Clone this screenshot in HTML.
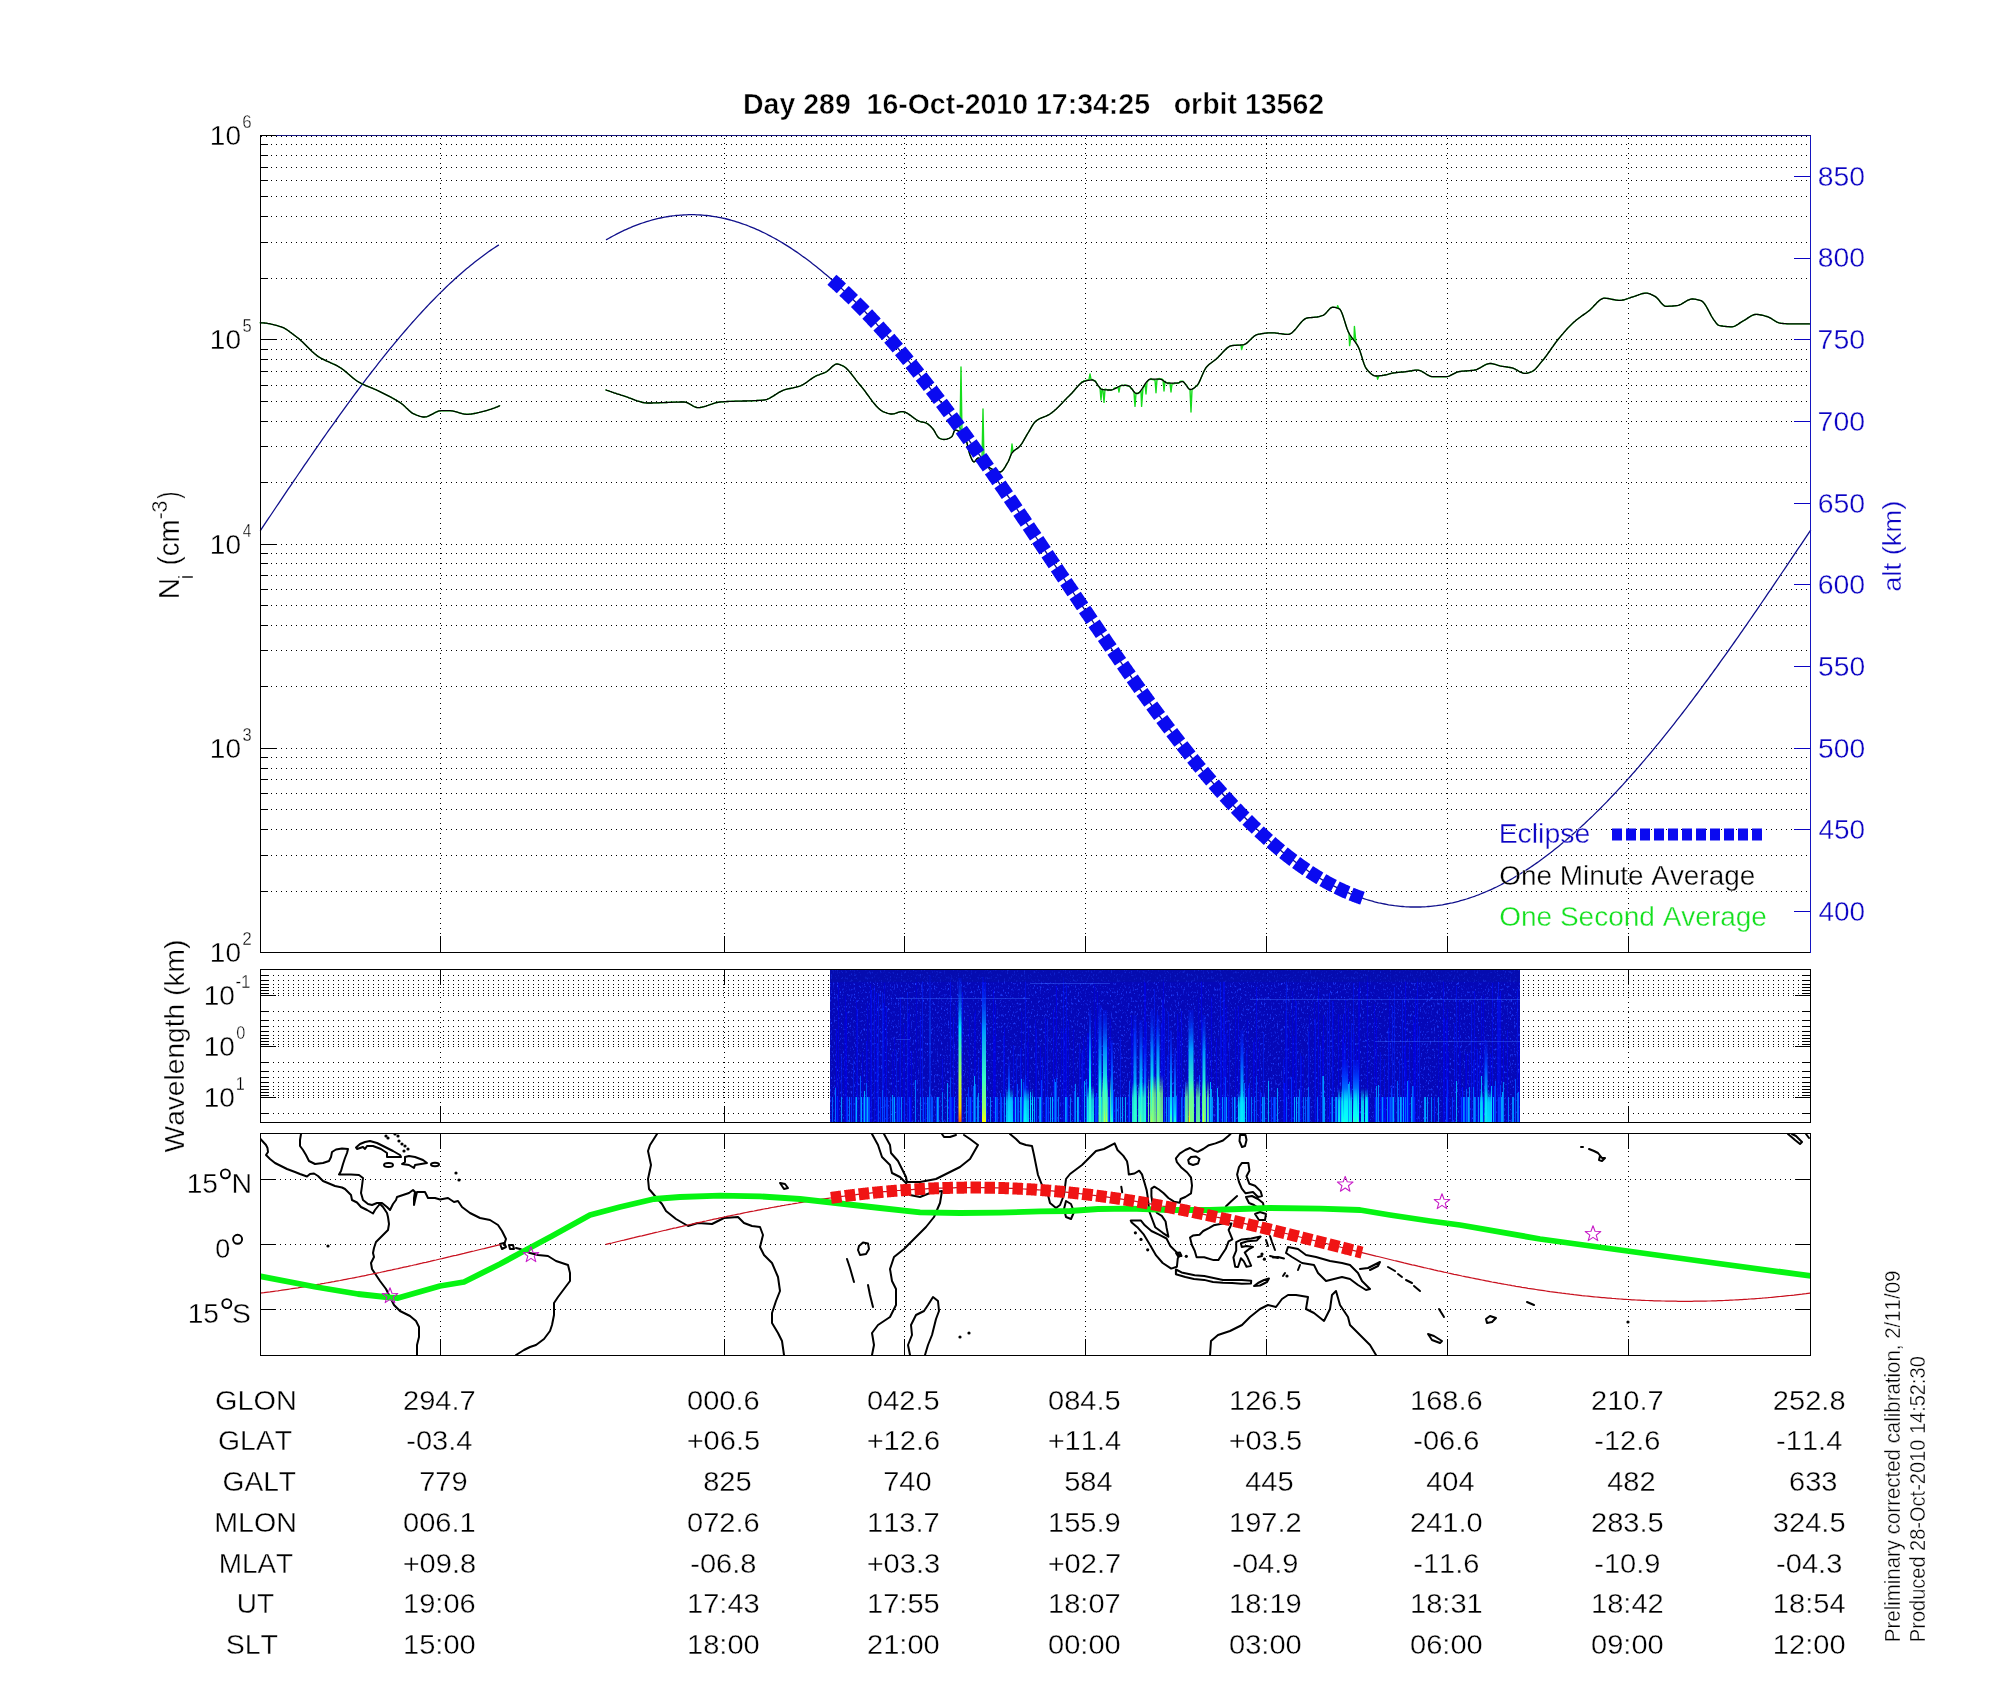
<!DOCTYPE html><html><head><meta charset="utf-8"><title>plot</title><style>html,body{margin:0;padding:0;background:#fff;overflow:hidden}svg{display:block;will-change:transform}text{font-family:"Liberation Sans",sans-serif;font-kerning:none;white-space:pre}</style></head><body>
<svg width="2000" height="1700" viewBox="0 0 2000 1700">
<rect x="0" y="0" width="2000" height="1700" fill="#fff"/>
<line x1="261" y1="891.5" x2="1810" y2="891.5" stroke="#000" stroke-width="1" stroke-dasharray="1 4" shape-rendering="crispEdges"/>
<line x1="260" y1="891.5" x2="268" y2="891.5" stroke="#000" stroke-width="1" shape-rendering="crispEdges"/>
<line x1="261" y1="855.5" x2="1810" y2="855.5" stroke="#000" stroke-width="1" stroke-dasharray="1 4" shape-rendering="crispEdges"/>
<line x1="260" y1="855.5" x2="268" y2="855.5" stroke="#000" stroke-width="1" shape-rendering="crispEdges"/>
<line x1="261" y1="829.5" x2="1810" y2="829.5" stroke="#000" stroke-width="1" stroke-dasharray="1 4" shape-rendering="crispEdges"/>
<line x1="260" y1="829.5" x2="268" y2="829.5" stroke="#000" stroke-width="1" shape-rendering="crispEdges"/>
<line x1="261" y1="809.5" x2="1810" y2="809.5" stroke="#000" stroke-width="1" stroke-dasharray="1 4" shape-rendering="crispEdges"/>
<line x1="260" y1="809.5" x2="268" y2="809.5" stroke="#000" stroke-width="1" shape-rendering="crispEdges"/>
<line x1="261" y1="793.5" x2="1810" y2="793.5" stroke="#000" stroke-width="1" stroke-dasharray="1 4" shape-rendering="crispEdges"/>
<line x1="260" y1="793.5" x2="268" y2="793.5" stroke="#000" stroke-width="1" shape-rendering="crispEdges"/>
<line x1="261" y1="779.5" x2="1810" y2="779.5" stroke="#000" stroke-width="1" stroke-dasharray="1 4" shape-rendering="crispEdges"/>
<line x1="260" y1="779.5" x2="268" y2="779.5" stroke="#000" stroke-width="1" shape-rendering="crispEdges"/>
<line x1="261" y1="768.5" x2="1810" y2="768.5" stroke="#000" stroke-width="1" stroke-dasharray="1 4" shape-rendering="crispEdges"/>
<line x1="260" y1="768.5" x2="268" y2="768.5" stroke="#000" stroke-width="1" shape-rendering="crispEdges"/>
<line x1="261" y1="757.5" x2="1810" y2="757.5" stroke="#000" stroke-width="1" stroke-dasharray="1 4" shape-rendering="crispEdges"/>
<line x1="260" y1="757.5" x2="268" y2="757.5" stroke="#000" stroke-width="1" shape-rendering="crispEdges"/>
<line x1="261" y1="748.5" x2="1810" y2="748.5" stroke="#000" stroke-width="1" stroke-dasharray="1 4" shape-rendering="crispEdges"/>
<line x1="260" y1="748.5" x2="277" y2="748.5" stroke="#000" stroke-width="1" shape-rendering="crispEdges"/>
<line x1="261" y1="686.5" x2="1810" y2="686.5" stroke="#000" stroke-width="1" stroke-dasharray="1 4" shape-rendering="crispEdges"/>
<line x1="260" y1="686.5" x2="268" y2="686.5" stroke="#000" stroke-width="1" shape-rendering="crispEdges"/>
<line x1="261" y1="650.5" x2="1810" y2="650.5" stroke="#000" stroke-width="1" stroke-dasharray="1 4" shape-rendering="crispEdges"/>
<line x1="260" y1="650.5" x2="268" y2="650.5" stroke="#000" stroke-width="1" shape-rendering="crispEdges"/>
<line x1="261" y1="625.5" x2="1810" y2="625.5" stroke="#000" stroke-width="1" stroke-dasharray="1 4" shape-rendering="crispEdges"/>
<line x1="260" y1="625.5" x2="268" y2="625.5" stroke="#000" stroke-width="1" shape-rendering="crispEdges"/>
<line x1="261" y1="605.5" x2="1810" y2="605.5" stroke="#000" stroke-width="1" stroke-dasharray="1 4" shape-rendering="crispEdges"/>
<line x1="260" y1="605.5" x2="268" y2="605.5" stroke="#000" stroke-width="1" shape-rendering="crispEdges"/>
<line x1="261" y1="589.5" x2="1810" y2="589.5" stroke="#000" stroke-width="1" stroke-dasharray="1 4" shape-rendering="crispEdges"/>
<line x1="260" y1="589.5" x2="268" y2="589.5" stroke="#000" stroke-width="1" shape-rendering="crispEdges"/>
<line x1="261" y1="575.5" x2="1810" y2="575.5" stroke="#000" stroke-width="1" stroke-dasharray="1 4" shape-rendering="crispEdges"/>
<line x1="260" y1="575.5" x2="268" y2="575.5" stroke="#000" stroke-width="1" shape-rendering="crispEdges"/>
<line x1="261" y1="563.5" x2="1810" y2="563.5" stroke="#000" stroke-width="1" stroke-dasharray="1 4" shape-rendering="crispEdges"/>
<line x1="260" y1="563.5" x2="268" y2="563.5" stroke="#000" stroke-width="1" shape-rendering="crispEdges"/>
<line x1="261" y1="553.5" x2="1810" y2="553.5" stroke="#000" stroke-width="1" stroke-dasharray="1 4" shape-rendering="crispEdges"/>
<line x1="260" y1="553.5" x2="268" y2="553.5" stroke="#000" stroke-width="1" shape-rendering="crispEdges"/>
<line x1="261" y1="544.5" x2="1810" y2="544.5" stroke="#000" stroke-width="1" stroke-dasharray="1 4" shape-rendering="crispEdges"/>
<line x1="260" y1="544.5" x2="277" y2="544.5" stroke="#000" stroke-width="1" shape-rendering="crispEdges"/>
<line x1="261" y1="482.5" x2="1810" y2="482.5" stroke="#000" stroke-width="1" stroke-dasharray="1 4" shape-rendering="crispEdges"/>
<line x1="260" y1="482.5" x2="268" y2="482.5" stroke="#000" stroke-width="1" shape-rendering="crispEdges"/>
<line x1="261" y1="446.5" x2="1810" y2="446.5" stroke="#000" stroke-width="1" stroke-dasharray="1 4" shape-rendering="crispEdges"/>
<line x1="260" y1="446.5" x2="268" y2="446.5" stroke="#000" stroke-width="1" shape-rendering="crispEdges"/>
<line x1="261" y1="421.5" x2="1810" y2="421.5" stroke="#000" stroke-width="1" stroke-dasharray="1 4" shape-rendering="crispEdges"/>
<line x1="260" y1="421.5" x2="268" y2="421.5" stroke="#000" stroke-width="1" shape-rendering="crispEdges"/>
<line x1="261" y1="401.5" x2="1810" y2="401.5" stroke="#000" stroke-width="1" stroke-dasharray="1 4" shape-rendering="crispEdges"/>
<line x1="260" y1="401.5" x2="268" y2="401.5" stroke="#000" stroke-width="1" shape-rendering="crispEdges"/>
<line x1="261" y1="385.5" x2="1810" y2="385.5" stroke="#000" stroke-width="1" stroke-dasharray="1 4" shape-rendering="crispEdges"/>
<line x1="260" y1="385.5" x2="268" y2="385.5" stroke="#000" stroke-width="1" shape-rendering="crispEdges"/>
<line x1="261" y1="371.5" x2="1810" y2="371.5" stroke="#000" stroke-width="1" stroke-dasharray="1 4" shape-rendering="crispEdges"/>
<line x1="260" y1="371.5" x2="268" y2="371.5" stroke="#000" stroke-width="1" shape-rendering="crispEdges"/>
<line x1="261" y1="359.5" x2="1810" y2="359.5" stroke="#000" stroke-width="1" stroke-dasharray="1 4" shape-rendering="crispEdges"/>
<line x1="260" y1="359.5" x2="268" y2="359.5" stroke="#000" stroke-width="1" shape-rendering="crispEdges"/>
<line x1="261" y1="349.5" x2="1810" y2="349.5" stroke="#000" stroke-width="1" stroke-dasharray="1 4" shape-rendering="crispEdges"/>
<line x1="260" y1="349.5" x2="268" y2="349.5" stroke="#000" stroke-width="1" shape-rendering="crispEdges"/>
<line x1="261" y1="339.5" x2="1810" y2="339.5" stroke="#000" stroke-width="1" stroke-dasharray="1 4" shape-rendering="crispEdges"/>
<line x1="260" y1="339.5" x2="277" y2="339.5" stroke="#000" stroke-width="1" shape-rendering="crispEdges"/>
<line x1="261" y1="278.5" x2="1810" y2="278.5" stroke="#000" stroke-width="1" stroke-dasharray="1 4" shape-rendering="crispEdges"/>
<line x1="260" y1="278.5" x2="268" y2="278.5" stroke="#000" stroke-width="1" shape-rendering="crispEdges"/>
<line x1="261" y1="242.5" x2="1810" y2="242.5" stroke="#000" stroke-width="1" stroke-dasharray="1 4" shape-rendering="crispEdges"/>
<line x1="260" y1="242.5" x2="268" y2="242.5" stroke="#000" stroke-width="1" shape-rendering="crispEdges"/>
<line x1="261" y1="216.5" x2="1810" y2="216.5" stroke="#000" stroke-width="1" stroke-dasharray="1 4" shape-rendering="crispEdges"/>
<line x1="260" y1="216.5" x2="268" y2="216.5" stroke="#000" stroke-width="1" shape-rendering="crispEdges"/>
<line x1="261" y1="196.5" x2="1810" y2="196.5" stroke="#000" stroke-width="1" stroke-dasharray="1 4" shape-rendering="crispEdges"/>
<line x1="260" y1="196.5" x2="268" y2="196.5" stroke="#000" stroke-width="1" shape-rendering="crispEdges"/>
<line x1="261" y1="180.5" x2="1810" y2="180.5" stroke="#000" stroke-width="1" stroke-dasharray="1 4" shape-rendering="crispEdges"/>
<line x1="260" y1="180.5" x2="268" y2="180.5" stroke="#000" stroke-width="1" shape-rendering="crispEdges"/>
<line x1="261" y1="167.5" x2="1810" y2="167.5" stroke="#000" stroke-width="1" stroke-dasharray="1 4" shape-rendering="crispEdges"/>
<line x1="260" y1="167.5" x2="268" y2="167.5" stroke="#000" stroke-width="1" shape-rendering="crispEdges"/>
<line x1="261" y1="155.5" x2="1810" y2="155.5" stroke="#000" stroke-width="1" stroke-dasharray="1 4" shape-rendering="crispEdges"/>
<line x1="260" y1="155.5" x2="268" y2="155.5" stroke="#000" stroke-width="1" shape-rendering="crispEdges"/>
<line x1="261" y1="144.5" x2="1810" y2="144.5" stroke="#000" stroke-width="1" stroke-dasharray="1 4" shape-rendering="crispEdges"/>
<line x1="260" y1="144.5" x2="268" y2="144.5" stroke="#000" stroke-width="1" shape-rendering="crispEdges"/>
<line x1="440.5" y1="138" x2="440.5" y2="952" stroke="#000" stroke-width="1" stroke-dasharray="1 4" shape-rendering="crispEdges"/>
<line x1="440.5" y1="936" x2="440.5" y2="952" stroke="#000" stroke-width="1" shape-rendering="crispEdges"/>
<line x1="724.5" y1="138" x2="724.5" y2="952" stroke="#000" stroke-width="1" stroke-dasharray="1 4" shape-rendering="crispEdges"/>
<line x1="724.5" y1="936" x2="724.5" y2="952" stroke="#000" stroke-width="1" shape-rendering="crispEdges"/>
<line x1="904.5" y1="138" x2="904.5" y2="952" stroke="#000" stroke-width="1" stroke-dasharray="1 4" shape-rendering="crispEdges"/>
<line x1="904.5" y1="936" x2="904.5" y2="952" stroke="#000" stroke-width="1" shape-rendering="crispEdges"/>
<line x1="1085.5" y1="138" x2="1085.5" y2="952" stroke="#000" stroke-width="1" stroke-dasharray="1 4" shape-rendering="crispEdges"/>
<line x1="1085.5" y1="936" x2="1085.5" y2="952" stroke="#000" stroke-width="1" shape-rendering="crispEdges"/>
<line x1="1266.5" y1="138" x2="1266.5" y2="952" stroke="#000" stroke-width="1" stroke-dasharray="1 4" shape-rendering="crispEdges"/>
<line x1="1266.5" y1="936" x2="1266.5" y2="952" stroke="#000" stroke-width="1" shape-rendering="crispEdges"/>
<line x1="1447.5" y1="138" x2="1447.5" y2="952" stroke="#000" stroke-width="1" stroke-dasharray="1 4" shape-rendering="crispEdges"/>
<line x1="1447.5" y1="936" x2="1447.5" y2="952" stroke="#000" stroke-width="1" shape-rendering="crispEdges"/>
<line x1="1628.5" y1="138" x2="1628.5" y2="952" stroke="#000" stroke-width="1" stroke-dasharray="1 4" shape-rendering="crispEdges"/>
<line x1="1628.5" y1="936" x2="1628.5" y2="952" stroke="#000" stroke-width="1" shape-rendering="crispEdges"/>
<line x1="261" y1="136.5" x2="1810" y2="136.5" stroke="#000" stroke-width="1" stroke-dasharray="1 4" shape-rendering="crispEdges"/>
<line x1="260" y1="135.5" x2="277" y2="135.5" stroke="#000" stroke-width="1" shape-rendering="crispEdges"/>
<line x1="1794" y1="911.5" x2="1810" y2="911.5" stroke="#0c04c4" stroke-width="1" shape-rendering="crispEdges"/>
<line x1="1794" y1="829.5" x2="1810" y2="829.5" stroke="#0c04c4" stroke-width="1" shape-rendering="crispEdges"/>
<line x1="1794" y1="748.5" x2="1810" y2="748.5" stroke="#0c04c4" stroke-width="1" shape-rendering="crispEdges"/>
<line x1="1794" y1="666.5" x2="1810" y2="666.5" stroke="#0c04c4" stroke-width="1" shape-rendering="crispEdges"/>
<line x1="1794" y1="584.5" x2="1810" y2="584.5" stroke="#0c04c4" stroke-width="1" shape-rendering="crispEdges"/>
<line x1="1794" y1="503.5" x2="1810" y2="503.5" stroke="#0c04c4" stroke-width="1" shape-rendering="crispEdges"/>
<line x1="1794" y1="421.5" x2="1810" y2="421.5" stroke="#0c04c4" stroke-width="1" shape-rendering="crispEdges"/>
<line x1="1794" y1="339.5" x2="1810" y2="339.5" stroke="#0c04c4" stroke-width="1" shape-rendering="crispEdges"/>
<line x1="1794" y1="258.5" x2="1810" y2="258.5" stroke="#0c04c4" stroke-width="1" shape-rendering="crispEdges"/>
<line x1="1794" y1="176.5" x2="1810" y2="176.5" stroke="#0c04c4" stroke-width="1" shape-rendering="crispEdges"/>
<path d="M606.5,239.6 L608.5,238.5 L610.5,237.4 L612.5,236.3 L614.5,235.2 L616.5,234.1 L618.5,233.1 L620.5,232.1 L622.5,231.2 L624.5,230.2 L626.5,229.3 L628.5,228.4 L630.5,227.6 L632.5,226.7 L634.5,225.9 L636.5,225.1 L638.5,224.4 L640.5,223.7 L642.5,223.0 L644.5,222.3 L646.5,221.7 L648.5,221.1 L650.5,220.5 L652.5,219.9 L654.5,219.4 L656.5,218.9 L658.5,218.4 L660.5,218.0 L662.5,217.6 L664.5,217.2 L666.5,216.8 L668.5,216.5 L670.5,216.2 L672.5,215.9 L674.5,215.7 L676.5,215.4 L678.5,215.3 L680.5,215.1 L682.5,215.0 L684.5,214.8 L686.5,214.8 L688.5,214.7 L690.5,214.7 L692.5,214.7 L694.5,214.7 L696.5,214.8 L698.5,214.9 L700.5,215.0 L702.5,215.1 L704.5,215.3 L706.5,215.5 L708.5,215.7 L710.5,216.0 L712.5,216.3 L714.5,216.6 L716.5,216.9 L718.5,217.3 L720.5,217.7 L722.5,218.1 L724.5,218.5 L726.5,219.0 L728.5,219.5 L730.5,220.0 L732.5,220.6 L734.5,221.2 L736.5,221.8 L738.5,222.4 L740.5,223.1 L742.5,223.8 L744.5,224.5 L746.5,225.2 L748.5,226.0 L750.5,226.8 L752.5,227.6 L754.5,228.4 L756.5,229.3 L758.5,230.2 L760.5,231.1 L762.5,232.1 L764.5,233.0 L766.5,234.0 L768.5,235.1 L770.5,236.1 L772.5,237.2 L774.5,238.3 L776.5,239.4 L778.5,240.5 L780.5,241.7 L782.5,242.9 L784.5,244.1 L786.5,245.4 L788.5,246.6 L790.5,247.9 L792.5,249.2 L794.5,250.6 L796.5,251.9 L798.5,253.3 L800.5,254.7 L802.5,256.2 L804.5,257.6 L806.5,259.1 L808.5,260.6 L810.5,262.1 L812.5,263.7 L814.5,265.2 L816.5,266.8 L818.5,268.4 L820.5,270.0 L822.5,271.7 L824.5,273.4 L826.5,275.1 L828.5,276.8 L830.5,278.5 L832.5,280.3 L834.5,282.1 L836.5,283.9 L838.5,285.7 L840.5,287.5 L842.5,289.4 L844.5,291.3 L846.5,293.2 L848.5,295.1 L850.5,297.0 L852.5,299.0 L854.5,301.0 L856.5,303.0 L858.5,305.0 L860.5,307.0 L862.5,309.1 L864.5,311.1 L866.5,313.2 L868.5,315.3 L870.5,317.4 L872.5,319.6 L874.5,321.7 L876.5,323.9 L878.5,326.1 L880.5,328.3 L882.5,330.5 L884.5,332.8 L886.5,335.1 L888.5,337.3 L890.5,339.6 L892.5,341.9 L894.5,344.2 L896.5,346.6 L898.5,348.9 L900.5,351.3 L902.5,353.7 L904.5,356.1 L906.5,358.5 L908.5,360.9 L910.5,363.4 L912.5,365.8 L914.5,368.3 L916.5,370.8 L918.5,373.3 L920.5,375.8 L922.5,378.3 L924.5,380.9 L926.5,383.4 L928.5,386.0 L930.5,388.6 L932.5,391.1 L934.5,393.7 L936.5,396.4 L938.5,399.0 L940.5,401.6 L942.5,404.3 L944.5,406.9 L946.5,409.6 L948.5,412.3 L950.5,415.0 L952.5,417.7 L954.5,420.4 L956.5,423.1 L958.5,425.8 L960.5,428.6 L962.5,431.3 L964.5,434.1 L966.5,436.8 L968.5,439.6 L970.5,442.4 L972.5,445.2 L974.5,448.0 L976.5,450.8 L978.5,453.6 L980.5,456.5 L982.5,459.3 L984.5,462.1 L986.5,465.0 L988.5,467.8 L990.5,470.7 L992.5,473.6 L994.5,476.5 L996.5,479.3 L998.5,482.2 L1000.5,485.1 L1002.5,488.0 L1004.5,490.9 L1006.5,493.8 L1008.5,496.8 L1010.5,499.7 L1012.5,502.6 L1014.5,505.5 L1016.5,508.5 L1018.5,511.4 L1020.5,514.3 L1022.5,517.3 L1024.5,520.2 L1026.5,523.2 L1028.5,526.1 L1030.5,529.1 L1032.5,532.1 L1034.5,535.0 L1036.5,538.0 L1038.5,541.0 L1040.5,543.9 L1042.5,546.9 L1044.5,549.9 L1046.5,552.8 L1048.5,555.8 L1050.5,558.8 L1052.5,561.8 L1054.5,564.7 L1056.5,567.7 L1058.5,570.7 L1060.5,573.7 L1062.5,576.7 L1064.5,579.6 L1066.5,582.6 L1068.5,585.6 L1070.5,588.5 L1072.5,591.5 L1074.5,594.5 L1076.5,597.4 L1078.5,600.4 L1080.5,603.4 L1082.5,606.3 L1084.5,609.3 L1086.5,612.2 L1088.5,615.2 L1090.5,618.1 L1092.5,621.1 L1094.5,624.0 L1096.5,626.9 L1098.5,629.9 L1100.5,632.8 L1102.5,635.7 L1104.5,638.6 L1106.5,641.5 L1108.5,644.4 L1110.5,647.3 L1112.5,650.2 L1114.5,653.1 L1116.5,656.0 L1118.5,658.9 L1120.5,661.7 L1122.5,664.6 L1124.5,667.4 L1126.5,670.3 L1128.5,673.1 L1130.5,675.9 L1132.5,678.8 L1134.5,681.6 L1136.5,684.4 L1138.5,687.2 L1140.5,690.0 L1142.5,692.7 L1144.5,695.5 L1146.5,698.3 L1148.5,701.0 L1150.5,703.7 L1152.5,706.5 L1154.5,709.2 L1156.5,711.9 L1158.5,714.6 L1160.5,717.3 L1162.5,719.9 L1164.5,722.6 L1166.5,725.3 L1168.5,727.9 L1170.5,730.5 L1172.5,733.1 L1174.5,735.7 L1176.5,738.3 L1178.5,740.9 L1180.5,743.4 L1182.5,746.0 L1184.5,748.5 L1186.5,751.0 L1188.5,753.5 L1190.5,756.0 L1192.5,758.5 L1194.5,761.0 L1196.5,763.4 L1198.5,765.8 L1200.5,768.3 L1202.5,770.7 L1204.5,773.1 L1206.5,775.4 L1208.5,777.8 L1210.5,780.1 L1212.5,782.4 L1214.5,784.7 L1216.5,787.0 L1218.5,789.3 L1220.5,791.5 L1222.5,793.8 L1224.5,796.0 L1226.5,798.2 L1228.5,800.4 L1230.5,802.5 L1232.5,804.7 L1234.5,806.8 L1236.5,808.9 L1238.5,811.0 L1240.5,813.1 L1242.5,815.1 L1244.5,817.2 L1246.5,819.2 L1248.5,821.2 L1250.5,823.1 L1252.5,825.1 L1254.5,827.0 L1256.5,828.9 L1258.5,830.8 L1260.5,832.7 L1262.5,834.6 L1264.5,836.4 L1266.5,838.2 L1268.5,840.0 L1270.5,841.8 L1272.5,843.5 L1274.5,845.2 L1276.5,846.9 L1278.5,848.6 L1280.5,850.3 L1282.5,851.9 L1284.5,853.5 L1286.5,855.1 L1288.5,856.7 L1290.5,858.2 L1292.5,859.8 L1294.5,861.3 L1296.5,862.8 L1298.5,864.2 L1300.5,865.7 L1302.5,867.1 L1304.5,868.4 L1306.5,869.8 L1308.5,871.2 L1310.5,872.5 L1312.5,873.8 L1314.5,875.0 L1316.5,876.3 L1318.5,877.5 L1320.5,878.7 L1322.5,879.9 L1324.5,881.0 L1326.5,882.2 L1328.5,883.3 L1330.5,884.3 L1332.5,885.4 L1334.5,886.4 L1336.5,887.4 L1338.5,888.4 L1340.5,889.4 L1342.5,890.3 L1344.5,891.2 L1346.5,892.1 L1348.5,892.9 L1350.5,893.8 L1352.5,894.6 L1354.5,895.3 L1356.5,896.1 L1358.5,896.8 L1360.5,897.5 L1362.5,898.2 L1364.5,898.9 L1366.5,899.5 L1368.5,900.1 L1370.5,900.7 L1372.5,901.2 L1374.5,901.8 L1376.5,902.3 L1378.5,902.8 L1380.5,903.2 L1382.5,903.6 L1384.5,904.0 L1386.5,904.4 L1388.5,904.8 L1390.5,905.1 L1392.5,905.4 L1394.5,905.7 L1396.5,905.9 L1398.5,906.1 L1400.5,906.3 L1402.5,906.5 L1404.5,906.7 L1406.5,906.8 L1408.5,906.9 L1410.5,907.0 L1412.5,907.0 L1414.5,907.0 L1416.5,907.0 L1418.5,907.0 L1420.5,907.0 L1422.5,906.9 L1424.5,906.8 L1426.5,906.7 L1428.5,906.5 L1430.5,906.3 L1432.5,906.1 L1434.5,905.9 L1436.5,905.7 L1438.5,905.4 L1440.5,905.1 L1442.5,904.8 L1444.5,904.4 L1446.5,904.0 L1448.5,903.6 L1450.5,903.2 L1452.5,902.8 L1454.5,902.3 L1456.5,901.8 L1458.5,901.3 L1460.5,900.7 L1462.5,900.2 L1464.5,899.6 L1466.5,899.0 L1468.5,898.3 L1470.5,897.7 L1472.5,897.0 L1474.5,896.3 L1476.5,895.5 L1478.5,894.8 L1480.5,894.0 L1482.5,893.2 L1484.5,892.4 L1486.5,891.5 L1488.5,890.7 L1490.5,889.8 L1492.5,888.9 L1494.5,887.9 L1496.5,887.0 L1498.5,886.0 L1500.5,885.0 L1502.5,883.9 L1504.5,882.9 L1506.5,881.8 L1508.5,880.7 L1510.5,879.6 L1512.5,878.5 L1514.5,877.3 L1516.5,876.1 L1518.5,874.9 L1520.5,873.7 L1522.5,872.4 L1524.5,871.2 L1526.5,869.9 L1528.5,868.6 L1530.5,867.2 L1532.5,865.9 L1534.5,864.5 L1536.5,863.1 L1538.5,861.7 L1540.5,860.2 L1542.5,858.8 L1544.5,857.3 L1546.5,855.8 L1548.5,854.3 L1550.5,852.8 L1552.5,851.2 L1554.5,849.6 L1556.5,848.0 L1558.5,846.4 L1560.5,844.8 L1562.5,843.1 L1564.5,841.4 L1566.5,839.8 L1568.5,838.0 L1570.5,836.3 L1572.5,834.6 L1574.5,832.8 L1576.5,831.0 L1578.5,829.2 L1580.5,827.4 L1582.5,825.5 L1584.5,823.7 L1586.5,821.8 L1588.5,819.9 L1590.5,818.0 L1592.5,816.1 L1594.5,814.1 L1596.5,812.1 L1598.5,810.2 L1600.5,808.2 L1602.5,806.1 L1604.5,804.1 L1606.5,802.1 L1608.5,800.0 L1610.5,797.9 L1612.5,795.8 L1614.5,793.7 L1616.5,791.6 L1618.5,789.4 L1620.5,787.2 L1622.5,785.1 L1624.5,782.9 L1626.5,780.7 L1628.5,778.4 L1630.5,776.2 L1632.5,773.9 L1634.5,771.7 L1636.5,769.4 L1638.5,767.1 L1640.5,764.8 L1642.5,762.4 L1644.5,760.1 L1646.5,757.7 L1648.5,755.3 L1650.5,753.0 L1652.5,750.6 L1654.5,748.1 L1656.5,745.7 L1658.5,743.3 L1660.5,740.8 L1662.5,738.3 L1664.5,735.9 L1666.5,733.4 L1668.5,730.9 L1670.5,728.3 L1672.5,725.8 L1674.5,723.3 L1676.5,720.7 L1678.5,718.1 L1680.5,715.6 L1682.5,713.0 L1684.5,710.4 L1686.5,707.8 L1688.5,705.1 L1690.5,702.5 L1692.5,699.8 L1694.5,697.2 L1696.5,694.5 L1698.5,691.8 L1700.5,689.1 L1702.5,686.4 L1704.5,683.7 L1706.5,681.0 L1708.5,678.3 L1710.5,675.5 L1712.5,672.8 L1714.5,670.0 L1716.5,667.3 L1718.5,664.5 L1720.5,661.7 L1722.5,658.9 L1724.5,656.1 L1726.5,653.3 L1728.5,650.5 L1730.5,647.7 L1732.5,644.8 L1734.5,642.0 L1736.5,639.1 L1738.5,636.3 L1740.5,633.4 L1742.5,630.6 L1744.5,627.7 L1746.5,624.8 L1748.5,621.9 L1750.5,619.0 L1752.5,616.1 L1754.5,613.2 L1756.5,610.3 L1758.5,607.4 L1760.5,604.5 L1762.5,601.5 L1764.5,598.6 L1766.5,595.7 L1768.5,592.7 L1770.5,589.8 L1772.5,586.8 L1774.5,583.9 L1776.5,580.9 L1778.5,578.0 L1780.5,575.0 L1782.5,572.0 L1784.5,569.1 L1786.5,566.1 L1788.5,563.1 L1790.5,560.2 L1792.5,557.2 L1794.5,554.2 L1796.5,551.2 L1798.5,548.2 L1800.5,545.3 L1802.5,542.3 L1804.5,539.3 L1806.5,536.3 L1808.5,533.3 L1810.5,530.4" stroke="#10108c" stroke-width="1.3" fill="none" stroke-linejoin="round" stroke-linecap="round" />
<path d="M260.5,530.4 L262.5,527.4 L264.5,524.4 L266.5,521.4 L268.5,518.4 L270.5,515.5 L272.5,512.5 L274.5,509.5 L276.5,506.5 L278.5,503.6 L280.5,500.6 L282.5,497.6 L284.5,494.7 L286.5,491.7 L288.5,488.7 L290.5,485.8 L292.5,482.8 L294.5,479.9 L296.5,477.0 L298.5,474.0 L300.5,471.1 L302.5,468.2 L304.5,465.2 L306.5,462.3 L308.5,459.4 L310.5,456.5 L312.5,453.6 L314.5,450.7 L316.5,447.9 L318.5,445.0 L320.5,442.1 L322.5,439.2 L324.5,436.4 L326.5,433.5 L328.5,430.7 L330.5,427.9 L332.5,425.1 L334.5,422.3 L336.5,419.5 L338.5,416.7 L340.5,413.9 L342.5,411.1 L344.5,408.3 L346.5,405.6 L348.5,402.9 L350.5,400.1 L352.5,397.4 L354.5,394.7 L356.5,392.0 L358.5,389.3 L360.5,386.7 L362.5,384.0 L364.5,381.4 L366.5,378.7 L368.5,376.1 L370.5,373.5 L372.5,370.9 L374.5,368.3 L376.5,365.8 L378.5,363.2 L380.5,360.7 L382.5,358.2 L384.5,355.7 L386.5,353.2 L388.5,350.7 L390.5,348.2 L392.5,345.8 L394.5,343.4 L396.5,341.0 L398.5,338.6 L400.5,336.2 L402.5,333.8 L404.5,331.5 L406.5,329.2 L408.5,326.9 L410.5,324.6 L412.5,322.3 L414.5,320.1 L416.5,317.9 L418.5,315.6 L420.5,313.5 L422.5,311.3 L424.5,309.1 L426.5,307.0 L428.5,304.9 L430.5,302.8 L432.5,300.7 L434.5,298.7 L436.5,296.6 L438.5,294.6 L440.5,292.6 L442.5,290.7 L444.5,288.7 L446.5,286.8 L448.5,284.9 L450.5,283.0 L452.5,281.2 L454.5,279.3 L456.5,277.5 L458.5,275.8 L460.5,274.0 L462.5,272.2 L464.5,270.5 L466.5,268.8 L468.5,267.2 L470.5,265.5 L472.5,263.9 L474.5,262.3 L476.5,260.7 L478.5,259.2 L480.5,257.7 L482.5,256.2 L484.5,254.7 L486.5,253.2 L488.5,251.8 L490.5,250.4 L492.5,249.0 L494.5,247.7 L496.5,246.4 L498.5,245.1" stroke="#10108c" stroke-width="1.3" fill="none" stroke-linejoin="round" stroke-linecap="round" />
<path d="M260.3,322.8 L261.3,322.8 L262.3,322.9 L263.3,322.9 L264.3,323.0 L265.3,323.1 L266.3,323.2 L267.3,323.4 L268.3,323.6 L269.3,323.7 L270.3,323.9 L271.3,324.2 L272.3,324.4 L273.3,324.6 L274.3,324.9 L275.3,325.1 L276.3,325.4 L277.3,325.7 L278.3,326.0 L279.3,326.3 L280.3,326.6 L281.3,326.9 L282.3,327.3 L283.3,327.7 L284.3,328.2 L285.3,328.8 L286.3,329.4 L287.3,330.0 L288.3,330.7 L289.3,331.4 L290.3,332.2 L291.3,332.9 L292.3,333.7 L293.3,334.4 L294.3,335.2 L295.3,336.0 L296.3,336.8 L297.3,337.5 L298.3,338.3 L299.3,339.1 L300.3,340.0 L301.3,340.9 L302.3,341.8 L303.3,342.8 L304.3,343.8 L305.3,344.8 L306.3,345.8 L307.3,346.8 L308.3,347.8 L309.3,348.8 L310.3,349.8 L311.3,350.7 L312.3,351.7 L313.3,352.6 L314.3,353.5 L315.3,354.3 L316.3,355.1 L317.3,355.9 L318.3,356.6 L319.3,357.2 L320.3,357.8 L321.3,358.4 L322.3,358.9 L323.3,359.4 L324.3,359.9 L325.3,360.4 L326.3,360.9 L327.3,361.3 L328.3,361.7 L329.3,362.2 L330.3,362.6 L331.3,363.1 L332.3,363.5 L333.3,364.0 L334.3,364.4 L335.3,364.9 L336.3,365.4 L337.3,365.9 L338.3,366.5 L339.3,367.1 L340.3,367.7 L341.3,368.3 L342.3,369.1 L343.3,369.8 L344.3,370.6 L345.3,371.4 L346.3,372.3 L347.3,373.1 L348.3,374.0 L349.3,374.8 L350.3,375.7 L351.3,376.6 L352.3,377.4 L353.3,378.2 L354.3,379.0 L355.3,379.8 L356.3,380.5 L357.3,381.2 L358.3,381.8 L359.3,382.4 L360.3,382.9 L361.3,383.5 L362.3,384.0 L363.3,384.4 L364.3,384.9 L365.3,385.3 L366.3,385.8 L367.3,386.2 L368.3,386.6 L369.3,387.0 L370.3,387.4 L371.3,387.8 L372.3,388.2 L373.3,388.7 L374.3,389.1 L375.3,389.5 L376.3,389.9 L377.3,390.4 L378.3,390.8 L379.3,391.3 L380.3,391.8 L381.3,392.3 L382.3,392.8 L383.3,393.3 L384.3,393.8 L385.3,394.3 L386.3,394.8 L387.3,395.3 L388.3,395.8 L389.3,396.3 L390.3,396.9 L391.3,397.4 L392.3,398.0 L393.3,398.5 L394.3,399.1 L395.3,399.7 L396.3,400.2 L397.3,400.9 L398.3,401.5 L399.3,402.1 L400.3,402.8 L401.3,403.4 L402.3,404.2 L403.3,405.0 L404.3,405.9 L405.3,406.9 L406.3,407.9 L407.3,408.8 L408.3,409.8 L409.3,410.7 L410.3,411.6 L411.3,412.4 L412.3,413.1 L413.3,413.7 L414.3,414.1 L415.3,414.5 L416.3,415.0 L417.3,415.4 L418.3,415.7 L419.3,416.1 L420.3,416.4 L421.3,416.6 L422.3,416.8 L423.3,417.0 L424.3,417.0 L425.3,416.9 L426.3,416.8 L427.3,416.5 L428.3,416.1 L429.3,415.7 L430.3,415.2 L431.3,414.7 L432.3,414.2 L433.3,413.6 L434.3,413.0 L435.3,412.5 L436.3,412.0 L437.3,411.6 L438.3,411.2 L439.3,410.9 L440.3,410.8 L441.3,410.7 L442.3,410.7 L443.3,410.7 L444.3,410.7 L445.3,410.7 L446.3,410.7 L447.3,410.7 L448.3,410.7 L449.3,410.7 L450.3,410.7 L451.3,410.8 L452.3,410.9 L453.3,411.1 L454.3,411.3 L455.3,411.6 L456.3,411.9 L457.3,412.2 L458.3,412.5 L459.3,412.8 L460.3,413.1 L461.3,413.4 L462.3,413.7 L463.3,413.9 L464.3,414.1 L465.3,414.2 L466.3,414.3 L467.3,414.3 L468.3,414.3 L469.3,414.2 L470.3,414.1 L471.3,414.0 L472.3,413.8 L473.3,413.7 L474.3,413.5 L475.3,413.3 L476.3,413.1 L477.3,412.8 L478.3,412.6 L479.3,412.4 L480.3,412.1 L481.3,411.9 L482.3,411.6 L483.3,411.4 L484.3,411.2 L485.3,410.9 L486.3,410.6 L487.3,410.3 L488.3,410.0 L489.3,409.7 L490.3,409.4 L491.3,409.1 L492.3,408.7 L493.3,408.3 L494.3,408.0 L495.3,407.6 L496.3,407.2 L497.3,406.8 L498.3,406.3 L499.3,405.9 L499.6,405.8" stroke="#16dc1c" stroke-width="1.4" fill="none" stroke-linejoin="round" stroke-linecap="round" />
<path d="M606.0,390.0 L607.0,390.4 L608.0,390.7 L609.0,391.0 L610.0,391.4 L611.0,391.7 L612.0,392.1 L613.0,392.4 L614.0,392.8 L615.0,393.1 L616.0,393.4 L617.0,393.8 L618.0,394.1 L619.0,394.4 L620.0,394.7 L621.0,395.1 L622.0,395.4 L623.0,395.7 L624.0,396.0 L625.0,396.3 L626.0,396.7 L627.0,397.0 L628.0,397.4 L629.0,397.8 L630.0,398.1 L631.0,398.5 L632.0,398.9 L633.0,399.3 L634.0,399.7 L635.0,400.1 L636.0,400.4 L637.0,400.8 L638.0,401.1 L639.0,401.4 L640.0,401.7 L641.0,402.0 L642.0,402.3 L643.0,402.5 L644.0,402.7 L645.0,402.8 L646.0,402.9 L647.0,403.0 L648.0,403.0 L649.0,403.0 L650.0,403.0 L651.0,403.0 L652.0,403.0 L653.0,402.9 L654.0,402.9 L655.0,402.9 L656.0,402.9 L657.0,402.8 L658.0,402.8 L659.0,402.8 L660.0,402.7 L661.0,402.7 L662.0,402.7 L663.0,402.6 L664.0,402.6 L665.0,402.5 L666.0,402.5 L667.0,402.5 L668.0,402.4 L669.0,402.4 L670.0,402.3 L671.0,402.3 L672.0,402.3 L673.0,402.2 L674.0,402.2 L675.0,402.2 L676.0,402.1 L677.0,402.1 L678.0,402.1 L679.0,402.1 L680.0,402.0 L681.0,402.0 L682.0,402.0 L683.0,402.0 L684.0,402.0 L685.0,402.1 L686.0,402.3 L687.0,402.7 L688.0,403.1 L689.0,403.6 L690.0,404.2 L691.0,404.8 L692.0,405.4 L693.0,406.0 L694.0,406.5 L695.0,406.9 L696.0,407.3 L697.0,407.5 L698.0,407.6 L699.0,407.6 L700.0,407.5 L701.0,407.3 L702.0,407.2 L703.0,406.9 L704.0,406.7 L705.0,406.4 L706.0,406.1 L707.0,405.7 L708.0,405.4 L709.0,405.0 L710.0,404.7 L711.0,404.3 L712.0,404.0 L713.0,403.6 L714.0,403.3 L715.0,403.0 L716.0,402.7 L717.0,402.5 L718.0,402.3 L719.0,402.1 L720.0,402.0 L721.0,401.9 L722.0,401.8 L723.0,401.8 L724.0,401.7 L725.0,401.6 L726.0,401.6 L727.0,401.5 L728.0,401.5 L729.0,401.4 L730.0,401.4 L731.0,401.4 L732.0,401.3 L733.0,401.3 L734.0,401.3 L735.0,401.2 L736.0,401.2 L737.0,401.2 L738.0,401.1 L739.0,401.1 L740.0,401.1 L741.0,401.1 L742.0,401.1 L743.0,401.0 L744.0,401.0 L745.0,401.0 L746.0,401.0 L747.0,400.9 L748.0,400.9 L749.0,400.9 L750.0,400.8 L751.0,400.8 L752.0,400.8 L753.0,400.7 L754.0,400.7 L755.0,400.6 L756.0,400.6 L757.0,400.5 L758.0,400.5 L759.0,400.4 L760.0,400.3 L761.0,400.3 L762.0,400.2 L763.0,400.1 L764.0,400.0 L765.0,399.9 L766.0,399.6 L767.0,399.3 L768.0,398.9 L769.0,398.5 L770.0,398.0 L771.0,397.4 L772.0,396.8 L773.0,396.2 L774.0,395.6 L775.0,394.9 L776.0,394.3 L777.0,393.6 L778.0,393.0 L779.0,392.4 L780.0,391.8 L781.0,391.3 L782.0,390.8 L783.0,390.4 L784.0,390.0 L785.0,389.7 L786.0,389.4 L787.0,389.1 L788.0,388.9 L789.0,388.7 L790.0,388.5 L791.0,388.3 L792.0,388.1 L793.0,387.9 L794.0,387.6 L795.0,387.4 L796.0,387.2 L797.0,386.9 L798.0,386.6 L799.0,386.3 L800.0,386.0 L801.0,385.6 L802.0,385.1 L803.0,384.6 L804.0,384.0 L805.0,383.4 L806.0,382.7 L807.0,382.0 L808.0,381.2 L809.0,380.5 L810.0,379.8 L811.0,379.1 L812.0,378.4 L813.0,377.7 L814.0,377.1 L815.0,376.5 L816.0,376.0 L817.0,375.5 L818.0,375.1 L819.0,374.8 L820.0,374.4 L821.0,374.0 L822.0,373.7 L823.0,373.3 L824.0,372.9 L825.0,372.5 L826.0,372.0 L827.0,371.4 L828.0,370.6 L829.0,369.7 L830.0,368.8 L831.0,367.8 L832.0,366.8 L833.0,365.9 L834.0,365.2 L835.0,364.5 L836.0,364.1 L837.0,364.0 L838.0,364.1 L839.0,364.3 L840.0,364.6 L841.0,365.1 L842.0,365.5 L843.0,366.0 L844.0,366.5 L845.0,367.2 L846.0,368.0 L847.0,369.0 L848.0,370.0 L849.0,371.1 L850.0,372.3 L851.0,373.5 L852.0,374.8 L853.0,376.1 L854.0,377.4 L855.0,378.7 L856.0,380.1 L857.0,381.4 L858.0,382.6 L859.0,383.8 L860.0,385.0 L861.0,386.2 L862.0,387.4 L863.0,388.6 L864.0,389.9 L865.0,391.2 L866.0,392.6 L867.0,394.0 L868.0,395.3 L869.0,396.7 L870.0,398.1 L871.0,399.4 L872.0,400.8 L873.0,402.1 L874.0,403.3 L875.0,404.5 L876.0,405.7 L877.0,406.8 L878.0,407.8 L879.0,408.7 L880.0,409.6 L881.0,410.4 L882.0,411.0 L883.0,411.6 L884.0,412.0 L885.0,412.4 L886.0,412.7 L887.0,413.1 L888.0,413.4 L889.0,413.6 L890.0,413.8 L891.0,414.0 L892.0,414.0 L893.0,413.9 L894.0,413.8 L895.0,413.5 L896.0,413.2 L897.0,412.8 L898.0,412.4 L899.0,412.1 L900.0,411.8 L901.0,411.7 L902.0,411.6 L903.0,411.7 L904.0,411.9 L905.0,412.2 L906.0,412.6 L907.0,413.1 L908.0,413.7 L909.0,414.4 L910.0,415.1 L911.0,415.8 L912.0,416.6 L913.0,417.3 L914.0,418.1 L915.0,418.8 L916.0,419.5 L917.0,420.1 L918.0,420.6 L919.0,421.1 L920.0,421.5 L921.0,421.8 L922.0,422.0 L923.0,422.2 L924.0,422.4 L925.0,422.7 L926.0,423.0 L927.0,423.5 L928.0,424.1 L929.0,424.9 L930.0,425.8 L931.0,426.8 L932.0,427.9 L933.0,429.0 L934.0,430.4 L935.0,432.1 L936.0,434.0 L937.0,435.7 L938.0,437.1 L939.0,438.0 L940.0,438.5 L941.0,438.9 L942.0,439.2 L943.0,439.4 L944.0,439.5 L945.0,439.4 L946.0,439.3 L947.0,439.1 L948.0,438.7 L949.0,438.3 L950.0,437.8 L951.0,437.2 L952.0,436.5 L953.0,434.5 L954.0,431.5 L955.0,430.0 L956.0,430.1 L957.0,430.4 L958.0,430.9 L959.0,431.4 L960.0,432.0 L961.0,367.0 L962.0,433.7 L963.0,434.9 L964.0,436.4 L965.0,438.1 L966.0,440.0 L967.0,443.0 L968.0,447.3 L969.0,451.7 L970.0,455.0 L971.0,457.4 L972.0,459.7 L973.0,461.4 L974.0,462.0 L975.0,461.4 L976.0,460.0 L977.0,458.6 L978.0,458.0 L979.0,458.2 L980.0,458.6 L981.0,459.3 L982.0,460.1 L983.0,409.0 L984.0,462.2 L985.0,463.3 L986.0,464.5 L987.0,465.5 L988.0,466.5 L989.0,467.4 L990.0,468.0 L991.0,468.5 L992.0,469.1 L993.0,469.7 L994.0,470.2 L995.0,470.7 L996.0,471.1 L997.0,471.5 L998.0,471.8 L999.0,471.9 L1000.0,472.0 L1001.0,471.8 L1002.0,471.1 L1003.0,470.0 L1004.0,468.7 L1005.0,467.1 L1006.0,465.4 L1007.0,463.7 L1008.0,462.0 L1009.0,459.9 L1010.0,457.3 L1011.0,454.8 L1012.0,444.0 L1013.0,451.8 L1014.0,450.8 L1015.0,450.0 L1016.0,449.3 L1017.0,448.6 L1018.0,447.9 L1019.0,447.0 L1020.0,446.0 L1021.0,444.7 L1022.0,443.3 L1023.0,441.7 L1024.0,439.9 L1025.0,438.1 L1026.0,436.4 L1027.0,434.6 L1028.0,433.0 L1029.0,431.4 L1030.0,429.7 L1031.0,427.9 L1032.0,426.2 L1033.0,424.6 L1034.0,423.2 L1035.0,421.9 L1036.0,421.0 L1037.0,420.3 L1038.0,419.6 L1039.0,419.0 L1040.0,418.5 L1041.0,418.1 L1042.0,417.7 L1043.0,417.3 L1044.0,416.9 L1045.0,416.5 L1046.0,416.1 L1047.0,415.6 L1048.0,415.1 L1049.0,414.6 L1050.0,414.0 L1051.0,413.3 L1052.0,412.6 L1053.0,411.8 L1054.0,411.0 L1055.0,410.1 L1056.0,409.2 L1057.0,408.2 L1058.0,407.3 L1059.0,406.3 L1060.0,405.2 L1061.0,404.2 L1062.0,403.2 L1063.0,402.1 L1064.0,401.1 L1065.0,400.0 L1066.0,399.0 L1067.0,397.9 L1068.0,396.9 L1069.0,396.0 L1070.0,395.0 L1071.0,394.0 L1072.0,393.0 L1073.0,391.8 L1074.0,390.7 L1075.0,389.5 L1076.0,388.3 L1077.0,387.2 L1078.0,386.1 L1079.0,385.0 L1080.0,384.0 L1081.0,382.9 L1082.0,381.8 L1083.0,382.0 L1084.0,380.6 L1085.0,381.1 L1086.0,380.6 L1087.0,379.9 L1088.0,380.4 L1089.0,379.5 L1090.0,374.0 L1091.0,379.4 L1092.0,379.4 L1093.0,379.9 L1094.0,380.9 L1095.0,380.6 L1096.0,382.0 L1097.0,384.0 L1098.0,386.0 L1099.0,386.8 L1100.0,387.8 L1101.0,400.0 L1102.0,388.8 L1103.0,390.2 L1104.0,402.4 L1105.0,389.2 L1106.0,389.3 L1107.0,389.6 L1108.0,390.5 L1109.0,389.5 L1110.0,390.1 L1111.0,390.2 L1112.0,389.6 L1113.0,389.6 L1114.0,388.4 L1115.0,387.9 L1116.0,387.6 L1117.0,387.8 L1118.0,386.9 L1119.0,392.0 L1120.0,386.2 L1121.0,385.6 L1122.0,385.1 L1123.0,385.8 L1124.0,385.6 L1125.0,384.9 L1126.0,385.5 L1127.0,385.5 L1128.0,386.2 L1129.0,386.3 L1130.0,386.4 L1131.0,388.7 L1132.0,388.6 L1133.0,390.4 L1134.0,392.2 L1135.0,406.4 L1136.0,393.4 L1137.0,392.9 L1138.0,393.6 L1139.0,393.0 L1140.0,391.7 L1141.0,390.9 L1141.6,406.4 L1143.0,387.7 L1144.0,385.9 L1145.0,384.3 L1146.0,394.0 L1147.0,382.0 L1148.0,381.1 L1149.0,379.6 L1150.0,379.5 L1151.0,378.5 L1152.0,379.5 L1153.0,379.4 L1154.0,380.0 L1155.0,379.7 L1156.0,392.8 L1157.0,379.0 L1158.0,379.5 L1159.0,378.4 L1160.0,379.1 L1161.0,378.8 L1162.0,379.2 L1163.0,379.8 L1164.0,391.0 L1165.0,381.3 L1166.0,382.2 L1167.0,382.9 L1168.0,383.8 L1169.0,382.5 L1170.0,383.1 L1171.0,392.0 L1172.0,383.8 L1173.0,383.7 L1174.0,383.8 L1175.0,382.8 L1176.0,383.1 L1177.0,382.9 L1178.0,383.4 L1179.0,383.2 L1180.0,381.5 L1181.0,381.3 L1182.0,381.2 L1183.0,381.3 L1184.0,382.4 L1185.0,383.7 L1186.0,384.6 L1187.0,385.7 L1188.0,387.7 L1189.0,388.7 L1190.0,389.6 L1191.0,412.0 L1192.0,389.6 L1193.0,388.8 L1194.0,388.2 L1195.0,387.5 L1196.0,385.6 L1197.0,386.0 L1198.0,384.6 L1199.0,383.0 L1200.0,380.4 L1201.0,378.1 L1202.0,375.8 L1203.0,373.4 L1204.0,371.2 L1205.0,369.3 L1206.0,367.7 L1207.0,366.5 L1208.0,365.5 L1209.0,364.6 L1210.0,363.7 L1211.0,363.0 L1212.0,362.2 L1213.0,361.5 L1214.0,360.8 L1215.0,360.0 L1216.0,359.2 L1217.0,358.3 L1218.0,357.4 L1219.0,356.3 L1220.0,355.3 L1221.0,354.2 L1222.0,353.1 L1223.0,352.0 L1224.0,351.0 L1225.0,350.0 L1226.0,349.0 L1227.0,348.1 L1228.0,347.4 L1229.0,346.7 L1230.0,346.2 L1231.0,345.8 L1232.0,345.6 L1233.0,345.5 L1234.0,345.4 L1235.0,345.3 L1236.0,345.3 L1237.0,345.2 L1238.0,345.2 L1239.0,345.1 L1240.0,345.1 L1241.0,345.0 L1241.6,349.6 L1243.0,344.8 L1244.0,344.6 L1245.0,344.2 L1246.0,343.6 L1247.0,342.9 L1248.0,342.0 L1249.0,341.1 L1250.0,340.1 L1251.0,339.1 L1252.0,338.1 L1253.0,337.2 L1254.0,336.3 L1255.0,335.6 L1256.0,335.0 L1257.0,334.6 L1258.0,334.3 L1259.0,334.1 L1260.0,334.0 L1261.0,333.8 L1262.0,333.6 L1263.0,333.5 L1264.0,333.4 L1265.0,333.2 L1266.0,333.1 L1267.0,333.0 L1268.0,332.9 L1269.0,332.9 L1270.0,332.8 L1271.0,332.8 L1272.0,332.8 L1273.0,332.8 L1274.0,332.9 L1275.0,332.9 L1276.0,333.1 L1277.0,333.2 L1278.0,333.3 L1279.0,333.5 L1280.0,333.6 L1281.0,333.7 L1282.0,333.9 L1283.0,334.0 L1284.0,334.1 L1285.0,334.3 L1286.0,334.3 L1287.0,334.4 L1288.0,334.4 L1289.0,334.3 L1290.0,333.9 L1291.0,333.4 L1292.0,332.7 L1293.0,331.8 L1294.0,330.8 L1295.0,329.7 L1296.0,328.6 L1297.0,327.4 L1298.0,326.1 L1299.0,324.9 L1300.0,323.7 L1301.0,322.5 L1302.0,321.4 L1303.0,320.4 L1304.0,319.6 L1305.0,318.9 L1306.0,318.4 L1307.0,318.0 L1308.0,317.9 L1309.0,317.7 L1310.0,317.6 L1311.0,317.6 L1312.0,317.5 L1313.0,317.4 L1314.0,317.3 L1315.0,317.2 L1316.0,317.1 L1317.0,317.0 L1318.0,316.8 L1319.0,316.6 L1320.0,316.3 L1321.0,316.0 L1322.0,315.7 L1323.0,315.3 L1324.0,314.8 L1325.0,314.0 L1326.0,313.0 L1327.0,311.9 L1328.0,310.7 L1329.0,309.6 L1330.0,308.6 L1331.0,307.8 L1332.0,307.3 L1333.0,307.2 L1334.0,307.3 L1335.0,307.4 L1336.0,307.7 L1337.0,308.0 L1337.6,305.6 L1339.0,308.7 L1340.0,309.4 L1341.0,311.0 L1342.0,313.3 L1343.0,316.0 L1344.0,319.1 L1345.0,322.3 L1346.0,325.5 L1347.0,328.5 L1348.0,331.1 L1349.0,333.2 L1349.6,345.6 L1351.0,336.4 L1352.0,337.8 L1353.0,339.1 L1354.0,340.4 L1354.4,326.4 L1356.0,343.2 L1357.0,344.7 L1358.0,346.4 L1359.0,348.5 L1360.0,351.1 L1361.0,354.2 L1362.0,357.4 L1363.0,360.7 L1364.0,363.7 L1365.0,366.3 L1366.0,368.2 L1367.0,369.5 L1368.0,370.7 L1369.0,371.7 L1370.0,372.8 L1371.0,373.7 L1372.0,374.5 L1373.0,375.1 L1374.0,375.6 L1375.0,375.9 L1376.0,376.0 L1377.0,376.0 L1377.6,379.2 L1379.0,375.8 L1380.0,375.7 L1381.0,375.6 L1382.0,375.5 L1383.0,375.3 L1384.0,375.2 L1385.0,375.0 L1386.0,374.8 L1387.0,374.6 L1388.0,374.3 L1389.0,374.0 L1390.0,373.7 L1391.0,373.5 L1392.0,373.2 L1393.0,373.0 L1394.0,372.9 L1395.0,372.8 L1396.0,372.6 L1397.0,372.5 L1398.0,372.4 L1399.0,372.3 L1400.0,372.2 L1401.0,372.1 L1402.0,372.1 L1403.0,372.0 L1404.0,371.9 L1405.0,371.8 L1406.0,371.6 L1407.0,371.5 L1408.0,371.4 L1409.0,371.2 L1410.0,371.0 L1411.0,370.8 L1412.0,370.7 L1413.0,370.5 L1414.0,370.4 L1415.0,370.2 L1416.0,370.1 L1417.0,370.1 L1418.0,370.1 L1419.0,370.3 L1420.0,370.6 L1421.0,371.0 L1422.0,371.5 L1423.0,372.1 L1424.0,372.7 L1425.0,373.3 L1426.0,374.0 L1427.0,374.6 L1428.0,375.2 L1429.0,375.7 L1430.0,376.1 L1431.0,376.5 L1432.0,376.6 L1433.0,376.7 L1434.0,376.7 L1435.0,376.7 L1436.0,376.7 L1437.0,376.7 L1438.0,376.7 L1439.0,376.7 L1440.0,376.7 L1441.0,376.7 L1442.0,376.7 L1443.0,376.7 L1444.0,376.7 L1445.0,376.7 L1446.0,376.7 L1447.0,376.6 L1448.0,376.4 L1449.0,376.1 L1450.0,375.7 L1451.0,375.2 L1452.0,374.7 L1453.0,374.2 L1454.0,373.7 L1455.0,373.1 L1456.0,372.6 L1457.0,372.2 L1458.0,371.9 L1459.0,371.6 L1460.0,371.5 L1461.0,371.4 L1462.0,371.2 L1463.0,371.1 L1464.0,371.1 L1465.0,371.0 L1466.0,370.9 L1467.0,370.8 L1468.0,370.8 L1469.0,370.7 L1470.0,370.6 L1471.0,370.5 L1472.0,370.4 L1473.0,370.3 L1474.0,370.2 L1475.0,370.0 L1476.0,369.8 L1477.0,369.4 L1478.0,368.9 L1479.0,368.4 L1480.0,367.9 L1481.0,367.3 L1482.0,366.7 L1483.0,366.1 L1484.0,365.5 L1485.0,365.0 L1486.0,364.5 L1487.0,364.1 L1488.0,363.8 L1489.0,363.6 L1490.0,363.5 L1491.0,363.5 L1492.0,363.7 L1493.0,363.9 L1494.0,364.1 L1495.0,364.4 L1496.0,364.7 L1497.0,365.0 L1498.0,365.3 L1499.0,365.6 L1500.0,365.9 L1501.0,366.1 L1502.0,366.3 L1503.0,366.4 L1504.0,366.6 L1505.0,366.7 L1506.0,366.9 L1507.0,367.0 L1508.0,367.2 L1509.0,367.3 L1510.0,367.5 L1511.0,367.7 L1512.0,367.9 L1513.0,368.2 L1514.0,368.6 L1515.0,369.0 L1516.0,369.6 L1517.0,370.1 L1518.0,370.7 L1519.0,371.3 L1520.0,371.8 L1521.0,372.3 L1522.0,372.7 L1523.0,373.1 L1524.0,373.3 L1525.0,373.4 L1526.0,373.4 L1527.0,373.2 L1528.0,373.0 L1529.0,372.7 L1530.0,372.3 L1531.0,371.9 L1532.0,371.5 L1533.0,371.0 L1534.0,370.2 L1535.0,369.4 L1536.0,368.4 L1537.0,367.3 L1538.0,366.1 L1539.0,364.9 L1540.0,363.6 L1541.0,362.4 L1542.0,361.2 L1543.0,360.0 L1544.0,358.8 L1545.0,357.5 L1546.0,356.2 L1547.0,354.8 L1548.0,353.4 L1549.0,352.0 L1550.0,350.6 L1551.0,349.1 L1552.0,347.7 L1553.0,346.3 L1554.0,344.8 L1555.0,343.5 L1556.0,342.1 L1557.0,340.8 L1558.0,339.5 L1559.0,338.3 L1560.0,337.1 L1561.0,335.9 L1562.0,334.7 L1563.0,333.6 L1564.0,332.4 L1565.0,331.3 L1566.0,330.1 L1567.0,329.0 L1568.0,327.9 L1569.0,326.9 L1570.0,325.9 L1571.0,324.9 L1572.0,323.9 L1573.0,322.9 L1574.0,322.0 L1575.0,321.2 L1576.0,320.3 L1577.0,319.5 L1578.0,318.8 L1579.0,318.0 L1580.0,317.3 L1581.0,316.5 L1582.0,315.8 L1583.0,315.1 L1584.0,314.4 L1585.0,313.7 L1586.0,313.0 L1587.0,312.2 L1588.0,311.5 L1589.0,310.7 L1590.0,309.9 L1591.0,308.9 L1592.0,307.9 L1593.0,306.9 L1594.0,305.8 L1595.0,304.7 L1596.0,303.7 L1597.0,302.6 L1598.0,301.7 L1599.0,300.8 L1600.0,300.0 L1601.0,299.3 L1602.0,298.8 L1603.0,298.4 L1604.0,298.2 L1605.0,298.2 L1606.0,298.3 L1607.0,298.4 L1608.0,298.5 L1609.0,298.7 L1610.0,298.9 L1611.0,299.1 L1612.0,299.3 L1613.0,299.5 L1614.0,299.7 L1615.0,299.9 L1616.0,300.1 L1617.0,300.2 L1618.0,300.3 L1619.0,300.4 L1620.0,300.4 L1621.0,300.3 L1622.0,300.2 L1623.0,300.0 L1624.0,299.8 L1625.0,299.5 L1626.0,299.2 L1627.0,298.8 L1628.0,298.5 L1629.0,298.1 L1630.0,297.8 L1631.0,297.4 L1632.0,297.1 L1633.0,296.8 L1634.0,296.5 L1635.0,296.2 L1636.0,295.8 L1637.0,295.4 L1638.0,295.1 L1639.0,294.7 L1640.0,294.4 L1641.0,294.0 L1642.0,293.7 L1643.0,293.5 L1644.0,293.3 L1645.0,293.2 L1646.0,293.1 L1647.0,293.1 L1648.0,293.3 L1649.0,293.6 L1650.0,293.9 L1651.0,294.4 L1652.0,294.8 L1653.0,295.3 L1654.0,295.9 L1655.0,296.4 L1656.0,297.1 L1657.0,298.0 L1658.0,299.0 L1659.0,300.2 L1660.0,301.5 L1661.0,302.7 L1662.0,303.8 L1663.0,304.8 L1664.0,305.6 L1665.0,306.1 L1666.0,306.3 L1667.0,306.3 L1668.0,306.3 L1669.0,306.2 L1670.0,306.2 L1671.0,306.1 L1672.0,306.1 L1673.0,306.0 L1674.0,305.9 L1675.0,305.8 L1676.0,305.7 L1677.0,305.6 L1678.0,305.4 L1679.0,305.1 L1680.0,304.7 L1681.0,304.3 L1682.0,303.7 L1683.0,303.1 L1684.0,302.5 L1685.0,301.9 L1686.0,301.3 L1687.0,300.7 L1688.0,300.2 L1689.0,299.8 L1690.0,299.4 L1691.0,299.1 L1692.0,299.0 L1693.0,299.0 L1694.0,299.1 L1695.0,299.2 L1696.0,299.4 L1697.0,299.6 L1698.0,299.8 L1699.0,300.1 L1700.0,300.4 L1701.0,300.7 L1702.0,301.2 L1703.0,302.0 L1704.0,303.1 L1705.0,304.5 L1706.0,306.0 L1707.0,307.8 L1708.0,309.6 L1709.0,311.5 L1710.0,313.4 L1711.0,315.3 L1712.0,317.0 L1713.0,318.6 L1714.0,320.1 L1715.0,321.4 L1716.0,322.8 L1717.0,324.0 L1718.0,325.0 L1719.0,325.4 L1720.0,325.7 L1721.0,325.8 L1722.0,326.0 L1723.0,326.2 L1724.0,326.3 L1725.0,326.4 L1726.0,326.5 L1727.0,326.6 L1728.0,326.7 L1729.0,326.7 L1730.0,326.8 L1731.0,326.8 L1732.0,326.8 L1733.0,326.7 L1734.0,326.4 L1735.0,326.0 L1736.0,325.5 L1737.0,324.9 L1738.0,324.3 L1739.0,323.6 L1740.0,322.9 L1741.0,322.2 L1742.0,321.6 L1743.0,321.0 L1744.0,320.5 L1745.0,319.9 L1746.0,319.2 L1747.0,318.6 L1748.0,317.9 L1749.0,317.2 L1750.0,316.6 L1751.0,316.0 L1752.0,315.5 L1753.0,315.1 L1754.0,314.7 L1755.0,314.5 L1756.0,314.4 L1757.0,314.4 L1758.0,314.5 L1759.0,314.6 L1760.0,314.8 L1761.0,315.0 L1762.0,315.2 L1763.0,315.4 L1764.0,315.7 L1765.0,316.0 L1766.0,316.3 L1767.0,316.5 L1768.0,316.9 L1769.0,317.3 L1770.0,317.8 L1771.0,318.4 L1772.0,319.0 L1773.0,319.7 L1774.0,320.3 L1775.0,321.0 L1776.0,321.5 L1777.0,322.1 L1778.0,322.5 L1779.0,322.9 L1780.0,323.1 L1781.0,323.3 L1782.0,323.4 L1783.0,323.5 L1784.0,323.6 L1785.0,323.6 L1786.0,323.7 L1787.0,323.8 L1788.0,323.8 L1789.0,323.9 L1790.0,323.9 L1791.0,323.9 L1792.0,323.9 L1793.0,323.9 L1794.0,323.9 L1795.0,323.9 L1796.0,323.9 L1797.0,323.9 L1798.0,323.9 L1799.0,323.9 L1800.0,323.9 L1801.0,323.9 L1802.0,323.9 L1803.0,323.9 L1804.0,323.9 L1805.0,323.9 L1806.0,323.9 L1807.0,323.9 L1808.0,323.9 L1809.0,323.9 L1809.5,323.9" stroke="#16dc1c" stroke-width="1.4" fill="none" stroke-linejoin="round" stroke-linecap="round" />
<path d="M260.3,322.8 L261.3,322.8 L262.3,322.9 L263.3,322.9 L264.3,323.0 L265.3,323.1 L266.3,323.2 L267.3,323.4 L268.3,323.6 L269.3,323.7 L270.3,323.9 L271.3,324.2 L272.3,324.4 L273.3,324.6 L274.3,324.9 L275.3,325.1 L276.3,325.4 L277.3,325.7 L278.3,326.0 L279.3,326.3 L280.3,326.6 L281.3,326.9 L282.3,327.3 L283.3,327.7 L284.3,328.2 L285.3,328.8 L286.3,329.4 L287.3,330.0 L288.3,330.7 L289.3,331.4 L290.3,332.2 L291.3,332.9 L292.3,333.7 L293.3,334.4 L294.3,335.2 L295.3,336.0 L296.3,336.8 L297.3,337.5 L298.3,338.3 L299.3,339.1 L300.3,340.0 L301.3,340.9 L302.3,341.8 L303.3,342.8 L304.3,343.8 L305.3,344.8 L306.3,345.8 L307.3,346.8 L308.3,347.8 L309.3,348.8 L310.3,349.8 L311.3,350.7 L312.3,351.7 L313.3,352.6 L314.3,353.5 L315.3,354.3 L316.3,355.1 L317.3,355.9 L318.3,356.6 L319.3,357.2 L320.3,357.8 L321.3,358.4 L322.3,358.9 L323.3,359.4 L324.3,359.9 L325.3,360.4 L326.3,360.9 L327.3,361.3 L328.3,361.7 L329.3,362.2 L330.3,362.6 L331.3,363.1 L332.3,363.5 L333.3,364.0 L334.3,364.4 L335.3,364.9 L336.3,365.4 L337.3,365.9 L338.3,366.5 L339.3,367.1 L340.3,367.7 L341.3,368.3 L342.3,369.1 L343.3,369.8 L344.3,370.6 L345.3,371.4 L346.3,372.3 L347.3,373.1 L348.3,374.0 L349.3,374.8 L350.3,375.7 L351.3,376.6 L352.3,377.4 L353.3,378.2 L354.3,379.0 L355.3,379.8 L356.3,380.5 L357.3,381.2 L358.3,381.8 L359.3,382.4 L360.3,382.9 L361.3,383.5 L362.3,384.0 L363.3,384.4 L364.3,384.9 L365.3,385.3 L366.3,385.8 L367.3,386.2 L368.3,386.6 L369.3,387.0 L370.3,387.4 L371.3,387.8 L372.3,388.2 L373.3,388.7 L374.3,389.1 L375.3,389.5 L376.3,389.9 L377.3,390.4 L378.3,390.8 L379.3,391.3 L380.3,391.8 L381.3,392.3 L382.3,392.8 L383.3,393.3 L384.3,393.8 L385.3,394.3 L386.3,394.8 L387.3,395.3 L388.3,395.8 L389.3,396.3 L390.3,396.9 L391.3,397.4 L392.3,398.0 L393.3,398.5 L394.3,399.1 L395.3,399.7 L396.3,400.2 L397.3,400.9 L398.3,401.5 L399.3,402.1 L400.3,402.8 L401.3,403.4 L402.3,404.2 L403.3,405.0 L404.3,405.9 L405.3,406.9 L406.3,407.9 L407.3,408.8 L408.3,409.8 L409.3,410.7 L410.3,411.6 L411.3,412.4 L412.3,413.1 L413.3,413.7 L414.3,414.1 L415.3,414.5 L416.3,415.0 L417.3,415.4 L418.3,415.7 L419.3,416.1 L420.3,416.4 L421.3,416.6 L422.3,416.8 L423.3,417.0 L424.3,417.0 L425.3,416.9 L426.3,416.8 L427.3,416.5 L428.3,416.1 L429.3,415.7 L430.3,415.2 L431.3,414.7 L432.3,414.2 L433.3,413.6 L434.3,413.0 L435.3,412.5 L436.3,412.0 L437.3,411.6 L438.3,411.2 L439.3,410.9 L440.3,410.8 L441.3,410.7 L442.3,410.7 L443.3,410.7 L444.3,410.7 L445.3,410.7 L446.3,410.7 L447.3,410.7 L448.3,410.7 L449.3,410.7 L450.3,410.7 L451.3,410.8 L452.3,410.9 L453.3,411.1 L454.3,411.3 L455.3,411.6 L456.3,411.9 L457.3,412.2 L458.3,412.5 L459.3,412.8 L460.3,413.1 L461.3,413.4 L462.3,413.7 L463.3,413.9 L464.3,414.1 L465.3,414.2 L466.3,414.3 L467.3,414.3 L468.3,414.3 L469.3,414.2 L470.3,414.1 L471.3,414.0 L472.3,413.8 L473.3,413.7 L474.3,413.5 L475.3,413.3 L476.3,413.1 L477.3,412.8 L478.3,412.6 L479.3,412.4 L480.3,412.1 L481.3,411.9 L482.3,411.6 L483.3,411.4 L484.3,411.2 L485.3,410.9 L486.3,410.6 L487.3,410.3 L488.3,410.0 L489.3,409.7 L490.3,409.4 L491.3,409.1 L492.3,408.7 L493.3,408.3 L494.3,408.0 L495.3,407.6 L496.3,407.2 L497.3,406.8 L498.3,406.3 L499.3,405.9 L499.6,405.8" stroke="#000" stroke-width="1.3" fill="none" stroke-linejoin="round" stroke-linecap="round" />
<path d="M606.0,390.0 L607.0,390.4 L608.0,390.7 L609.0,391.0 L610.0,391.4 L611.0,391.7 L612.0,392.1 L613.0,392.4 L614.0,392.8 L615.0,393.1 L616.0,393.4 L617.0,393.8 L618.0,394.1 L619.0,394.4 L620.0,394.7 L621.0,395.1 L622.0,395.4 L623.0,395.7 L624.0,396.0 L625.0,396.3 L626.0,396.7 L627.0,397.0 L628.0,397.4 L629.0,397.8 L630.0,398.1 L631.0,398.5 L632.0,398.9 L633.0,399.3 L634.0,399.7 L635.0,400.1 L636.0,400.4 L637.0,400.8 L638.0,401.1 L639.0,401.4 L640.0,401.7 L641.0,402.0 L642.0,402.3 L643.0,402.5 L644.0,402.7 L645.0,402.8 L646.0,402.9 L647.0,403.0 L648.0,403.0 L649.0,403.0 L650.0,403.0 L651.0,403.0 L652.0,403.0 L653.0,402.9 L654.0,402.9 L655.0,402.9 L656.0,402.9 L657.0,402.8 L658.0,402.8 L659.0,402.8 L660.0,402.7 L661.0,402.7 L662.0,402.7 L663.0,402.6 L664.0,402.6 L665.0,402.5 L666.0,402.5 L667.0,402.5 L668.0,402.4 L669.0,402.4 L670.0,402.3 L671.0,402.3 L672.0,402.3 L673.0,402.2 L674.0,402.2 L675.0,402.2 L676.0,402.1 L677.0,402.1 L678.0,402.1 L679.0,402.1 L680.0,402.0 L681.0,402.0 L682.0,402.0 L683.0,402.0 L684.0,402.0 L685.0,402.1 L686.0,402.3 L687.0,402.7 L688.0,403.1 L689.0,403.6 L690.0,404.2 L691.0,404.8 L692.0,405.4 L693.0,406.0 L694.0,406.5 L695.0,406.9 L696.0,407.3 L697.0,407.5 L698.0,407.6 L699.0,407.6 L700.0,407.5 L701.0,407.3 L702.0,407.2 L703.0,406.9 L704.0,406.7 L705.0,406.4 L706.0,406.1 L707.0,405.7 L708.0,405.4 L709.0,405.0 L710.0,404.7 L711.0,404.3 L712.0,404.0 L713.0,403.6 L714.0,403.3 L715.0,403.0 L716.0,402.7 L717.0,402.5 L718.0,402.3 L719.0,402.1 L720.0,402.0 L721.0,401.9 L722.0,401.8 L723.0,401.8 L724.0,401.7 L725.0,401.6 L726.0,401.6 L727.0,401.5 L728.0,401.5 L729.0,401.4 L730.0,401.4 L731.0,401.4 L732.0,401.3 L733.0,401.3 L734.0,401.3 L735.0,401.2 L736.0,401.2 L737.0,401.2 L738.0,401.1 L739.0,401.1 L740.0,401.1 L741.0,401.1 L742.0,401.1 L743.0,401.0 L744.0,401.0 L745.0,401.0 L746.0,401.0 L747.0,400.9 L748.0,400.9 L749.0,400.9 L750.0,400.8 L751.0,400.8 L752.0,400.8 L753.0,400.7 L754.0,400.7 L755.0,400.6 L756.0,400.6 L757.0,400.5 L758.0,400.5 L759.0,400.4 L760.0,400.3 L761.0,400.3 L762.0,400.2 L763.0,400.1 L764.0,400.0 L765.0,399.9 L766.0,399.6 L767.0,399.3 L768.0,398.9 L769.0,398.5 L770.0,398.0 L771.0,397.4 L772.0,396.8 L773.0,396.2 L774.0,395.6 L775.0,394.9 L776.0,394.3 L777.0,393.6 L778.0,393.0 L779.0,392.4 L780.0,391.8 L781.0,391.3 L782.0,390.8 L783.0,390.4 L784.0,390.0 L785.0,389.7 L786.0,389.4 L787.0,389.1 L788.0,388.9 L789.0,388.7 L790.0,388.5 L791.0,388.3 L792.0,388.1 L793.0,387.9 L794.0,387.6 L795.0,387.4 L796.0,387.2 L797.0,386.9 L798.0,386.6 L799.0,386.3 L800.0,386.0 L801.0,385.6 L802.0,385.1 L803.0,384.6 L804.0,384.0 L805.0,383.4 L806.0,382.7 L807.0,382.0 L808.0,381.2 L809.0,380.5 L810.0,379.8 L811.0,379.1 L812.0,378.4 L813.0,377.7 L814.0,377.1 L815.0,376.5 L816.0,376.0 L817.0,375.5 L818.0,375.1 L819.0,374.8 L820.0,374.4 L821.0,374.0 L822.0,373.7 L823.0,373.3 L824.0,372.9 L825.0,372.5 L826.0,372.0 L827.0,371.4 L828.0,370.6 L829.0,369.7 L830.0,368.8 L831.0,367.8 L832.0,366.8 L833.0,365.9 L834.0,365.2 L835.0,364.5 L836.0,364.1 L837.0,364.0 L838.0,364.1 L839.0,364.3 L840.0,364.6 L841.0,365.1 L842.0,365.5 L843.0,366.0 L844.0,366.5 L845.0,367.2 L846.0,368.0 L847.0,369.0 L848.0,370.0 L849.0,371.1 L850.0,372.3 L851.0,373.5 L852.0,374.8 L853.0,376.1 L854.0,377.4 L855.0,378.7 L856.0,380.1 L857.0,381.4 L858.0,382.6 L859.0,383.8 L860.0,385.0 L861.0,386.2 L862.0,387.4 L863.0,388.6 L864.0,389.9 L865.0,391.2 L866.0,392.6 L867.0,394.0 L868.0,395.3 L869.0,396.7 L870.0,398.1 L871.0,399.4 L872.0,400.8 L873.0,402.1 L874.0,403.3 L875.0,404.5 L876.0,405.7 L877.0,406.8 L878.0,407.8 L879.0,408.7 L880.0,409.6 L881.0,410.4 L882.0,411.0 L883.0,411.6 L884.0,412.0 L885.0,412.4 L886.0,412.7 L887.0,413.1 L888.0,413.4 L889.0,413.6 L890.0,413.8 L891.0,414.0 L892.0,414.0 L893.0,413.9 L894.0,413.8 L895.0,413.5 L896.0,413.2 L897.0,412.8 L898.0,412.4 L899.0,412.1 L900.0,411.8 L901.0,411.7 L902.0,411.6 L903.0,411.7 L904.0,411.9 L905.0,412.2 L906.0,412.6 L907.0,413.1 L908.0,413.7 L909.0,414.4 L910.0,415.1 L911.0,415.8 L912.0,416.6 L913.0,417.3 L914.0,418.1 L915.0,418.8 L916.0,419.5 L917.0,420.1 L918.0,420.6 L919.0,421.1 L920.0,421.5 L921.0,421.8 L922.0,422.0 L923.0,422.2 L924.0,422.4 L925.0,422.7 L926.0,423.0 L927.0,423.5 L928.0,424.1 L929.0,424.9 L930.0,425.8 L931.0,426.8 L932.0,427.9 L933.0,429.0 L934.0,430.4 L935.0,432.1 L936.0,434.0 L937.0,435.7 L938.0,437.1 L939.0,438.0 L940.0,438.5 L941.0,438.9 L942.0,439.2 L943.0,439.4 L944.0,439.5 L945.0,439.4 L946.0,439.3 L947.0,439.1 L948.0,438.7 L949.0,438.3 L950.0,437.8 L951.0,437.2 L952.0,436.5 L953.0,434.5 L954.0,431.5 L955.0,430.0 L956.0,430.1 L957.0,430.4 L958.0,430.9 L959.0,431.4 L960.0,432.0 L961.0,432.7 L962.0,433.7 L963.0,434.9 L964.0,436.4 L965.0,438.1 L966.0,440.0 L967.0,443.0 L968.0,447.3 L969.0,451.7 L970.0,455.0 L971.0,457.4 L972.0,459.7 L973.0,461.4 L974.0,462.0 L975.0,461.4 L976.0,460.0 L977.0,458.6 L978.0,458.0 L979.0,458.2 L980.0,458.6 L981.0,459.3 L982.0,460.1 L983.0,461.1 L984.0,462.2 L985.0,463.3 L986.0,464.5 L987.0,465.5 L988.0,466.5 L989.0,467.4 L990.0,468.0 L991.0,468.5 L992.0,469.1 L993.0,469.7 L994.0,470.2 L995.0,470.7 L996.0,471.1 L997.0,471.5 L998.0,471.8 L999.0,471.9 L1000.0,472.0 L1001.0,471.8 L1002.0,471.1 L1003.0,470.0 L1004.0,468.7 L1005.0,467.1 L1006.0,465.4 L1007.0,463.7 L1008.0,462.0 L1009.0,459.9 L1010.0,457.3 L1011.0,454.8 L1012.0,453.0 L1013.0,451.8 L1014.0,450.8 L1015.0,450.0 L1016.0,449.3 L1017.0,448.6 L1018.0,447.9 L1019.0,447.0 L1020.0,446.0 L1021.0,444.7 L1022.0,443.3 L1023.0,441.7 L1024.0,439.9 L1025.0,438.1 L1026.0,436.4 L1027.0,434.6 L1028.0,433.0 L1029.0,431.4 L1030.0,429.7 L1031.0,427.9 L1032.0,426.2 L1033.0,424.6 L1034.0,423.2 L1035.0,421.9 L1036.0,421.0 L1037.0,420.3 L1038.0,419.6 L1039.0,419.0 L1040.0,418.5 L1041.0,418.1 L1042.0,417.7 L1043.0,417.3 L1044.0,416.9 L1045.0,416.5 L1046.0,416.1 L1047.0,415.6 L1048.0,415.1 L1049.0,414.6 L1050.0,414.0 L1051.0,413.3 L1052.0,412.6 L1053.0,411.8 L1054.0,411.0 L1055.0,410.1 L1056.0,409.2 L1057.0,408.2 L1058.0,407.3 L1059.0,406.3 L1060.0,405.2 L1061.0,404.2 L1062.0,403.2 L1063.0,402.1 L1064.0,401.1 L1065.0,400.0 L1066.0,399.0 L1067.0,397.9 L1068.0,396.9 L1069.0,396.0 L1070.0,395.0 L1071.0,394.0 L1072.0,393.0 L1073.0,391.8 L1074.0,390.7 L1075.0,389.5 L1076.0,388.3 L1077.0,387.2 L1078.0,386.1 L1079.0,385.0 L1080.0,384.0 L1081.0,383.2 L1082.0,382.4 L1083.0,381.8 L1084.0,381.3 L1085.0,381.0 L1086.0,380.8 L1087.0,380.6 L1088.0,380.4 L1089.0,380.3 L1090.0,380.2 L1091.0,380.1 L1092.0,380.0 L1093.0,380.0 L1094.0,380.4 L1095.0,381.2 L1096.0,382.4 L1097.0,383.8 L1098.0,385.3 L1099.0,386.7 L1100.0,388.0 L1101.0,389.0 L1102.0,389.5 L1103.0,389.7 L1104.0,389.7 L1105.0,389.8 L1106.0,389.9 L1107.0,389.9 L1108.0,390.0 L1109.0,390.0 L1110.0,390.0 L1111.0,390.0 L1112.0,389.8 L1113.0,389.5 L1114.0,389.1 L1115.0,388.6 L1116.0,388.1 L1117.0,387.5 L1118.0,387.0 L1119.0,386.5 L1120.0,386.0 L1121.0,385.7 L1122.0,385.4 L1123.0,385.3 L1124.0,385.3 L1125.0,385.3 L1126.0,385.4 L1127.0,385.5 L1128.0,385.6 L1129.0,386.0 L1130.0,386.8 L1131.0,387.9 L1132.0,389.2 L1133.0,390.5 L1134.0,391.8 L1135.0,392.8 L1136.0,393.4 L1137.0,393.6 L1138.0,393.3 L1139.0,392.6 L1140.0,391.6 L1141.0,390.3 L1142.0,388.9 L1143.0,387.4 L1144.0,385.8 L1145.0,384.2 L1146.0,382.7 L1147.0,381.5 L1148.0,380.4 L1149.0,379.6 L1150.0,379.2 L1151.0,379.2 L1152.0,379.2 L1153.0,379.2 L1154.0,379.2 L1155.0,379.2 L1156.0,379.2 L1157.0,379.2 L1158.0,379.2 L1159.0,379.2 L1160.0,379.2 L1161.0,379.4 L1162.0,379.8 L1163.0,380.5 L1164.0,381.2 L1165.0,381.9 L1166.0,382.6 L1167.0,383.0 L1168.0,383.2 L1169.0,383.2 L1170.0,383.2 L1171.0,383.2 L1172.0,383.2 L1173.0,383.2 L1174.0,383.2 L1175.0,383.2 L1176.0,383.2 L1177.0,383.1 L1178.0,382.8 L1179.0,382.5 L1180.0,382.1 L1181.0,381.8 L1182.0,381.6 L1183.0,381.7 L1184.0,382.4 L1185.0,383.6 L1186.0,385.0 L1187.0,386.5 L1188.0,387.9 L1189.0,389.0 L1190.0,389.5 L1191.0,389.5 L1192.0,389.2 L1193.0,388.7 L1194.0,388.0 L1195.0,387.2 L1196.0,386.3 L1197.0,385.4 L1198.0,384.1 L1199.0,382.4 L1200.0,380.4 L1201.0,378.1 L1202.0,375.8 L1203.0,373.4 L1204.0,371.2 L1205.0,369.3 L1206.0,367.7 L1207.0,366.5 L1208.0,365.5 L1209.0,364.6 L1210.0,363.7 L1211.0,363.0 L1212.0,362.2 L1213.0,361.5 L1214.0,360.8 L1215.0,360.0 L1216.0,359.2 L1217.0,358.3 L1218.0,357.4 L1219.0,356.3 L1220.0,355.3 L1221.0,354.2 L1222.0,353.1 L1223.0,352.0 L1224.0,351.0 L1225.0,350.0 L1226.0,349.0 L1227.0,348.1 L1228.0,347.4 L1229.0,346.7 L1230.0,346.2 L1231.0,345.8 L1232.0,345.6 L1233.0,345.5 L1234.0,345.4 L1235.0,345.3 L1236.0,345.3 L1237.0,345.2 L1238.0,345.2 L1239.0,345.1 L1240.0,345.1 L1241.0,345.0 L1242.0,344.9 L1243.0,344.8 L1244.0,344.6 L1245.0,344.2 L1246.0,343.6 L1247.0,342.9 L1248.0,342.0 L1249.0,341.1 L1250.0,340.1 L1251.0,339.1 L1252.0,338.1 L1253.0,337.2 L1254.0,336.3 L1255.0,335.6 L1256.0,335.0 L1257.0,334.6 L1258.0,334.3 L1259.0,334.1 L1260.0,334.0 L1261.0,333.8 L1262.0,333.6 L1263.0,333.5 L1264.0,333.4 L1265.0,333.2 L1266.0,333.1 L1267.0,333.0 L1268.0,332.9 L1269.0,332.9 L1270.0,332.8 L1271.0,332.8 L1272.0,332.8 L1273.0,332.8 L1274.0,332.9 L1275.0,332.9 L1276.0,333.1 L1277.0,333.2 L1278.0,333.3 L1279.0,333.5 L1280.0,333.6 L1281.0,333.7 L1282.0,333.9 L1283.0,334.0 L1284.0,334.1 L1285.0,334.3 L1286.0,334.3 L1287.0,334.4 L1288.0,334.4 L1289.0,334.3 L1290.0,333.9 L1291.0,333.4 L1292.0,332.7 L1293.0,331.8 L1294.0,330.8 L1295.0,329.7 L1296.0,328.6 L1297.0,327.4 L1298.0,326.1 L1299.0,324.9 L1300.0,323.7 L1301.0,322.5 L1302.0,321.4 L1303.0,320.4 L1304.0,319.6 L1305.0,318.9 L1306.0,318.4 L1307.0,318.0 L1308.0,317.9 L1309.0,317.7 L1310.0,317.6 L1311.0,317.6 L1312.0,317.5 L1313.0,317.4 L1314.0,317.3 L1315.0,317.2 L1316.0,317.1 L1317.0,317.0 L1318.0,316.8 L1319.0,316.6 L1320.0,316.3 L1321.0,316.0 L1322.0,315.7 L1323.0,315.3 L1324.0,314.8 L1325.0,314.0 L1326.0,313.0 L1327.0,311.9 L1328.0,310.7 L1329.0,309.6 L1330.0,308.6 L1331.0,307.8 L1332.0,307.3 L1333.0,307.2 L1334.0,307.3 L1335.0,307.4 L1336.0,307.7 L1337.0,308.0 L1338.0,308.3 L1339.0,308.7 L1340.0,309.4 L1341.0,311.0 L1342.0,313.3 L1343.0,316.0 L1344.0,319.1 L1345.0,322.3 L1346.0,325.5 L1347.0,328.5 L1348.0,331.1 L1349.0,333.2 L1350.0,334.9 L1351.0,336.4 L1352.0,337.8 L1353.0,339.1 L1354.0,340.4 L1355.0,341.8 L1356.0,343.2 L1357.0,344.7 L1358.0,346.4 L1359.0,348.5 L1360.0,351.1 L1361.0,354.2 L1362.0,357.4 L1363.0,360.7 L1364.0,363.7 L1365.0,366.3 L1366.0,368.2 L1367.0,369.5 L1368.0,370.7 L1369.0,371.7 L1370.0,372.8 L1371.0,373.7 L1372.0,374.5 L1373.0,375.1 L1374.0,375.6 L1375.0,375.9 L1376.0,376.0 L1377.0,376.0 L1378.0,375.9 L1379.0,375.8 L1380.0,375.7 L1381.0,375.6 L1382.0,375.5 L1383.0,375.3 L1384.0,375.2 L1385.0,375.0 L1386.0,374.8 L1387.0,374.6 L1388.0,374.3 L1389.0,374.0 L1390.0,373.7 L1391.0,373.5 L1392.0,373.2 L1393.0,373.0 L1394.0,372.9 L1395.0,372.8 L1396.0,372.6 L1397.0,372.5 L1398.0,372.4 L1399.0,372.3 L1400.0,372.2 L1401.0,372.1 L1402.0,372.1 L1403.0,372.0 L1404.0,371.9 L1405.0,371.8 L1406.0,371.6 L1407.0,371.5 L1408.0,371.4 L1409.0,371.2 L1410.0,371.0 L1411.0,370.8 L1412.0,370.7 L1413.0,370.5 L1414.0,370.4 L1415.0,370.2 L1416.0,370.1 L1417.0,370.1 L1418.0,370.1 L1419.0,370.3 L1420.0,370.6 L1421.0,371.0 L1422.0,371.5 L1423.0,372.1 L1424.0,372.7 L1425.0,373.3 L1426.0,374.0 L1427.0,374.6 L1428.0,375.2 L1429.0,375.7 L1430.0,376.1 L1431.0,376.5 L1432.0,376.6 L1433.0,376.7 L1434.0,376.7 L1435.0,376.7 L1436.0,376.7 L1437.0,376.7 L1438.0,376.7 L1439.0,376.7 L1440.0,376.7 L1441.0,376.7 L1442.0,376.7 L1443.0,376.7 L1444.0,376.7 L1445.0,376.7 L1446.0,376.7 L1447.0,376.6 L1448.0,376.4 L1449.0,376.1 L1450.0,375.7 L1451.0,375.2 L1452.0,374.7 L1453.0,374.2 L1454.0,373.7 L1455.0,373.1 L1456.0,372.6 L1457.0,372.2 L1458.0,371.9 L1459.0,371.6 L1460.0,371.5 L1461.0,371.4 L1462.0,371.2 L1463.0,371.1 L1464.0,371.1 L1465.0,371.0 L1466.0,370.9 L1467.0,370.8 L1468.0,370.8 L1469.0,370.7 L1470.0,370.6 L1471.0,370.5 L1472.0,370.4 L1473.0,370.3 L1474.0,370.2 L1475.0,370.0 L1476.0,369.8 L1477.0,369.4 L1478.0,368.9 L1479.0,368.4 L1480.0,367.9 L1481.0,367.3 L1482.0,366.7 L1483.0,366.1 L1484.0,365.5 L1485.0,365.0 L1486.0,364.5 L1487.0,364.1 L1488.0,363.8 L1489.0,363.6 L1490.0,363.5 L1491.0,363.5 L1492.0,363.7 L1493.0,363.9 L1494.0,364.1 L1495.0,364.4 L1496.0,364.7 L1497.0,365.0 L1498.0,365.3 L1499.0,365.6 L1500.0,365.9 L1501.0,366.1 L1502.0,366.3 L1503.0,366.4 L1504.0,366.6 L1505.0,366.7 L1506.0,366.9 L1507.0,367.0 L1508.0,367.2 L1509.0,367.3 L1510.0,367.5 L1511.0,367.7 L1512.0,367.9 L1513.0,368.2 L1514.0,368.6 L1515.0,369.0 L1516.0,369.6 L1517.0,370.1 L1518.0,370.7 L1519.0,371.3 L1520.0,371.8 L1521.0,372.3 L1522.0,372.7 L1523.0,373.1 L1524.0,373.3 L1525.0,373.4 L1526.0,373.4 L1527.0,373.2 L1528.0,373.0 L1529.0,372.7 L1530.0,372.3 L1531.0,371.9 L1532.0,371.5 L1533.0,371.0 L1534.0,370.2 L1535.0,369.4 L1536.0,368.4 L1537.0,367.3 L1538.0,366.1 L1539.0,364.9 L1540.0,363.6 L1541.0,362.4 L1542.0,361.2 L1543.0,360.0 L1544.0,358.8 L1545.0,357.5 L1546.0,356.2 L1547.0,354.8 L1548.0,353.4 L1549.0,352.0 L1550.0,350.6 L1551.0,349.1 L1552.0,347.7 L1553.0,346.3 L1554.0,344.8 L1555.0,343.5 L1556.0,342.1 L1557.0,340.8 L1558.0,339.5 L1559.0,338.3 L1560.0,337.1 L1561.0,335.9 L1562.0,334.7 L1563.0,333.6 L1564.0,332.4 L1565.0,331.3 L1566.0,330.1 L1567.0,329.0 L1568.0,327.9 L1569.0,326.9 L1570.0,325.9 L1571.0,324.9 L1572.0,323.9 L1573.0,322.9 L1574.0,322.0 L1575.0,321.2 L1576.0,320.3 L1577.0,319.5 L1578.0,318.8 L1579.0,318.0 L1580.0,317.3 L1581.0,316.5 L1582.0,315.8 L1583.0,315.1 L1584.0,314.4 L1585.0,313.7 L1586.0,313.0 L1587.0,312.2 L1588.0,311.5 L1589.0,310.7 L1590.0,309.9 L1591.0,308.9 L1592.0,307.9 L1593.0,306.9 L1594.0,305.8 L1595.0,304.7 L1596.0,303.7 L1597.0,302.6 L1598.0,301.7 L1599.0,300.8 L1600.0,300.0 L1601.0,299.3 L1602.0,298.8 L1603.0,298.4 L1604.0,298.2 L1605.0,298.2 L1606.0,298.3 L1607.0,298.4 L1608.0,298.5 L1609.0,298.7 L1610.0,298.9 L1611.0,299.1 L1612.0,299.3 L1613.0,299.5 L1614.0,299.7 L1615.0,299.9 L1616.0,300.1 L1617.0,300.2 L1618.0,300.3 L1619.0,300.4 L1620.0,300.4 L1621.0,300.3 L1622.0,300.2 L1623.0,300.0 L1624.0,299.8 L1625.0,299.5 L1626.0,299.2 L1627.0,298.8 L1628.0,298.5 L1629.0,298.1 L1630.0,297.8 L1631.0,297.4 L1632.0,297.1 L1633.0,296.8 L1634.0,296.5 L1635.0,296.2 L1636.0,295.8 L1637.0,295.4 L1638.0,295.1 L1639.0,294.7 L1640.0,294.4 L1641.0,294.0 L1642.0,293.7 L1643.0,293.5 L1644.0,293.3 L1645.0,293.2 L1646.0,293.1 L1647.0,293.1 L1648.0,293.3 L1649.0,293.6 L1650.0,293.9 L1651.0,294.4 L1652.0,294.8 L1653.0,295.3 L1654.0,295.9 L1655.0,296.4 L1656.0,297.1 L1657.0,298.0 L1658.0,299.0 L1659.0,300.2 L1660.0,301.5 L1661.0,302.7 L1662.0,303.8 L1663.0,304.8 L1664.0,305.6 L1665.0,306.1 L1666.0,306.3 L1667.0,306.3 L1668.0,306.3 L1669.0,306.2 L1670.0,306.2 L1671.0,306.1 L1672.0,306.1 L1673.0,306.0 L1674.0,305.9 L1675.0,305.8 L1676.0,305.7 L1677.0,305.6 L1678.0,305.4 L1679.0,305.1 L1680.0,304.7 L1681.0,304.3 L1682.0,303.7 L1683.0,303.1 L1684.0,302.5 L1685.0,301.9 L1686.0,301.3 L1687.0,300.7 L1688.0,300.2 L1689.0,299.8 L1690.0,299.4 L1691.0,299.1 L1692.0,299.0 L1693.0,299.0 L1694.0,299.1 L1695.0,299.2 L1696.0,299.4 L1697.0,299.6 L1698.0,299.8 L1699.0,300.1 L1700.0,300.4 L1701.0,300.7 L1702.0,301.2 L1703.0,302.0 L1704.0,303.1 L1705.0,304.5 L1706.0,306.0 L1707.0,307.8 L1708.0,309.6 L1709.0,311.5 L1710.0,313.4 L1711.0,315.3 L1712.0,317.0 L1713.0,318.6 L1714.0,320.1 L1715.0,321.4 L1716.0,322.8 L1717.0,324.0 L1718.0,325.0 L1719.0,325.4 L1720.0,325.7 L1721.0,325.8 L1722.0,326.0 L1723.0,326.2 L1724.0,326.3 L1725.0,326.4 L1726.0,326.5 L1727.0,326.6 L1728.0,326.7 L1729.0,326.7 L1730.0,326.8 L1731.0,326.8 L1732.0,326.8 L1733.0,326.7 L1734.0,326.4 L1735.0,326.0 L1736.0,325.5 L1737.0,324.9 L1738.0,324.3 L1739.0,323.6 L1740.0,322.9 L1741.0,322.2 L1742.0,321.6 L1743.0,321.0 L1744.0,320.5 L1745.0,319.9 L1746.0,319.2 L1747.0,318.6 L1748.0,317.9 L1749.0,317.2 L1750.0,316.6 L1751.0,316.0 L1752.0,315.5 L1753.0,315.1 L1754.0,314.7 L1755.0,314.5 L1756.0,314.4 L1757.0,314.4 L1758.0,314.5 L1759.0,314.6 L1760.0,314.8 L1761.0,315.0 L1762.0,315.2 L1763.0,315.4 L1764.0,315.7 L1765.0,316.0 L1766.0,316.3 L1767.0,316.5 L1768.0,316.9 L1769.0,317.3 L1770.0,317.8 L1771.0,318.4 L1772.0,319.0 L1773.0,319.7 L1774.0,320.3 L1775.0,321.0 L1776.0,321.5 L1777.0,322.1 L1778.0,322.5 L1779.0,322.9 L1780.0,323.1 L1781.0,323.3 L1782.0,323.4 L1783.0,323.5 L1784.0,323.6 L1785.0,323.6 L1786.0,323.7 L1787.0,323.8 L1788.0,323.8 L1789.0,323.9 L1790.0,323.9 L1791.0,323.9 L1792.0,323.9 L1793.0,323.9 L1794.0,323.9 L1795.0,323.9 L1796.0,323.9 L1797.0,323.9 L1798.0,323.9 L1799.0,323.9 L1800.0,323.9 L1801.0,323.9 L1802.0,323.9 L1803.0,323.9 L1804.0,323.9 L1805.0,323.9 L1806.0,323.9 L1807.0,323.9 L1808.0,323.9 L1809.0,323.9 L1809.5,323.9" stroke="#000" stroke-width="1.3" fill="none" stroke-linejoin="round" stroke-linecap="round" />
<path d="M831.90,279.76 L832.40,280.20 L832.90,280.64 L833.40,281.08 L833.90,281.53 L834.40,281.98 L834.90,282.42 L835.40,282.87 L835.90,283.32 L836.40,283.77 L836.90,284.23 L837.40,284.68 L837.90,285.14 L838.40,285.59 L838.90,286.05 L839.40,286.51 L839.90,286.97 L840.40,287.43 L840.90,287.90 L841.40,288.36 L841.40,288.36 M844.00,290.79 L844.50,291.27 L845.00,291.74 L845.50,292.21 L846.00,292.69 L846.50,293.17 L847.00,293.64 L847.50,294.12 L848.00,294.60 L848.50,295.09 L849.00,295.57 L849.50,296.05 L850.00,296.54 L850.50,297.02 L851.00,297.51 L851.50,298.00 L852.00,298.49 L852.50,298.98 L853.00,299.47 L853.20,299.67 M855.70,302.15 L856.20,302.65 L856.70,303.16 L857.20,303.66 L857.70,304.16 L858.20,304.67 L858.70,305.17 L859.20,305.68 L859.70,306.19 L860.20,306.70 L860.70,307.21 L861.20,307.72 L861.70,308.23 L862.20,308.75 L862.70,309.26 L863.20,309.78 L863.70,310.29 L864.20,310.81 L864.70,311.33 L864.70,311.33 M867.20,313.95 L867.70,314.47 L868.20,315.00 L868.70,315.53 L869.20,316.06 L869.70,316.59 L870.20,317.12 L870.70,317.66 L871.20,318.19 L871.70,318.73 L872.20,319.26 L872.70,319.80 L873.20,320.34 L873.70,320.88 L874.20,321.42 L874.70,321.96 L875.20,322.50 L875.70,323.05 L875.90,323.26 M878.40,326.00 L878.90,326.55 L879.40,327.10 L879.90,327.66 L880.40,328.21 L880.90,328.77 L881.40,329.32 L881.90,329.88 L882.40,330.44 L882.90,331.00 L883.40,331.56 L883.90,332.12 L884.40,332.68 L884.90,333.24 L885.40,333.81 L885.90,334.37 L886.40,334.94 L886.90,335.51 L887.00,335.62 M889.30,338.24 L889.80,338.81 L890.30,339.39 L890.80,339.96 L891.30,340.54 L891.80,341.12 L892.30,341.69 L892.80,342.27 L893.30,342.85 L893.80,343.43 L894.30,344.02 L894.80,344.60 L895.30,345.18 L895.80,345.77 L896.30,346.35 L896.80,346.94 L897.30,347.53 L897.80,348.12 L897.80,348.12 M900.10,350.84 L900.60,351.43 L901.10,352.03 L901.60,352.62 L902.10,353.22 L902.60,353.82 L903.10,354.42 L903.60,355.01 L904.10,355.61 L904.60,356.22 L905.10,356.82 L905.60,357.42 L906.10,358.03 L906.60,358.63 L907.10,359.24 L907.60,359.84 L908.10,360.45 L908.40,360.82 M910.70,363.63 L911.20,364.24 L911.70,364.85 L912.20,365.47 L912.70,366.08 L913.20,366.70 L913.70,367.32 L914.20,367.94 L914.70,368.56 L915.20,369.18 L915.70,369.80 L916.20,370.42 L916.70,371.04 L917.20,371.67 L917.70,372.29 L918.20,372.91 L918.70,373.54 L918.80,373.67 M921.10,376.56 L921.60,377.19 L922.10,377.82 L922.60,378.45 L923.10,379.09 L923.60,379.72 L924.10,380.36 L924.60,380.99 L925.10,381.63 L925.60,382.27 L926.10,382.90 L926.60,383.54 L927.10,384.18 L927.60,384.82 L928.10,385.46 L928.60,386.11 L929.10,386.75 L929.10,386.75 M931.30,389.59 L931.80,390.23 L932.30,390.88 L932.80,391.53 L933.30,392.18 L933.80,392.83 L934.30,393.48 L934.80,394.13 L935.30,394.78 L935.80,395.44 L936.30,396.09 L936.80,396.75 L937.30,397.40 L937.80,398.06 L938.30,398.71 L938.80,399.37 L939.30,400.03 L939.30,400.03 M941.40,402.80 L941.90,403.46 L942.40,404.13 L942.90,404.79 L943.40,405.45 L943.90,406.12 L944.40,406.78 L944.90,407.45 L945.40,408.12 L945.90,408.78 L946.40,409.45 L946.90,410.12 L947.40,410.79 L947.90,411.46 L948.40,412.13 L948.90,412.80 L949.30,413.34 M951.40,416.17 L951.90,416.84 L952.40,417.52 L952.90,418.20 L953.40,418.87 L953.90,419.55 L954.40,420.23 L954.90,420.91 L955.40,421.59 L955.90,422.27 L956.40,422.95 L956.90,423.63 L957.40,424.32 L957.90,425.00 L958.40,425.68 L958.90,426.37 L959.20,426.78 M961.30,429.66 L961.80,430.35 L962.30,431.03 L962.80,431.72 L963.30,432.41 L963.80,433.10 L964.30,433.79 L964.80,434.48 L965.30,435.18 L965.80,435.87 L966.30,436.56 L966.80,437.25 L967.30,437.95 L967.80,438.64 L968.30,439.34 L968.80,440.03 L969.00,440.31 M971.10,443.24 L971.60,443.94 L972.10,444.64 L972.60,445.34 L973.10,446.04 L973.60,446.74 L974.10,447.44 L974.60,448.14 L975.10,448.84 L975.60,449.55 L976.10,450.25 L976.60,450.95 L977.10,451.66 L977.60,452.36 L978.10,453.07 L978.60,453.77 L978.70,453.91 M980.80,456.88 L981.30,457.59 L981.80,458.30 L982.30,459.01 L982.80,459.72 L983.30,460.43 L983.80,461.14 L984.30,461.85 L984.80,462.56 L985.30,463.28 L985.80,463.99 L986.30,464.70 L986.80,465.41 L987.30,466.13 L987.80,466.84 L988.30,467.56 L988.30,467.56 M990.40,470.56 L990.90,471.28 L991.40,472.00 L991.90,472.71 L992.40,473.43 L992.90,474.15 L993.40,474.87 L993.90,475.59 L994.40,476.31 L994.90,477.03 L995.40,477.75 L995.90,478.47 L996.40,479.19 L996.90,479.91 L997.40,480.64 L997.90,481.36 L997.90,481.36 M1000.00,484.40 L1000.50,485.12 L1001.00,485.84 L1001.50,486.57 L1002.00,487.29 L1002.50,488.02 L1003.00,488.75 L1003.50,489.47 L1004.00,490.20 L1004.50,490.93 L1005.00,491.65 L1005.50,492.38 L1006.00,493.11 L1006.50,493.84 L1007.00,494.56 L1007.40,495.15 M1009.50,498.21 L1010.00,498.94 L1010.50,499.67 L1011.00,500.40 L1011.50,501.14 L1012.00,501.87 L1012.50,502.60 L1013.00,503.33 L1013.50,504.06 L1014.00,504.80 L1014.50,505.53 L1015.00,506.26 L1015.50,507.00 L1016.00,507.73 L1016.50,508.46 L1016.90,509.05 M1018.90,511.99 L1019.40,512.72 L1019.90,513.46 L1020.40,514.20 L1020.90,514.93 L1021.40,515.67 L1021.90,516.41 L1022.40,517.14 L1022.90,517.88 L1023.40,518.62 L1023.90,519.35 L1024.40,520.09 L1024.90,520.83 L1025.40,521.57 L1025.90,522.30 L1026.30,522.90 M1028.40,526.00 L1028.90,526.74 L1029.40,527.48 L1029.90,528.22 L1030.40,528.96 L1030.90,529.70 L1031.40,530.44 L1031.90,531.18 L1032.40,531.92 L1032.90,532.66 L1033.40,533.40 L1033.90,534.14 L1034.40,534.88 L1034.90,535.62 L1035.40,536.36 L1035.70,536.81 M1037.70,539.77 L1038.20,540.52 L1038.70,541.26 L1039.20,542.00 L1039.70,542.74 L1040.20,543.49 L1040.70,544.23 L1041.20,544.97 L1041.70,545.71 L1042.20,546.46 L1042.70,547.20 L1043.20,547.94 L1043.70,548.68 L1044.20,549.43 L1044.70,550.17 L1045.10,550.77 M1047.10,553.74 L1047.60,554.48 L1048.10,555.23 L1048.60,555.97 L1049.10,556.71 L1049.60,557.46 L1050.10,558.20 L1050.60,558.95 L1051.10,559.69 L1051.60,560.43 L1052.10,561.18 L1052.60,561.92 L1053.10,562.66 L1053.60,563.41 L1054.10,564.15 L1054.40,564.60 M1056.50,567.72 L1057.00,568.47 L1057.50,569.21 L1058.00,569.96 L1058.50,570.70 L1059.00,571.44 L1059.50,572.19 L1060.00,572.93 L1060.50,573.68 L1061.00,574.42 L1061.50,575.16 L1062.00,575.91 L1062.50,576.65 L1063.00,577.39 L1063.50,578.14 L1063.80,578.58 M1065.90,581.71 L1066.40,582.45 L1066.90,583.19 L1067.40,583.94 L1067.90,584.68 L1068.40,585.42 L1068.90,586.16 L1069.40,586.91 L1069.90,587.65 L1070.40,588.39 L1070.90,589.14 L1071.40,589.88 L1071.90,590.62 L1072.40,591.36 L1072.90,592.10 L1073.20,592.55 M1075.20,595.52 L1075.70,596.26 L1076.20,597.00 L1076.70,597.74 L1077.20,598.48 L1077.70,599.22 L1078.20,599.96 L1078.70,600.70 L1079.20,601.44 L1079.70,602.18 L1080.20,602.92 L1080.70,603.66 L1081.20,604.40 L1081.70,605.14 L1082.20,605.88 L1082.60,606.47 M1084.60,609.43 L1085.10,610.17 L1085.60,610.90 L1086.10,611.64 L1086.60,612.38 L1087.10,613.12 L1087.60,613.85 L1088.10,614.59 L1088.60,615.33 L1089.10,616.06 L1089.60,616.80 L1090.10,617.54 L1090.60,618.27 L1091.10,619.01 L1091.60,619.74 L1092.00,620.33 M1094.10,623.42 L1094.60,624.15 L1095.10,624.88 L1095.60,625.62 L1096.10,626.35 L1096.60,627.08 L1097.10,627.82 L1097.60,628.55 L1098.10,629.28 L1098.60,630.01 L1099.10,630.74 L1099.60,631.47 L1100.10,632.21 L1100.60,632.94 L1101.10,633.67 L1101.50,634.25 M1103.50,637.17 L1104.00,637.90 L1104.50,638.62 L1105.00,639.35 L1105.50,640.08 L1106.00,640.81 L1106.50,641.53 L1107.00,642.26 L1107.50,642.98 L1108.00,643.71 L1108.50,644.44 L1109.00,645.16 L1109.50,645.88 L1110.00,646.61 L1110.50,647.33 L1111.00,648.06 L1111.00,648.06 M1113.00,650.95 L1113.50,651.67 L1114.00,652.39 L1114.50,653.11 L1115.00,653.83 L1115.50,654.55 L1116.00,655.27 L1116.50,655.99 L1117.00,656.71 L1117.50,657.43 L1118.00,658.14 L1118.50,658.86 L1119.00,659.58 L1119.50,660.30 L1120.00,661.01 L1120.50,661.73 L1120.50,661.73 M1122.60,664.73 L1123.10,665.44 L1123.60,666.16 L1124.10,666.87 L1124.60,667.58 L1125.10,668.29 L1125.60,669.00 L1126.10,669.71 L1126.60,670.42 L1127.10,671.13 L1127.60,671.84 L1128.10,672.55 L1128.60,673.26 L1129.10,673.97 L1129.60,674.67 L1130.10,675.38 L1130.20,675.52 M1132.30,678.48 L1132.80,679.19 L1133.30,679.89 L1133.80,680.59 L1134.30,681.30 L1134.80,682.00 L1135.30,682.70 L1135.80,683.40 L1136.30,684.10 L1136.80,684.80 L1137.30,685.50 L1137.80,686.20 L1138.30,686.90 L1138.80,687.59 L1139.30,688.29 L1139.80,688.99 L1139.90,689.13 M1142.00,692.04 L1142.50,692.74 L1143.00,693.43 L1143.50,694.12 L1144.00,694.81 L1144.50,695.50 L1145.00,696.19 L1145.50,696.88 L1146.00,697.57 L1146.50,698.26 L1147.00,698.95 L1147.50,699.63 L1148.00,700.32 L1148.50,701.01 L1149.00,701.69 L1149.50,702.38 L1149.70,702.65 M1151.80,705.52 L1152.30,706.20 L1152.80,706.88 L1153.30,707.56 L1153.80,708.24 L1154.30,708.92 L1154.80,709.59 L1155.30,710.27 L1155.80,710.95 L1156.30,711.62 L1156.80,712.30 L1157.30,712.97 L1157.80,713.64 L1158.30,714.32 L1158.80,714.99 L1159.30,715.66 L1159.60,716.06 M1161.80,719.01 L1162.30,719.67 L1162.80,720.34 L1163.30,721.01 L1163.80,721.67 L1164.30,722.34 L1164.80,723.00 L1165.30,723.66 L1165.80,724.32 L1166.30,724.99 L1166.80,725.65 L1167.30,726.31 L1167.80,726.97 L1168.30,727.62 L1168.80,728.28 L1169.30,728.94 L1169.60,729.33 M1171.80,732.21 L1172.30,732.86 L1172.80,733.51 L1173.30,734.16 L1173.80,734.81 L1174.30,735.46 L1174.80,736.11 L1175.30,736.76 L1175.80,737.40 L1176.30,738.05 L1176.80,738.70 L1177.30,739.34 L1177.80,739.98 L1178.30,740.62 L1178.80,741.27 L1179.30,741.91 L1179.80,742.55 L1179.80,742.55 M1182.00,745.35 L1182.50,745.99 L1183.00,746.62 L1183.50,747.26 L1184.00,747.89 L1184.50,748.52 L1185.00,749.15 L1185.50,749.78 L1186.00,750.41 L1186.50,751.04 L1187.00,751.67 L1187.50,752.29 L1188.00,752.92 L1188.50,753.54 L1189.00,754.17 L1189.50,754.79 L1190.00,755.41 L1190.10,755.54 M1192.40,758.39 L1192.90,759.00 L1193.40,759.62 L1193.90,760.24 L1194.40,760.85 L1194.90,761.46 L1195.40,762.07 L1195.90,762.69 L1196.40,763.30 L1196.90,763.91 L1197.40,764.51 L1197.90,765.12 L1198.40,765.73 L1198.90,766.33 L1199.40,766.94 L1199.90,767.54 L1200.40,768.15 L1200.60,768.39 M1202.90,771.14 L1203.40,771.74 L1203.90,772.34 L1204.40,772.93 L1204.90,773.53 L1205.40,774.12 L1205.90,774.71 L1206.40,775.30 L1206.90,775.89 L1207.40,776.48 L1207.90,777.07 L1208.40,777.66 L1208.90,778.24 L1209.40,778.83 L1209.90,779.41 L1210.40,779.99 L1210.90,780.58 L1211.30,781.04 M1213.70,783.81 L1214.20,784.39 L1214.70,784.96 L1215.20,785.54 L1215.70,786.11 L1216.20,786.68 L1216.70,787.25 L1217.20,787.82 L1217.70,788.38 L1218.20,788.95 L1218.70,789.52 L1219.20,790.08 L1219.70,790.64 L1220.20,791.21 L1220.70,791.77 L1221.20,792.33 L1221.70,792.89 L1222.20,793.44 L1222.20,793.44 M1224.60,796.11 L1225.10,796.66 L1225.60,797.21 L1226.10,797.76 L1226.60,798.31 L1227.10,798.85 L1227.60,799.40 L1228.10,799.94 L1228.60,800.49 L1229.10,801.03 L1229.60,801.57 L1230.10,802.11 L1230.60,802.65 L1231.10,803.19 L1231.60,803.72 L1232.10,804.26 L1232.60,804.79 L1233.10,805.33 L1233.30,805.54 M1235.80,808.19 L1236.30,808.71 L1236.80,809.24 L1237.30,809.76 L1237.80,810.28 L1238.30,810.80 L1238.80,811.32 L1239.30,811.84 L1239.80,812.36 L1240.30,812.88 L1240.80,813.39 L1241.30,813.91 L1241.80,814.42 L1242.30,814.93 L1242.80,815.44 L1243.30,815.95 L1243.80,816.46 L1244.30,816.97 L1244.70,817.37 M1247.20,819.88 L1247.70,820.38 L1248.20,820.88 L1248.70,821.37 L1249.20,821.87 L1249.70,822.36 L1250.20,822.85 L1250.70,823.34 L1251.20,823.83 L1251.70,824.32 L1252.20,824.81 L1252.70,825.30 L1253.20,825.78 L1253.70,826.27 L1254.20,826.75 L1254.70,827.23 L1255.20,827.71 L1255.70,828.19 L1256.20,828.66 L1256.40,828.85 M1259.00,831.31 L1259.50,831.78 L1260.00,832.25 L1260.50,832.72 L1261.00,833.18 L1261.50,833.64 L1262.00,834.11 L1262.50,834.57 L1263.00,835.03 L1263.50,835.49 L1264.00,835.94 L1264.50,836.40 L1265.00,836.85 L1265.50,837.31 L1266.00,837.76 L1266.50,838.21 L1267.00,838.66 L1267.50,839.11 L1268.00,839.55 L1268.40,839.91 M1271.00,842.21 L1271.50,842.64 L1272.00,843.08 L1272.50,843.51 L1273.00,843.95 L1273.50,844.38 L1274.00,844.81 L1274.50,845.24 L1275.00,845.67 L1275.50,846.09 L1276.00,846.52 L1276.50,846.94 L1277.00,847.36 L1277.50,847.79 L1278.00,848.20 L1278.50,848.62 L1279.00,849.04 L1279.50,849.46 L1280.00,849.87 L1280.50,850.28 L1280.70,850.45 M1283.40,852.65 L1283.90,853.05 L1284.40,853.46 L1284.90,853.86 L1285.40,854.26 L1285.90,854.65 L1286.40,855.05 L1286.90,855.45 L1287.40,855.84 L1287.90,856.23 L1288.40,856.62 L1288.90,857.01 L1289.40,857.40 L1289.90,857.79 L1290.40,858.17 L1290.90,858.56 L1291.40,858.94 L1291.90,859.32 L1292.40,859.70 L1292.90,860.08 L1293.40,860.45 L1293.40,860.45 M1296.10,862.46 L1296.60,862.83 L1297.10,863.20 L1297.60,863.56 L1298.10,863.93 L1298.60,864.29 L1299.10,864.65 L1299.60,865.01 L1300.10,865.37 L1300.60,865.72 L1301.10,866.08 L1301.60,866.43 L1302.10,866.78 L1302.60,867.13 L1303.10,867.48 L1303.60,867.83 L1304.10,868.17 L1304.60,868.52 L1305.10,868.86 L1305.60,869.20 L1306.10,869.54 L1306.40,869.75 M1309.30,871.68 L1309.80,872.01 L1310.30,872.34 L1310.80,872.67 L1311.30,872.99 L1311.80,873.32 L1312.30,873.64 L1312.80,873.96 L1313.30,874.28 L1313.80,874.59 L1314.30,874.91 L1314.80,875.22 L1315.30,875.54 L1315.80,875.85 L1316.30,876.16 L1316.80,876.47 L1317.30,876.77 L1317.80,877.08 L1318.30,877.38 L1318.80,877.69 L1319.30,877.99 L1319.80,878.29 L1319.90,878.35 M1322.80,880.05 L1323.30,880.34 L1323.80,880.63 L1324.30,880.91 L1324.80,881.20 L1325.30,881.48 L1325.80,881.76 L1326.30,882.04 L1326.80,882.32 L1327.30,882.60 L1327.80,882.87 L1328.30,883.15 L1328.80,883.42 L1329.30,883.69 L1329.80,883.96 L1330.30,884.23 L1330.80,884.49 L1331.30,884.76 L1331.80,885.02 L1332.30,885.28 L1332.80,885.54 L1333.30,885.80 L1333.70,886.01 M1336.70,887.52 L1337.20,887.77 L1337.70,888.01 L1338.20,888.25 L1338.70,888.50 L1339.20,888.74 L1339.70,888.97 L1340.20,889.21 L1340.70,889.45 L1341.20,889.68 L1341.70,889.91 L1342.20,890.15 L1342.70,890.38 L1343.20,890.60 L1343.70,890.83 L1344.20,891.06 L1344.70,891.28 L1345.20,891.50 L1345.70,891.72 L1346.20,891.94 L1346.70,892.16 L1347.20,892.37 L1347.70,892.59 L1347.90,892.67 M1351.10,894.00 L1351.60,894.20 L1352.10,894.40 L1352.60,894.60 L1353.10,894.80 L1353.60,894.99 L1354.10,895.19 L1354.60,895.38 L1355.10,895.57 L1355.60,895.76 L1356.10,895.95 L1356.60,896.14 L1357.10,896.32 L1357.60,896.50 L1358.10,896.69 L1358.60,896.87 L1359.10,897.04 L1359.60,897.22 L1360.10,897.40 L1360.60,897.57 L1361.10,897.74 L1361.60,897.91 L1362.10,898.08 L1362.50,898.22" stroke="#0a0af0" stroke-width="13.5" fill="none" stroke-linecap="butt"/>
<line x1="260.5" y1="135" x2="260.5" y2="953" stroke="#000" stroke-width="1" shape-rendering="crispEdges"/>
<line x1="260" y1="952.5" x2="1811" y2="952.5" stroke="#000" stroke-width="1" shape-rendering="crispEdges"/>
<line x1="1810.5" y1="135" x2="1810.5" y2="953" stroke="#1414c0" stroke-width="1" shape-rendering="crispEdges"/>
<line x1="276" y1="135.5" x2="1811" y2="135.5" stroke="#14147a" stroke-width="1" shape-rendering="crispEdges"/>
<text x="1498.67" y="843.40" font-size="28.20" fill="#0c04c4" stroke="#fff" stroke-width="0.35" textLength="91.59" lengthAdjust="spacingAndGlyphs" >Eclipse</text>
<rect x="1612" y="828.5" width="10" height="12" fill="#0a0af0"/>
<rect x="1626" y="828.5" width="10" height="12" fill="#0a0af0"/>
<rect x="1640" y="828.5" width="10" height="12" fill="#0a0af0"/>
<rect x="1654" y="828.5" width="10" height="12" fill="#0a0af0"/>
<rect x="1668" y="828.5" width="10" height="12" fill="#0a0af0"/>
<rect x="1682" y="828.5" width="10" height="12" fill="#0a0af0"/>
<rect x="1696" y="828.5" width="10" height="12" fill="#0a0af0"/>
<rect x="1710" y="828.5" width="10" height="12" fill="#0a0af0"/>
<rect x="1724" y="828.5" width="10" height="12" fill="#0a0af0"/>
<rect x="1738" y="828.5" width="10" height="12" fill="#0a0af0"/>
<rect x="1752" y="828.5" width="10" height="12" fill="#0a0af0"/>
<text x="1499.28" y="884.60" font-size="28.20" fill="#000" stroke="#fff" stroke-width="0.35" textLength="255.96" lengthAdjust="spacingAndGlyphs" >One Minute Average</text>
<text x="1499.27" y="926.20" font-size="28.20" fill="#14e01e" stroke="#fff" stroke-width="0.35" textLength="267.67" lengthAdjust="spacingAndGlyphs" >One Second Average</text>
<text x="743.04" y="113.90" font-size="29.10" font-weight="bold" fill="#000" stroke="#fff" stroke-width="0.5" textLength="581.10" lengthAdjust="spacingAndGlyphs" >Day 289  16-Oct-2010 17:34:25   orbit 13562</text>
<text x="209.87" y="962.15" font-size="28.10" fill="#000" stroke="#fff" stroke-width="0.35" textLength="31.12" lengthAdjust="spacingAndGlyphs" >10</text>
<text x="242.24" y="945.00" font-size="17.80" fill="#000" stroke="#fff" stroke-width="0.35" textLength="9.52" lengthAdjust="spacingAndGlyphs" >2</text>
<text x="209.87" y="757.90" font-size="28.10" fill="#000" stroke="#fff" stroke-width="0.35" textLength="31.12" lengthAdjust="spacingAndGlyphs" >10</text>
<text x="242.47" y="740.75" font-size="17.80" fill="#000" stroke="#fff" stroke-width="0.35" textLength="9.15" lengthAdjust="spacingAndGlyphs" >3</text>
<text x="209.87" y="553.65" font-size="28.10" fill="#000" stroke="#fff" stroke-width="0.35" textLength="31.12" lengthAdjust="spacingAndGlyphs" >10</text>
<text x="242.74" y="536.50" font-size="17.80" fill="#000" stroke="#fff" stroke-width="0.35" textLength="8.61" lengthAdjust="spacingAndGlyphs" >4</text>
<text x="209.87" y="349.40" font-size="28.10" fill="#000" stroke="#fff" stroke-width="0.35" textLength="31.12" lengthAdjust="spacingAndGlyphs" >10</text>
<text x="242.44" y="332.25" font-size="17.80" fill="#000" stroke="#fff" stroke-width="0.35" textLength="9.15" lengthAdjust="spacingAndGlyphs" >5</text>
<text x="209.87" y="145.15" font-size="28.10" fill="#000" stroke="#fff" stroke-width="0.35" textLength="31.12" lengthAdjust="spacingAndGlyphs" >10</text>
<text x="242.24" y="128.00" font-size="17.80" fill="#000" stroke="#fff" stroke-width="0.35" textLength="9.40" lengthAdjust="spacingAndGlyphs" >6</text>
<text x="1818.46" y="921.05" font-size="27.80" fill="#0c04c4" stroke="#fff" stroke-width="0.35" textLength="46.63" lengthAdjust="spacingAndGlyphs" >400</text>
<text x="1818.46" y="839.35" font-size="27.80" fill="#0c04c4" stroke="#fff" stroke-width="0.35" textLength="46.63" lengthAdjust="spacingAndGlyphs" >450</text>
<text x="1817.97" y="757.65" font-size="27.80" fill="#0c04c4" stroke="#fff" stroke-width="0.35" textLength="47.13" lengthAdjust="spacingAndGlyphs" >500</text>
<text x="1817.97" y="675.95" font-size="27.80" fill="#0c04c4" stroke="#fff" stroke-width="0.35" textLength="47.13" lengthAdjust="spacingAndGlyphs" >550</text>
<text x="1817.66" y="594.25" font-size="27.80" fill="#0c04c4" stroke="#fff" stroke-width="0.35" textLength="47.46" lengthAdjust="spacingAndGlyphs" >600</text>
<text x="1817.66" y="512.55" font-size="27.80" fill="#0c04c4" stroke="#fff" stroke-width="0.35" textLength="47.46" lengthAdjust="spacingAndGlyphs" >650</text>
<text x="1817.64" y="430.85" font-size="27.80" fill="#0c04c4" stroke="#fff" stroke-width="0.35" textLength="47.47" lengthAdjust="spacingAndGlyphs" >700</text>
<text x="1817.64" y="349.15" font-size="27.80" fill="#0c04c4" stroke="#fff" stroke-width="0.35" textLength="47.47" lengthAdjust="spacingAndGlyphs" >750</text>
<text x="1817.87" y="267.45" font-size="27.80" fill="#0c04c4" stroke="#fff" stroke-width="0.35" textLength="47.24" lengthAdjust="spacingAndGlyphs" >800</text>
<text x="1817.87" y="185.75" font-size="27.80" fill="#0c04c4" stroke="#fff" stroke-width="0.35" textLength="47.24" lengthAdjust="spacingAndGlyphs" >850</text>
<g transform="rotate(-90)">
<text x="-599.47" y="179.00" font-size="28.90" fill="#000" stroke="#fff" stroke-width="0.35" textLength="21.72" lengthAdjust="spacingAndGlyphs" >N</text>
</g>
<g transform="rotate(-90)">
<text x="-579.52" y="192.80" font-size="21.00" fill="#000" stroke="#fff" stroke-width="0.35" textLength="5.06" lengthAdjust="spacingAndGlyphs" >i</text>
</g>
<g transform="rotate(-90)">
<text x="-565.51" y="179.00" font-size="28.90" fill="#000" stroke="#fff" stroke-width="0.35" textLength="46.03" lengthAdjust="spacingAndGlyphs" >(cm</text>
</g>
<g transform="rotate(-90)">
<text x="-519.55" y="166.80" font-size="22.00" fill="#000" stroke="#fff" stroke-width="0.35" textLength="19.10" lengthAdjust="spacingAndGlyphs" >-3</text>
</g>
<g transform="rotate(-90)">
<text x="-498.83" y="179.00" font-size="28.90" fill="#000" stroke="#fff" stroke-width="0.35" textLength="7.16" lengthAdjust="spacingAndGlyphs" >)</text>
</g>
<g transform="rotate(-90)">
<text x="-591.76" y="1901.00" font-size="26.50" fill="#0c04c4" stroke="#fff" stroke-width="0.35" textLength="91.05" lengthAdjust="spacingAndGlyphs" >alt (km)</text>
</g>
<g transform="rotate(-90)">
<text x="-1152.42" y="184.10" font-size="27.60" fill="#000" stroke="#fff" stroke-width="0.35" textLength="212.67" lengthAdjust="spacingAndGlyphs" >Wavelength (km)</text>
</g>
<line x1="273" y1="975.5" x2="1810" y2="975.5" stroke="#000" stroke-width="1" stroke-dasharray="1 4" shape-rendering="crispEdges"/>
<line x1="260" y1="975.5" x2="269" y2="975.5" stroke="#000" stroke-width="1" shape-rendering="crispEdges"/>
<line x1="1802" y1="975.5" x2="1811" y2="975.5" stroke="#000" stroke-width="1" shape-rendering="crispEdges"/>
<line x1="273" y1="980.5" x2="1810" y2="980.5" stroke="#000" stroke-width="1" stroke-dasharray="1 4" shape-rendering="crispEdges"/>
<line x1="260" y1="980.5" x2="269" y2="980.5" stroke="#000" stroke-width="1" shape-rendering="crispEdges"/>
<line x1="1802" y1="980.5" x2="1811" y2="980.5" stroke="#000" stroke-width="1" shape-rendering="crispEdges"/>
<line x1="273" y1="984.5" x2="1810" y2="984.5" stroke="#000" stroke-width="1" stroke-dasharray="1 4" shape-rendering="crispEdges"/>
<line x1="260" y1="984.5" x2="269" y2="984.5" stroke="#000" stroke-width="1" shape-rendering="crispEdges"/>
<line x1="1802" y1="984.5" x2="1811" y2="984.5" stroke="#000" stroke-width="1" shape-rendering="crispEdges"/>
<line x1="273" y1="987.5" x2="1810" y2="987.5" stroke="#000" stroke-width="1" stroke-dasharray="1 4" shape-rendering="crispEdges"/>
<line x1="260" y1="987.5" x2="269" y2="987.5" stroke="#000" stroke-width="1" shape-rendering="crispEdges"/>
<line x1="1802" y1="987.5" x2="1811" y2="987.5" stroke="#000" stroke-width="1" shape-rendering="crispEdges"/>
<line x1="273" y1="990.5" x2="1810" y2="990.5" stroke="#000" stroke-width="1" stroke-dasharray="1 4" shape-rendering="crispEdges"/>
<line x1="260" y1="990.5" x2="269" y2="990.5" stroke="#000" stroke-width="1" shape-rendering="crispEdges"/>
<line x1="1802" y1="990.5" x2="1811" y2="990.5" stroke="#000" stroke-width="1" shape-rendering="crispEdges"/>
<line x1="273" y1="993.5" x2="1810" y2="993.5" stroke="#000" stroke-width="1" stroke-dasharray="1 4" shape-rendering="crispEdges"/>
<line x1="260" y1="993.5" x2="269" y2="993.5" stroke="#000" stroke-width="1" shape-rendering="crispEdges"/>
<line x1="1802" y1="993.5" x2="1811" y2="993.5" stroke="#000" stroke-width="1" shape-rendering="crispEdges"/>
<line x1="273" y1="995.5" x2="1810" y2="995.5" stroke="#000" stroke-width="1" stroke-dasharray="1 4" shape-rendering="crispEdges"/>
<line x1="260" y1="995.5" x2="276" y2="995.5" stroke="#000" stroke-width="1" shape-rendering="crispEdges"/>
<line x1="1795" y1="995.5" x2="1811" y2="995.5" stroke="#000" stroke-width="1" shape-rendering="crispEdges"/>
<line x1="273" y1="1011.5" x2="1810" y2="1011.5" stroke="#000" stroke-width="1" stroke-dasharray="1 4" shape-rendering="crispEdges"/>
<line x1="260" y1="1011.5" x2="269" y2="1011.5" stroke="#000" stroke-width="1" shape-rendering="crispEdges"/>
<line x1="1802" y1="1011.5" x2="1811" y2="1011.5" stroke="#000" stroke-width="1" shape-rendering="crispEdges"/>
<line x1="273" y1="1020.5" x2="1810" y2="1020.5" stroke="#000" stroke-width="1" stroke-dasharray="1 4" shape-rendering="crispEdges"/>
<line x1="260" y1="1020.5" x2="269" y2="1020.5" stroke="#000" stroke-width="1" shape-rendering="crispEdges"/>
<line x1="1802" y1="1020.5" x2="1811" y2="1020.5" stroke="#000" stroke-width="1" shape-rendering="crispEdges"/>
<line x1="273" y1="1026.5" x2="1810" y2="1026.5" stroke="#000" stroke-width="1" stroke-dasharray="1 4" shape-rendering="crispEdges"/>
<line x1="260" y1="1026.5" x2="269" y2="1026.5" stroke="#000" stroke-width="1" shape-rendering="crispEdges"/>
<line x1="1802" y1="1026.5" x2="1811" y2="1026.5" stroke="#000" stroke-width="1" shape-rendering="crispEdges"/>
<line x1="273" y1="1031.5" x2="1810" y2="1031.5" stroke="#000" stroke-width="1" stroke-dasharray="1 4" shape-rendering="crispEdges"/>
<line x1="260" y1="1031.5" x2="269" y2="1031.5" stroke="#000" stroke-width="1" shape-rendering="crispEdges"/>
<line x1="1802" y1="1031.5" x2="1811" y2="1031.5" stroke="#000" stroke-width="1" shape-rendering="crispEdges"/>
<line x1="273" y1="1035.5" x2="1810" y2="1035.5" stroke="#000" stroke-width="1" stroke-dasharray="1 4" shape-rendering="crispEdges"/>
<line x1="260" y1="1035.5" x2="269" y2="1035.5" stroke="#000" stroke-width="1" shape-rendering="crispEdges"/>
<line x1="1802" y1="1035.5" x2="1811" y2="1035.5" stroke="#000" stroke-width="1" shape-rendering="crispEdges"/>
<line x1="273" y1="1038.5" x2="1810" y2="1038.5" stroke="#000" stroke-width="1" stroke-dasharray="1 4" shape-rendering="crispEdges"/>
<line x1="260" y1="1038.5" x2="269" y2="1038.5" stroke="#000" stroke-width="1" shape-rendering="crispEdges"/>
<line x1="1802" y1="1038.5" x2="1811" y2="1038.5" stroke="#000" stroke-width="1" shape-rendering="crispEdges"/>
<line x1="273" y1="1041.5" x2="1810" y2="1041.5" stroke="#000" stroke-width="1" stroke-dasharray="1 4" shape-rendering="crispEdges"/>
<line x1="260" y1="1041.5" x2="269" y2="1041.5" stroke="#000" stroke-width="1" shape-rendering="crispEdges"/>
<line x1="1802" y1="1041.5" x2="1811" y2="1041.5" stroke="#000" stroke-width="1" shape-rendering="crispEdges"/>
<line x1="273" y1="1044.5" x2="1810" y2="1044.5" stroke="#000" stroke-width="1" stroke-dasharray="1 4" shape-rendering="crispEdges"/>
<line x1="260" y1="1044.5" x2="269" y2="1044.5" stroke="#000" stroke-width="1" shape-rendering="crispEdges"/>
<line x1="1802" y1="1044.5" x2="1811" y2="1044.5" stroke="#000" stroke-width="1" shape-rendering="crispEdges"/>
<line x1="273" y1="1046.5" x2="1810" y2="1046.5" stroke="#000" stroke-width="1" stroke-dasharray="1 4" shape-rendering="crispEdges"/>
<line x1="260" y1="1046.5" x2="276" y2="1046.5" stroke="#000" stroke-width="1" shape-rendering="crispEdges"/>
<line x1="1795" y1="1046.5" x2="1811" y2="1046.5" stroke="#000" stroke-width="1" shape-rendering="crispEdges"/>
<line x1="273" y1="1062.5" x2="1810" y2="1062.5" stroke="#000" stroke-width="1" stroke-dasharray="1 4" shape-rendering="crispEdges"/>
<line x1="260" y1="1062.5" x2="269" y2="1062.5" stroke="#000" stroke-width="1" shape-rendering="crispEdges"/>
<line x1="1802" y1="1062.5" x2="1811" y2="1062.5" stroke="#000" stroke-width="1" shape-rendering="crispEdges"/>
<line x1="273" y1="1071.5" x2="1810" y2="1071.5" stroke="#000" stroke-width="1" stroke-dasharray="1 4" shape-rendering="crispEdges"/>
<line x1="260" y1="1071.5" x2="269" y2="1071.5" stroke="#000" stroke-width="1" shape-rendering="crispEdges"/>
<line x1="1802" y1="1071.5" x2="1811" y2="1071.5" stroke="#000" stroke-width="1" shape-rendering="crispEdges"/>
<line x1="273" y1="1077.5" x2="1810" y2="1077.5" stroke="#000" stroke-width="1" stroke-dasharray="1 4" shape-rendering="crispEdges"/>
<line x1="260" y1="1077.5" x2="269" y2="1077.5" stroke="#000" stroke-width="1" shape-rendering="crispEdges"/>
<line x1="1802" y1="1077.5" x2="1811" y2="1077.5" stroke="#000" stroke-width="1" shape-rendering="crispEdges"/>
<line x1="273" y1="1082.5" x2="1810" y2="1082.5" stroke="#000" stroke-width="1" stroke-dasharray="1 4" shape-rendering="crispEdges"/>
<line x1="260" y1="1082.5" x2="269" y2="1082.5" stroke="#000" stroke-width="1" shape-rendering="crispEdges"/>
<line x1="1802" y1="1082.5" x2="1811" y2="1082.5" stroke="#000" stroke-width="1" shape-rendering="crispEdges"/>
<line x1="273" y1="1086.5" x2="1810" y2="1086.5" stroke="#000" stroke-width="1" stroke-dasharray="1 4" shape-rendering="crispEdges"/>
<line x1="260" y1="1086.5" x2="269" y2="1086.5" stroke="#000" stroke-width="1" shape-rendering="crispEdges"/>
<line x1="1802" y1="1086.5" x2="1811" y2="1086.5" stroke="#000" stroke-width="1" shape-rendering="crispEdges"/>
<line x1="273" y1="1089.5" x2="1810" y2="1089.5" stroke="#000" stroke-width="1" stroke-dasharray="1 4" shape-rendering="crispEdges"/>
<line x1="260" y1="1089.5" x2="269" y2="1089.5" stroke="#000" stroke-width="1" shape-rendering="crispEdges"/>
<line x1="1802" y1="1089.5" x2="1811" y2="1089.5" stroke="#000" stroke-width="1" shape-rendering="crispEdges"/>
<line x1="273" y1="1092.5" x2="1810" y2="1092.5" stroke="#000" stroke-width="1" stroke-dasharray="1 4" shape-rendering="crispEdges"/>
<line x1="260" y1="1092.5" x2="269" y2="1092.5" stroke="#000" stroke-width="1" shape-rendering="crispEdges"/>
<line x1="1802" y1="1092.5" x2="1811" y2="1092.5" stroke="#000" stroke-width="1" shape-rendering="crispEdges"/>
<line x1="273" y1="1095.5" x2="1810" y2="1095.5" stroke="#000" stroke-width="1" stroke-dasharray="1 4" shape-rendering="crispEdges"/>
<line x1="260" y1="1095.5" x2="269" y2="1095.5" stroke="#000" stroke-width="1" shape-rendering="crispEdges"/>
<line x1="1802" y1="1095.5" x2="1811" y2="1095.5" stroke="#000" stroke-width="1" shape-rendering="crispEdges"/>
<line x1="273" y1="1097.5" x2="1810" y2="1097.5" stroke="#000" stroke-width="1" stroke-dasharray="1 4" shape-rendering="crispEdges"/>
<line x1="260" y1="1097.5" x2="276" y2="1097.5" stroke="#000" stroke-width="1" shape-rendering="crispEdges"/>
<line x1="1795" y1="1097.5" x2="1811" y2="1097.5" stroke="#000" stroke-width="1" shape-rendering="crispEdges"/>
<line x1="273" y1="1113.5" x2="1810" y2="1113.5" stroke="#000" stroke-width="1" stroke-dasharray="1 4" shape-rendering="crispEdges"/>
<line x1="260" y1="1113.5" x2="269" y2="1113.5" stroke="#000" stroke-width="1" shape-rendering="crispEdges"/>
<line x1="1802" y1="1113.5" x2="1811" y2="1113.5" stroke="#000" stroke-width="1" shape-rendering="crispEdges"/>
<line x1="440.5" y1="972" x2="440.5" y2="1122" stroke="#000" stroke-width="1" stroke-dasharray="1 4" shape-rendering="crispEdges"/>
<line x1="440.5" y1="969" x2="440.5" y2="985" stroke="#000" stroke-width="1" shape-rendering="crispEdges"/>
<line x1="440.5" y1="1106" x2="440.5" y2="1122" stroke="#000" stroke-width="1" shape-rendering="crispEdges"/>
<line x1="724.5" y1="972" x2="724.5" y2="1122" stroke="#000" stroke-width="1" stroke-dasharray="1 4" shape-rendering="crispEdges"/>
<line x1="724.5" y1="969" x2="724.5" y2="985" stroke="#000" stroke-width="1" shape-rendering="crispEdges"/>
<line x1="724.5" y1="1106" x2="724.5" y2="1122" stroke="#000" stroke-width="1" shape-rendering="crispEdges"/>
<line x1="904.5" y1="972" x2="904.5" y2="1122" stroke="#000" stroke-width="1" stroke-dasharray="1 4" shape-rendering="crispEdges"/>
<line x1="904.5" y1="969" x2="904.5" y2="985" stroke="#000" stroke-width="1" shape-rendering="crispEdges"/>
<line x1="904.5" y1="1106" x2="904.5" y2="1122" stroke="#000" stroke-width="1" shape-rendering="crispEdges"/>
<line x1="1085.5" y1="972" x2="1085.5" y2="1122" stroke="#000" stroke-width="1" stroke-dasharray="1 4" shape-rendering="crispEdges"/>
<line x1="1085.5" y1="969" x2="1085.5" y2="985" stroke="#000" stroke-width="1" shape-rendering="crispEdges"/>
<line x1="1085.5" y1="1106" x2="1085.5" y2="1122" stroke="#000" stroke-width="1" shape-rendering="crispEdges"/>
<line x1="1266.5" y1="972" x2="1266.5" y2="1122" stroke="#000" stroke-width="1" stroke-dasharray="1 4" shape-rendering="crispEdges"/>
<line x1="1266.5" y1="969" x2="1266.5" y2="985" stroke="#000" stroke-width="1" shape-rendering="crispEdges"/>
<line x1="1266.5" y1="1106" x2="1266.5" y2="1122" stroke="#000" stroke-width="1" shape-rendering="crispEdges"/>
<line x1="1447.5" y1="972" x2="1447.5" y2="1122" stroke="#000" stroke-width="1" stroke-dasharray="1 4" shape-rendering="crispEdges"/>
<line x1="1447.5" y1="969" x2="1447.5" y2="985" stroke="#000" stroke-width="1" shape-rendering="crispEdges"/>
<line x1="1447.5" y1="1106" x2="1447.5" y2="1122" stroke="#000" stroke-width="1" shape-rendering="crispEdges"/>
<line x1="1628.5" y1="972" x2="1628.5" y2="1122" stroke="#000" stroke-width="1" stroke-dasharray="1 4" shape-rendering="crispEdges"/>
<line x1="1628.5" y1="969" x2="1628.5" y2="985" stroke="#000" stroke-width="1" shape-rendering="crispEdges"/>
<line x1="1628.5" y1="1106" x2="1628.5" y2="1122" stroke="#000" stroke-width="1" shape-rendering="crispEdges"/>
<rect x="830" y="970" width="690" height="152" fill="#0508b8"/>
<filter id="spk" color-interpolation-filters="sRGB" x="0" y="0" width="100%" height="100%" filterUnits="objectBoundingBox"><feTurbulence type="fractalNoise" baseFrequency="0.7 0.35" numOctaves="2" seed="5" result="n"/><feColorMatrix in="n" type="matrix" values="0 0 0 0 0.12  0 0 0 0 0.25  0 0 0 0 1  4 0 0 0 -2.3"/></filter>
<rect x="830" y="970" width="690" height="152" fill="#fff" filter="url(#spk)"/>
<rect x="836" y="1029" width="1" height="93" fill="#0000ff" opacity="0.55"/>
<rect x="838" y="983" width="1" height="139" fill="#0000f0" opacity="0.55"/>
<rect x="841" y="1057" width="1" height="65" fill="#0022ff" opacity="0.55"/>
<rect x="844" y="1020" width="1" height="102" fill="#0000dc" opacity="0.55"/>
<rect x="845" y="996" width="1" height="126" fill="#0000e8" opacity="0.55"/>
<rect x="846" y="1012" width="1" height="110" fill="#0000fc" opacity="0.55"/>
<rect x="853" y="1060" width="1" height="62" fill="#0023ff" opacity="0.55"/>
<rect x="856" y="1000" width="1" height="122" fill="#0000eb" opacity="0.55"/>
<rect x="857" y="1009" width="1" height="113" fill="#0013ff" opacity="0.55"/>
<rect x="862" y="1052" width="1" height="70" fill="#0000ea" opacity="0.55"/>
<rect x="866" y="1041" width="1" height="81" fill="#0009ff" opacity="0.55"/>
<rect x="867" y="1003" width="1" height="119" fill="#0000e1" opacity="0.55"/>
<rect x="870" y="984" width="1" height="138" fill="#0000ec" opacity="0.55"/>
<rect x="871" y="990" width="1" height="132" fill="#0015ff" opacity="0.55"/>
<rect x="874" y="986" width="1" height="136" fill="#0010ff" opacity="0.55"/>
<rect x="876" y="993" width="1" height="129" fill="#0000f9" opacity="0.55"/>
<rect x="877" y="1043" width="1" height="79" fill="#0021ff" opacity="0.55"/>
<rect x="878" y="993" width="1" height="129" fill="#001bff" opacity="0.55"/>
<rect x="882" y="993" width="1" height="129" fill="#0022ff" opacity="0.55"/>
<rect x="883" y="1003" width="1" height="119" fill="#0013ff" opacity="0.55"/>
<rect x="884" y="983" width="1" height="139" fill="#0000e0" opacity="0.55"/>
<rect x="886" y="1007" width="1" height="115" fill="#0007ff" opacity="0.55"/>
<rect x="892" y="1052" width="1" height="70" fill="#0000e6" opacity="0.55"/>
<rect x="894" y="1038" width="1" height="84" fill="#0000e8" opacity="0.55"/>
<rect x="896" y="1050" width="1" height="72" fill="#0020ff" opacity="0.55"/>
<rect x="899" y="1057" width="1" height="65" fill="#0000de" opacity="0.55"/>
<rect x="900" y="997" width="1" height="125" fill="#000eff" opacity="0.55"/>
<rect x="903" y="1036" width="1" height="86" fill="#0000e7" opacity="0.55"/>
<rect x="904" y="1023" width="1" height="99" fill="#0000eb" opacity="0.55"/>
<rect x="907" y="992" width="1" height="130" fill="#001dff" opacity="0.55"/>
<rect x="908" y="1013" width="1" height="109" fill="#0000ee" opacity="0.55"/>
<rect x="909" y="1006" width="1" height="116" fill="#0000e7" opacity="0.55"/>
<rect x="911" y="1051" width="1" height="71" fill="#0000f5" opacity="0.55"/>
<rect x="916" y="977" width="1" height="145" fill="#0000dd" opacity="0.55"/>
<rect x="920" y="1016" width="1" height="106" fill="#0009ff" opacity="0.55"/>
<rect x="922" y="981" width="1" height="141" fill="#0023ff" opacity="0.55"/>
<rect x="942" y="1059" width="1" height="63" fill="#0009ff" opacity="0.55"/>
<rect x="950" y="978" width="1" height="144" fill="#0011ff" opacity="0.55"/>
<rect x="953" y="1017" width="1" height="105" fill="#000eff" opacity="0.55"/>
<rect x="956" y="1001" width="1" height="121" fill="#0000dc" opacity="0.55"/>
<rect x="958" y="1052" width="1" height="70" fill="#0000e7" opacity="0.55"/>
<rect x="962" y="992" width="1" height="130" fill="#000bff" opacity="0.55"/>
<rect x="969" y="1017" width="1" height="105" fill="#0000e5" opacity="0.55"/>
<rect x="974" y="1013" width="1" height="109" fill="#0000e7" opacity="0.55"/>
<rect x="975" y="1010" width="1" height="112" fill="#0000ea" opacity="0.55"/>
<rect x="978" y="1058" width="1" height="64" fill="#0018ff" opacity="0.55"/>
<rect x="980" y="1049" width="1" height="73" fill="#0000dd" opacity="0.55"/>
<rect x="981" y="1023" width="1" height="99" fill="#000eff" opacity="0.55"/>
<rect x="982" y="977" width="1" height="145" fill="#0014ff" opacity="0.55"/>
<rect x="983" y="977" width="1" height="145" fill="#0000fb" opacity="0.55"/>
<rect x="985" y="979" width="1" height="143" fill="#0000e5" opacity="0.55"/>
<rect x="993" y="990" width="1" height="132" fill="#0000fd" opacity="0.55"/>
<rect x="994" y="1036" width="1" height="86" fill="#0000fd" opacity="0.55"/>
<rect x="995" y="1004" width="1" height="118" fill="#0000ee" opacity="0.55"/>
<rect x="1003" y="1036" width="1" height="86" fill="#001eff" opacity="0.55"/>
<rect x="1004" y="1028" width="1" height="94" fill="#0000fb" opacity="0.55"/>
<rect x="1013" y="1045" width="1" height="77" fill="#000fff" opacity="0.55"/>
<rect x="1016" y="1058" width="1" height="64" fill="#001cff" opacity="0.55"/>
<rect x="1020" y="1048" width="1" height="74" fill="#001dff" opacity="0.55"/>
<rect x="1021" y="1012" width="1" height="110" fill="#0000e1" opacity="0.55"/>
<rect x="1025" y="980" width="1" height="142" fill="#0016ff" opacity="0.55"/>
<rect x="1027" y="1042" width="1" height="80" fill="#0000f3" opacity="0.55"/>
<rect x="1028" y="1019" width="1" height="103" fill="#0000e5" opacity="0.55"/>
<rect x="1035" y="1020" width="1" height="102" fill="#0000eb" opacity="0.55"/>
<rect x="1036" y="1029" width="1" height="93" fill="#0010ff" opacity="0.55"/>
<rect x="1040" y="1047" width="1" height="75" fill="#0000f6" opacity="0.55"/>
<rect x="1042" y="1057" width="1" height="65" fill="#0019ff" opacity="0.55"/>
<rect x="1045" y="1018" width="1" height="104" fill="#0002ff" opacity="0.55"/>
<rect x="1047" y="1019" width="1" height="103" fill="#0021ff" opacity="0.55"/>
<rect x="1053" y="1010" width="1" height="112" fill="#0002ff" opacity="0.55"/>
<rect x="1056" y="986" width="1" height="136" fill="#0000fd" opacity="0.55"/>
<rect x="1061" y="1028" width="1" height="94" fill="#0000e8" opacity="0.55"/>
<rect x="1063" y="977" width="1" height="145" fill="#0013ff" opacity="0.55"/>
<rect x="1064" y="1033" width="1" height="89" fill="#0000eb" opacity="0.55"/>
<rect x="1065" y="1028" width="1" height="94" fill="#0000f4" opacity="0.55"/>
<rect x="1066" y="985" width="1" height="137" fill="#0010ff" opacity="0.55"/>
<rect x="1068" y="1020" width="1" height="102" fill="#0000e9" opacity="0.55"/>
<rect x="1073" y="1029" width="1" height="93" fill="#0000e9" opacity="0.55"/>
<rect x="1079" y="1044" width="1" height="78" fill="#0011ff" opacity="0.55"/>
<rect x="1081" y="1053" width="1" height="69" fill="#0000f1" opacity="0.55"/>
<rect x="1082" y="1050" width="1" height="72" fill="#0023ff" opacity="0.55"/>
<rect x="1083" y="1037" width="1" height="85" fill="#0000ec" opacity="0.55"/>
<rect x="1084" y="1046" width="1" height="76" fill="#0000e2" opacity="0.55"/>
<rect x="1087" y="1033" width="1" height="89" fill="#0000f8" opacity="0.55"/>
<rect x="1088" y="1033" width="1" height="89" fill="#0000e9" opacity="0.55"/>
<rect x="1091" y="1039" width="1" height="83" fill="#0000ff" opacity="0.55"/>
<rect x="1094" y="984" width="1" height="138" fill="#0000e0" opacity="0.55"/>
<rect x="1095" y="1019" width="1" height="103" fill="#0003ff" opacity="0.55"/>
<rect x="1097" y="992" width="1" height="130" fill="#0000e8" opacity="0.55"/>
<rect x="1101" y="1056" width="1" height="66" fill="#0000df" opacity="0.55"/>
<rect x="1104" y="1019" width="1" height="103" fill="#0000fc" opacity="0.55"/>
<rect x="1107" y="1047" width="1" height="75" fill="#000eff" opacity="0.55"/>
<rect x="1108" y="1038" width="1" height="84" fill="#0000fb" opacity="0.55"/>
<rect x="1110" y="1019" width="1" height="103" fill="#0000e7" opacity="0.55"/>
<rect x="1111" y="1043" width="1" height="79" fill="#001cff" opacity="0.55"/>
<rect x="1120" y="1038" width="1" height="84" fill="#001dff" opacity="0.55"/>
<rect x="1131" y="1015" width="1" height="107" fill="#0000f3" opacity="0.55"/>
<rect x="1132" y="1029" width="1" height="93" fill="#0000f4" opacity="0.55"/>
<rect x="1134" y="1032" width="1" height="90" fill="#001fff" opacity="0.55"/>
<rect x="1135" y="1023" width="1" height="99" fill="#000bff" opacity="0.55"/>
<rect x="1143" y="1038" width="1" height="84" fill="#0008ff" opacity="0.55"/>
<rect x="1144" y="979" width="1" height="143" fill="#0000f7" opacity="0.55"/>
<rect x="1145" y="983" width="1" height="139" fill="#0000f6" opacity="0.55"/>
<rect x="1146" y="1022" width="1" height="100" fill="#001cff" opacity="0.55"/>
<rect x="1153" y="1040" width="1" height="82" fill="#0006ff" opacity="0.55"/>
<rect x="1154" y="989" width="1" height="133" fill="#001eff" opacity="0.55"/>
<rect x="1156" y="1027" width="1" height="95" fill="#0000fe" opacity="0.55"/>
<rect x="1157" y="1011" width="1" height="111" fill="#001fff" opacity="0.55"/>
<rect x="1161" y="1023" width="1" height="99" fill="#000bff" opacity="0.55"/>
<rect x="1162" y="1000" width="1" height="122" fill="#000fff" opacity="0.55"/>
<rect x="1163" y="979" width="1" height="143" fill="#0000ec" opacity="0.55"/>
<rect x="1164" y="1008" width="1" height="114" fill="#0012ff" opacity="0.55"/>
<rect x="1167" y="1055" width="1" height="67" fill="#0022ff" opacity="0.55"/>
<rect x="1168" y="1012" width="1" height="110" fill="#001cff" opacity="0.55"/>
<rect x="1171" y="1055" width="1" height="67" fill="#0001ff" opacity="0.55"/>
<rect x="1177" y="1014" width="1" height="108" fill="#0008ff" opacity="0.55"/>
<rect x="1178" y="1020" width="1" height="102" fill="#0000df" opacity="0.55"/>
<rect x="1179" y="1032" width="1" height="90" fill="#0000fa" opacity="0.55"/>
<rect x="1181" y="1011" width="1" height="111" fill="#0005ff" opacity="0.55"/>
<rect x="1187" y="1051" width="1" height="71" fill="#0000e3" opacity="0.55"/>
<rect x="1191" y="1023" width="1" height="99" fill="#000dff" opacity="0.55"/>
<rect x="1195" y="1058" width="1" height="64" fill="#0000ed" opacity="0.55"/>
<rect x="1198" y="998" width="1" height="124" fill="#0000df" opacity="0.55"/>
<rect x="1201" y="981" width="1" height="141" fill="#0002ff" opacity="0.55"/>
<rect x="1202" y="1022" width="1" height="100" fill="#000cff" opacity="0.55"/>
<rect x="1206" y="1038" width="1" height="84" fill="#0000f3" opacity="0.55"/>
<rect x="1208" y="1044" width="1" height="78" fill="#0000e3" opacity="0.55"/>
<rect x="1211" y="997" width="1" height="125" fill="#0000f9" opacity="0.55"/>
<rect x="1216" y="1038" width="1" height="84" fill="#0003ff" opacity="0.55"/>
<rect x="1220" y="982" width="1" height="140" fill="#001aff" opacity="0.55"/>
<rect x="1221" y="1016" width="1" height="106" fill="#0004ff" opacity="0.55"/>
<rect x="1223" y="981" width="1" height="141" fill="#0013ff" opacity="0.55"/>
<rect x="1224" y="982" width="1" height="140" fill="#000bff" opacity="0.55"/>
<rect x="1225" y="1034" width="1" height="88" fill="#0010ff" opacity="0.55"/>
<rect x="1226" y="1005" width="1" height="117" fill="#0000e5" opacity="0.55"/>
<rect x="1229" y="1023" width="1" height="99" fill="#000eff" opacity="0.55"/>
<rect x="1235" y="1009" width="1" height="113" fill="#0000f1" opacity="0.55"/>
<rect x="1238" y="1006" width="1" height="116" fill="#0000f5" opacity="0.55"/>
<rect x="1242" y="1043" width="1" height="79" fill="#0004ff" opacity="0.55"/>
<rect x="1246" y="1050" width="1" height="72" fill="#0012ff" opacity="0.55"/>
<rect x="1247" y="1019" width="1" height="103" fill="#0000dc" opacity="0.55"/>
<rect x="1253" y="1042" width="1" height="80" fill="#0003ff" opacity="0.55"/>
<rect x="1254" y="1038" width="1" height="84" fill="#0000e1" opacity="0.55"/>
<rect x="1256" y="987" width="1" height="135" fill="#0009ff" opacity="0.55"/>
<rect x="1259" y="1040" width="1" height="82" fill="#0000eb" opacity="0.55"/>
<rect x="1263" y="1032" width="1" height="90" fill="#0021ff" opacity="0.55"/>
<rect x="1283" y="1059" width="1" height="63" fill="#0011ff" opacity="0.55"/>
<rect x="1285" y="1011" width="1" height="111" fill="#0000e9" opacity="0.55"/>
<rect x="1286" y="980" width="1" height="142" fill="#0021ff" opacity="0.55"/>
<rect x="1287" y="1030" width="1" height="92" fill="#0000e3" opacity="0.55"/>
<rect x="1289" y="1014" width="1" height="108" fill="#0000df" opacity="0.55"/>
<rect x="1292" y="991" width="1" height="131" fill="#0000e3" opacity="0.55"/>
<rect x="1293" y="1036" width="1" height="86" fill="#0000ec" opacity="0.55"/>
<rect x="1295" y="999" width="1" height="123" fill="#0000e8" opacity="0.55"/>
<rect x="1296" y="1001" width="1" height="121" fill="#0012ff" opacity="0.55"/>
<rect x="1300" y="1053" width="1" height="69" fill="#001bff" opacity="0.55"/>
<rect x="1301" y="1056" width="1" height="66" fill="#0003ff" opacity="0.55"/>
<rect x="1303" y="1056" width="1" height="66" fill="#0000de" opacity="0.55"/>
<rect x="1308" y="1031" width="1" height="91" fill="#0023ff" opacity="0.55"/>
<rect x="1309" y="1015" width="1" height="107" fill="#0000dc" opacity="0.55"/>
<rect x="1314" y="1002" width="1" height="120" fill="#0000e6" opacity="0.55"/>
<rect x="1315" y="1019" width="1" height="103" fill="#001aff" opacity="0.55"/>
<rect x="1318" y="988" width="1" height="134" fill="#0002ff" opacity="0.55"/>
<rect x="1320" y="1047" width="1" height="75" fill="#0016ff" opacity="0.55"/>
<rect x="1322" y="1036" width="1" height="86" fill="#0000ee" opacity="0.55"/>
<rect x="1323" y="1015" width="1" height="107" fill="#0000fd" opacity="0.55"/>
<rect x="1327" y="1010" width="1" height="112" fill="#0014ff" opacity="0.55"/>
<rect x="1329" y="993" width="1" height="129" fill="#0017ff" opacity="0.55"/>
<rect x="1332" y="1001" width="1" height="121" fill="#0017ff" opacity="0.55"/>
<rect x="1333" y="1001" width="1" height="121" fill="#0000e0" opacity="0.55"/>
<rect x="1338" y="1014" width="1" height="108" fill="#0000f7" opacity="0.55"/>
<rect x="1342" y="1035" width="1" height="87" fill="#0000f6" opacity="0.55"/>
<rect x="1343" y="1014" width="1" height="108" fill="#0004ff" opacity="0.55"/>
<rect x="1344" y="1043" width="1" height="79" fill="#0023ff" opacity="0.55"/>
<rect x="1345" y="1000" width="1" height="122" fill="#0008ff" opacity="0.55"/>
<rect x="1348" y="1008" width="1" height="114" fill="#0000f3" opacity="0.55"/>
<rect x="1350" y="1037" width="1" height="85" fill="#0000e9" opacity="0.55"/>
<rect x="1351" y="1023" width="1" height="99" fill="#001fff" opacity="0.55"/>
<rect x="1353" y="983" width="1" height="139" fill="#0017ff" opacity="0.55"/>
<rect x="1354" y="1033" width="1" height="89" fill="#0000e2" opacity="0.55"/>
<rect x="1356" y="1046" width="1" height="76" fill="#0000f8" opacity="0.55"/>
<rect x="1358" y="988" width="1" height="134" fill="#0000eb" opacity="0.55"/>
<rect x="1359" y="981" width="1" height="141" fill="#0000f8" opacity="0.55"/>
<rect x="1367" y="976" width="1" height="146" fill="#0000f8" opacity="0.55"/>
<rect x="1374" y="1004" width="1" height="118" fill="#0000f2" opacity="0.55"/>
<rect x="1376" y="1018" width="1" height="104" fill="#0000f6" opacity="0.55"/>
<rect x="1380" y="1052" width="1" height="70" fill="#0013ff" opacity="0.55"/>
<rect x="1384" y="1059" width="1" height="63" fill="#000fff" opacity="0.55"/>
<rect x="1388" y="1028" width="1" height="94" fill="#001fff" opacity="0.55"/>
<rect x="1389" y="996" width="1" height="126" fill="#0000e1" opacity="0.55"/>
<rect x="1392" y="1006" width="1" height="116" fill="#001eff" opacity="0.55"/>
<rect x="1394" y="987" width="1" height="135" fill="#0021ff" opacity="0.55"/>
<rect x="1399" y="1059" width="1" height="63" fill="#001dff" opacity="0.55"/>
<rect x="1402" y="1000" width="1" height="122" fill="#0017ff" opacity="0.55"/>
<rect x="1404" y="1046" width="1" height="76" fill="#0005ff" opacity="0.55"/>
<rect x="1405" y="981" width="1" height="141" fill="#0003ff" opacity="0.55"/>
<rect x="1406" y="1059" width="1" height="63" fill="#0000e8" opacity="0.55"/>
<rect x="1409" y="1038" width="1" height="84" fill="#000cff" opacity="0.55"/>
<rect x="1413" y="1015" width="1" height="107" fill="#0000e9" opacity="0.55"/>
<rect x="1414" y="1023" width="1" height="99" fill="#0000f6" opacity="0.55"/>
<rect x="1415" y="997" width="1" height="125" fill="#0001ff" opacity="0.55"/>
<rect x="1417" y="978" width="1" height="144" fill="#000aff" opacity="0.55"/>
<rect x="1419" y="1026" width="1" height="96" fill="#0020ff" opacity="0.55"/>
<rect x="1438" y="1037" width="1" height="85" fill="#0000df" opacity="0.55"/>
<rect x="1443" y="981" width="1" height="141" fill="#0006ff" opacity="0.55"/>
<rect x="1444" y="1018" width="1" height="104" fill="#0000fb" opacity="0.55"/>
<rect x="1446" y="1020" width="1" height="102" fill="#000dff" opacity="0.55"/>
<rect x="1447" y="1009" width="1" height="113" fill="#0000f1" opacity="0.55"/>
<rect x="1448" y="1052" width="1" height="70" fill="#0000e0" opacity="0.55"/>
<rect x="1454" y="1023" width="1" height="99" fill="#0011ff" opacity="0.55"/>
<rect x="1456" y="986" width="1" height="136" fill="#0014ff" opacity="0.55"/>
<rect x="1459" y="1000" width="1" height="122" fill="#0000ec" opacity="0.55"/>
<rect x="1460" y="1051" width="1" height="71" fill="#0000df" opacity="0.55"/>
<rect x="1465" y="1051" width="1" height="71" fill="#0000dd" opacity="0.55"/>
<rect x="1466" y="1054" width="1" height="68" fill="#0000fe" opacity="0.55"/>
<rect x="1469" y="1053" width="1" height="69" fill="#0000f0" opacity="0.55"/>
<rect x="1471" y="1005" width="1" height="117" fill="#0018ff" opacity="0.55"/>
<rect x="1473" y="1060" width="1" height="62" fill="#001bff" opacity="0.55"/>
<rect x="1474" y="991" width="1" height="131" fill="#0009ff" opacity="0.55"/>
<rect x="1476" y="1037" width="1" height="85" fill="#0000e2" opacity="0.55"/>
<rect x="1477" y="1049" width="1" height="73" fill="#001cff" opacity="0.55"/>
<rect x="1479" y="1055" width="1" height="67" fill="#000dff" opacity="0.55"/>
<rect x="1481" y="1001" width="1" height="121" fill="#0000eb" opacity="0.55"/>
<rect x="1483" y="995" width="1" height="127" fill="#0000e8" opacity="0.55"/>
<rect x="1490" y="1054" width="1" height="68" fill="#0000f0" opacity="0.55"/>
<rect x="1492" y="983" width="1" height="139" fill="#0009ff" opacity="0.55"/>
<rect x="1497" y="999" width="1" height="123" fill="#0007ff" opacity="0.55"/>
<rect x="1498" y="982" width="1" height="140" fill="#0015ff" opacity="0.55"/>
<rect x="1499" y="996" width="1" height="126" fill="#0012ff" opacity="0.55"/>
<rect x="1500" y="991" width="1" height="131" fill="#0003ff" opacity="0.55"/>
<rect x="1503" y="1039" width="1" height="83" fill="#0000fc" opacity="0.55"/>
<rect x="1507" y="1030" width="1" height="92" fill="#0003ff" opacity="0.55"/>
<rect x="1517" y="989" width="1" height="133" fill="#0013ff" opacity="0.55"/>
<rect x="1519" y="1041" width="1" height="81" fill="#0000fa" opacity="0.55"/>
<rect x="830" y="970" width="690" height="12" fill="#0610a8" opacity="0.5"/>
<rect x="896" y="998" width="134" height="1" fill="#3a6cff" opacity="0.45" stroke-dasharray="2 2"/>
<rect x="1030" y="983" width="80" height="1" fill="#3a6cff" opacity="0.45" stroke-dasharray="2 2"/>
<rect x="1250" y="999" width="270" height="1" fill="#3a6cff" opacity="0.45" stroke-dasharray="2 2"/>
<rect x="1375" y="1041" width="145" height="1" fill="#3a6cff" opacity="0.45" stroke-dasharray="2 2"/>
<rect x="896" y="1039" width="14" height="1" fill="#3a6cff" opacity="0.45" stroke-dasharray="2 2"/>
<rect x="832" y="1097" width="1" height="25" fill="#0059ff"/>
<rect x="835" y="1088" width="1" height="34" fill="#006cff"/>
<rect x="837" y="1097" width="1" height="25" fill="#001fff"/>
<rect x="841" y="1097" width="1" height="25" fill="#008fff"/>
<rect x="846" y="1097" width="1" height="25" fill="#001eff"/>
<rect x="847" y="1097" width="1" height="25" fill="#003bff"/>
<rect x="849" y="1097" width="1" height="25" fill="#006bff"/>
<rect x="851" y="1097" width="1" height="25" fill="#0031ff"/>
<rect x="855" y="1097" width="1" height="25" fill="#004cff"/>
<rect x="856" y="1097" width="1" height="25" fill="#00adff"/>
<rect x="860" y="1076" width="1" height="46" fill="#0054ff"/>
<rect x="861" y="1097" width="1" height="25" fill="#009fff"/>
<rect x="863" y="1097" width="1" height="25" fill="#004eff"/>
<rect x="864" y="1091" width="1" height="31" fill="#00b1ff"/>
<rect x="865" y="1097" width="1" height="25" fill="#0031ff"/>
<rect x="866" y="1083" width="1" height="39" fill="#0055ff"/>
<rect x="867" y="1097" width="1" height="25" fill="#00afff"/>
<rect x="868" y="1097" width="1" height="25" fill="#004aff"/>
<rect x="869" y="1097" width="1" height="25" fill="#0040ff"/>
<rect x="878" y="1097" width="1" height="25" fill="#0041ff"/>
<rect x="880" y="1097" width="1" height="25" fill="#0028ff"/>
<rect x="882" y="1090" width="1" height="32" fill="#0052ff"/>
<rect x="884" y="1097" width="1" height="25" fill="#0047ff"/>
<rect x="886" y="1097" width="1" height="25" fill="#0034ff"/>
<rect x="887" y="1097" width="1" height="25" fill="#0032ff"/>
<rect x="890" y="1097" width="1" height="25" fill="#0043ff"/>
<rect x="892" y="1095" width="1" height="27" fill="#0089ff"/>
<rect x="893" y="1097" width="1" height="25" fill="#003cff"/>
<rect x="894" y="1097" width="1" height="25" fill="#009eff"/>
<rect x="897" y="1097" width="1" height="25" fill="#0049ff"/>
<rect x="898" y="1097" width="1" height="25" fill="#001fff"/>
<rect x="899" y="1097" width="1" height="25" fill="#003bff"/>
<rect x="901" y="1097" width="1" height="25" fill="#007fff"/>
<rect x="904" y="1097" width="1" height="25" fill="#0028ff"/>
<rect x="909" y="1097" width="1" height="25" fill="#0037ff"/>
<rect x="910" y="1097" width="1" height="25" fill="#000cff"/>
<rect x="915" y="1080" width="1" height="42" fill="#0079ff"/>
<rect x="920" y="1097" width="1" height="25" fill="#0072ff"/>
<rect x="923" y="1097" width="1" height="25" fill="#0047ff"/>
<rect x="925" y="1097" width="1" height="25" fill="#0020ff"/>
<rect x="927" y="1097" width="1" height="25" fill="#0078ff"/>
<rect x="928" y="1097" width="1" height="25" fill="#0040ff"/>
<rect x="929" y="1087" width="1" height="35" fill="#006aff"/>
<rect x="931" y="1097" width="1" height="25" fill="#0048ff"/>
<rect x="932" y="1097" width="1" height="25" fill="#004bff"/>
<rect x="936" y="1097" width="1" height="25" fill="#0031ff"/>
<rect x="937" y="1097" width="1" height="25" fill="#009fff"/>
<rect x="938" y="1097" width="1" height="25" fill="#0078ff"/>
<rect x="942" y="1092" width="1" height="30" fill="#0069ff"/>
<rect x="947" y="1083" width="1" height="39" fill="#0094ff"/>
<rect x="949" y="1097" width="1" height="25" fill="#001cff"/>
<rect x="950" y="1078" width="1" height="44" fill="#0043ff"/>
<rect x="951" y="1097" width="1" height="25" fill="#002cff"/>
<rect x="952" y="1097" width="1" height="25" fill="#0005ff"/>
<rect x="954" y="1097" width="1" height="25" fill="#005aff"/>
<rect x="960" y="1082" width="1" height="40" fill="#0041ff"/>
<rect x="966" y="1097" width="1" height="25" fill="#0070ff"/>
<rect x="968" y="1087" width="1" height="35" fill="#0036ff"/>
<rect x="969" y="1097" width="1" height="25" fill="#0030ff"/>
<rect x="970" y="1097" width="1" height="25" fill="#005eff"/>
<rect x="971" y="1097" width="1" height="25" fill="#0011ff"/>
<rect x="973" y="1086" width="1" height="36" fill="#0053ff"/>
<rect x="974" y="1076" width="1" height="46" fill="#009bff"/>
<rect x="975" y="1084" width="1" height="38" fill="#005dff"/>
<rect x="977" y="1097" width="1" height="25" fill="#0081ff"/>
<rect x="978" y="1093" width="1" height="29" fill="#0088ff"/>
<rect x="985" y="1097" width="1" height="25" fill="#0046ff"/>
<rect x="986" y="1097" width="1" height="25" fill="#0025ff"/>
<rect x="990" y="1097" width="1" height="25" fill="#007cff"/>
<rect x="995" y="1097" width="1" height="25" fill="#0080ff"/>
<rect x="996" y="1097" width="1" height="25" fill="#0036ff"/>
<rect x="997" y="1097" width="1" height="25" fill="#003eff"/>
<rect x="1000" y="1093" width="1" height="29" fill="#003aff"/>
<rect x="1001" y="1097" width="1" height="25" fill="#0049ff"/>
<rect x="1004" y="1097" width="1" height="25" fill="#007dff"/>
<rect x="1006" y="1097" width="1" height="25" fill="#0023ff"/>
<rect x="1008" y="1097" width="1" height="25" fill="#0059ff"/>
<rect x="1009" y="1097" width="1" height="25" fill="#0008ff"/>
<rect x="1010" y="1097" width="1" height="25" fill="#0071ff"/>
<rect x="1011" y="1097" width="1" height="25" fill="#0058ff"/>
<rect x="1012" y="1097" width="1" height="25" fill="#000dff"/>
<rect x="1014" y="1097" width="1" height="25" fill="#0012ff"/>
<rect x="1015" y="1097" width="1" height="25" fill="#00b2ff"/>
<rect x="1017" y="1084" width="1" height="38" fill="#004cff"/>
<rect x="1018" y="1097" width="1" height="25" fill="#0064ff"/>
<rect x="1020" y="1097" width="1" height="25" fill="#00a7ff"/>
<rect x="1021" y="1079" width="1" height="43" fill="#0095ff"/>
<rect x="1022" y="1097" width="1" height="25" fill="#0022ff"/>
<rect x="1023" y="1082" width="1" height="40" fill="#0043ff"/>
<rect x="1025" y="1075" width="1" height="47" fill="#0029ff"/>
<rect x="1030" y="1092" width="1" height="30" fill="#0090ff"/>
<rect x="1032" y="1097" width="1" height="25" fill="#00a9ff"/>
<rect x="1034" y="1097" width="1" height="25" fill="#00a2ff"/>
<rect x="1036" y="1097" width="1" height="25" fill="#0048ff"/>
<rect x="1039" y="1097" width="1" height="25" fill="#0073ff"/>
<rect x="1040" y="1097" width="1" height="25" fill="#00a2ff"/>
<rect x="1041" y="1080" width="1" height="42" fill="#003fff"/>
<rect x="1045" y="1097" width="1" height="25" fill="#0017ff"/>
<rect x="1046" y="1097" width="1" height="25" fill="#004fff"/>
<rect x="1048" y="1097" width="1" height="25" fill="#003cff"/>
<rect x="1050" y="1097" width="1" height="25" fill="#009dff"/>
<rect x="1052" y="1097" width="1" height="25" fill="#00b0ff"/>
<rect x="1054" y="1079" width="1" height="43" fill="#004bff"/>
<rect x="1055" y="1082" width="1" height="40" fill="#007aff"/>
<rect x="1056" y="1078" width="1" height="44" fill="#0043ff"/>
<rect x="1058" y="1097" width="1" height="25" fill="#0074ff"/>
<rect x="1065" y="1097" width="1" height="25" fill="#0096ff"/>
<rect x="1066" y="1097" width="1" height="25" fill="#0078ff"/>
<rect x="1067" y="1097" width="1" height="25" fill="#002cff"/>
<rect x="1070" y="1097" width="1" height="25" fill="#0071ff"/>
<rect x="1074" y="1091" width="1" height="31" fill="#0056ff"/>
<rect x="1075" y="1084" width="1" height="38" fill="#0084ff"/>
<rect x="1077" y="1097" width="1" height="25" fill="#00b0ff"/>
<rect x="1078" y="1097" width="1" height="25" fill="#0096ff"/>
<rect x="1084" y="1081" width="1" height="41" fill="#009bff"/>
<rect x="1086" y="1079" width="1" height="43" fill="#0062ff"/>
<rect x="1087" y="1097" width="1" height="25" fill="#0074ff"/>
<rect x="1090" y="1094" width="1" height="28" fill="#002fff"/>
<rect x="1095" y="1097" width="1" height="25" fill="#0044ff"/>
<rect x="1096" y="1093" width="1" height="29" fill="#0041ff"/>
<rect x="1097" y="1097" width="1" height="25" fill="#0024ff"/>
<rect x="1101" y="1097" width="1" height="25" fill="#00b0ff"/>
<rect x="1105" y="1097" width="1" height="25" fill="#0079ff"/>
<rect x="1106" y="1097" width="1" height="25" fill="#003fff"/>
<rect x="1108" y="1097" width="1" height="25" fill="#006dff"/>
<rect x="1109" y="1097" width="1" height="25" fill="#001bff"/>
<rect x="1110" y="1097" width="1" height="25" fill="#001bff"/>
<rect x="1113" y="1090" width="1" height="32" fill="#0027ff"/>
<rect x="1115" y="1097" width="1" height="25" fill="#003aff"/>
<rect x="1116" y="1097" width="1" height="25" fill="#0072ff"/>
<rect x="1118" y="1097" width="1" height="25" fill="#0054ff"/>
<rect x="1120" y="1097" width="1" height="25" fill="#007fff"/>
<rect x="1122" y="1097" width="1" height="25" fill="#009cff"/>
<rect x="1125" y="1097" width="1" height="25" fill="#00a7ff"/>
<rect x="1128" y="1097" width="1" height="25" fill="#0010ff"/>
<rect x="1129" y="1081" width="1" height="41" fill="#0051ff"/>
<rect x="1132" y="1097" width="1" height="25" fill="#004cff"/>
<rect x="1134" y="1097" width="1" height="25" fill="#004eff"/>
<rect x="1139" y="1097" width="1" height="25" fill="#00a0ff"/>
<rect x="1140" y="1090" width="1" height="32" fill="#0046ff"/>
<rect x="1141" y="1076" width="1" height="46" fill="#00a0ff"/>
<rect x="1143" y="1097" width="1" height="25" fill="#0043ff"/>
<rect x="1144" y="1097" width="1" height="25" fill="#0079ff"/>
<rect x="1148" y="1097" width="1" height="25" fill="#0094ff"/>
<rect x="1151" y="1097" width="1" height="25" fill="#0055ff"/>
<rect x="1153" y="1097" width="1" height="25" fill="#00b0ff"/>
<rect x="1154" y="1097" width="1" height="25" fill="#001dff"/>
<rect x="1156" y="1097" width="1" height="25" fill="#0022ff"/>
<rect x="1159" y="1092" width="1" height="30" fill="#0091ff"/>
<rect x="1160" y="1097" width="1" height="25" fill="#0056ff"/>
<rect x="1164" y="1097" width="1" height="25" fill="#0041ff"/>
<rect x="1166" y="1097" width="1" height="25" fill="#008dff"/>
<rect x="1168" y="1097" width="1" height="25" fill="#0067ff"/>
<rect x="1169" y="1097" width="1" height="25" fill="#005dff"/>
<rect x="1171" y="1097" width="1" height="25" fill="#004cff"/>
<rect x="1172" y="1097" width="1" height="25" fill="#0053ff"/>
<rect x="1173" y="1097" width="1" height="25" fill="#0098ff"/>
<rect x="1175" y="1097" width="1" height="25" fill="#00adff"/>
<rect x="1176" y="1096" width="1" height="26" fill="#006fff"/>
<rect x="1177" y="1097" width="1" height="25" fill="#0006ff"/>
<rect x="1181" y="1097" width="1" height="25" fill="#0061ff"/>
<rect x="1182" y="1089" width="1" height="33" fill="#0039ff"/>
<rect x="1184" y="1097" width="1" height="25" fill="#004dff"/>
<rect x="1185" y="1082" width="1" height="40" fill="#0018ff"/>
<rect x="1186" y="1096" width="1" height="26" fill="#0076ff"/>
<rect x="1190" y="1081" width="1" height="41" fill="#0039ff"/>
<rect x="1191" y="1097" width="1" height="25" fill="#004fff"/>
<rect x="1192" y="1097" width="1" height="25" fill="#004fff"/>
<rect x="1193" y="1097" width="1" height="25" fill="#0096ff"/>
<rect x="1196" y="1097" width="1" height="25" fill="#002bff"/>
<rect x="1197" y="1097" width="1" height="25" fill="#003bff"/>
<rect x="1198" y="1097" width="1" height="25" fill="#0087ff"/>
<rect x="1199" y="1075" width="1" height="47" fill="#004bff"/>
<rect x="1202" y="1097" width="1" height="25" fill="#006cff"/>
<rect x="1203" y="1097" width="1" height="25" fill="#006eff"/>
<rect x="1204" y="1097" width="1" height="25" fill="#005bff"/>
<rect x="1206" y="1097" width="1" height="25" fill="#0015ff"/>
<rect x="1207" y="1097" width="1" height="25" fill="#008fff"/>
<rect x="1209" y="1097" width="1" height="25" fill="#0036ff"/>
<rect x="1210" y="1082" width="1" height="40" fill="#00afff"/>
<rect x="1211" y="1089" width="1" height="33" fill="#0093ff"/>
<rect x="1212" y="1097" width="1" height="25" fill="#0089ff"/>
<rect x="1217" y="1088" width="1" height="34" fill="#00a7ff"/>
<rect x="1218" y="1097" width="1" height="25" fill="#0084ff"/>
<rect x="1222" y="1097" width="1" height="25" fill="#008cff"/>
<rect x="1224" y="1097" width="1" height="25" fill="#0052ff"/>
<rect x="1225" y="1077" width="1" height="45" fill="#003cff"/>
<rect x="1226" y="1097" width="1" height="25" fill="#0095ff"/>
<rect x="1228" y="1097" width="1" height="25" fill="#0019ff"/>
<rect x="1232" y="1097" width="1" height="25" fill="#004dff"/>
<rect x="1234" y="1097" width="1" height="25" fill="#009cff"/>
<rect x="1235" y="1097" width="1" height="25" fill="#004fff"/>
<rect x="1238" y="1097" width="1" height="25" fill="#007cff"/>
<rect x="1240" y="1097" width="1" height="25" fill="#0085ff"/>
<rect x="1242" y="1097" width="1" height="25" fill="#0041ff"/>
<rect x="1243" y="1097" width="1" height="25" fill="#006bff"/>
<rect x="1244" y="1083" width="1" height="39" fill="#0068ff"/>
<rect x="1246" y="1097" width="1" height="25" fill="#00afff"/>
<rect x="1248" y="1088" width="1" height="34" fill="#0032ff"/>
<rect x="1249" y="1083" width="1" height="39" fill="#0010ff"/>
<rect x="1251" y="1097" width="1" height="25" fill="#0070ff"/>
<rect x="1254" y="1097" width="1" height="25" fill="#0059ff"/>
<rect x="1256" y="1076" width="1" height="46" fill="#003aff"/>
<rect x="1260" y="1092" width="1" height="30" fill="#001fff"/>
<rect x="1262" y="1097" width="1" height="25" fill="#008dff"/>
<rect x="1263" y="1097" width="1" height="25" fill="#0061ff"/>
<rect x="1264" y="1097" width="1" height="25" fill="#0089ff"/>
<rect x="1268" y="1081" width="1" height="41" fill="#00aaff"/>
<rect x="1271" y="1097" width="1" height="25" fill="#0030ff"/>
<rect x="1273" y="1097" width="1" height="25" fill="#0037ff"/>
<rect x="1274" y="1097" width="1" height="25" fill="#0059ff"/>
<rect x="1275" y="1097" width="1" height="25" fill="#0035ff"/>
<rect x="1277" y="1088" width="1" height="34" fill="#009aff"/>
<rect x="1284" y="1083" width="1" height="39" fill="#000eff"/>
<rect x="1286" y="1097" width="1" height="25" fill="#0053ff"/>
<rect x="1291" y="1077" width="1" height="45" fill="#002dff"/>
<rect x="1294" y="1097" width="1" height="25" fill="#00a1ff"/>
<rect x="1296" y="1097" width="1" height="25" fill="#00b0ff"/>
<rect x="1298" y="1097" width="1" height="25" fill="#0078ff"/>
<rect x="1299" y="1090" width="1" height="32" fill="#0068ff"/>
<rect x="1303" y="1097" width="1" height="25" fill="#0060ff"/>
<rect x="1305" y="1097" width="1" height="25" fill="#005bff"/>
<rect x="1307" y="1097" width="1" height="25" fill="#0059ff"/>
<rect x="1308" y="1087" width="1" height="35" fill="#0065ff"/>
<rect x="1309" y="1097" width="1" height="25" fill="#0039ff"/>
<rect x="1317" y="1097" width="1" height="25" fill="#005aff"/>
<rect x="1322" y="1076" width="1" height="46" fill="#005fff"/>
<rect x="1323" y="1076" width="1" height="46" fill="#009bff"/>
<rect x="1324" y="1097" width="1" height="25" fill="#0094ff"/>
<rect x="1329" y="1096" width="1" height="26" fill="#0010ff"/>
<rect x="1331" y="1097" width="1" height="25" fill="#003fff"/>
<rect x="1332" y="1097" width="1" height="25" fill="#008aff"/>
<rect x="1335" y="1097" width="1" height="25" fill="#007aff"/>
<rect x="1336" y="1097" width="1" height="25" fill="#009eff"/>
<rect x="1337" y="1097" width="1" height="25" fill="#0031ff"/>
<rect x="1339" y="1097" width="1" height="25" fill="#002eff"/>
<rect x="1340" y="1097" width="1" height="25" fill="#005fff"/>
<rect x="1342" y="1097" width="1" height="25" fill="#002dff"/>
<rect x="1343" y="1097" width="1" height="25" fill="#0083ff"/>
<rect x="1346" y="1097" width="1" height="25" fill="#0089ff"/>
<rect x="1347" y="1083" width="1" height="39" fill="#004cff"/>
<rect x="1348" y="1084" width="1" height="38" fill="#00a3ff"/>
<rect x="1349" y="1082" width="1" height="40" fill="#008eff"/>
<rect x="1351" y="1097" width="1" height="25" fill="#0036ff"/>
<rect x="1353" y="1097" width="1" height="25" fill="#0092ff"/>
<rect x="1354" y="1097" width="1" height="25" fill="#0047ff"/>
<rect x="1356" y="1096" width="1" height="26" fill="#0028ff"/>
<rect x="1358" y="1097" width="1" height="25" fill="#00a6ff"/>
<rect x="1361" y="1097" width="1" height="25" fill="#001cff"/>
<rect x="1365" y="1097" width="1" height="25" fill="#0045ff"/>
<rect x="1366" y="1097" width="1" height="25" fill="#00a7ff"/>
<rect x="1367" y="1097" width="1" height="25" fill="#0041ff"/>
<rect x="1368" y="1097" width="1" height="25" fill="#0024ff"/>
<rect x="1375" y="1097" width="1" height="25" fill="#002bff"/>
<rect x="1376" y="1086" width="1" height="36" fill="#0089ff"/>
<rect x="1377" y="1097" width="1" height="25" fill="#003eff"/>
<rect x="1378" y="1085" width="1" height="37" fill="#008eff"/>
<rect x="1381" y="1097" width="1" height="25" fill="#0026ff"/>
<rect x="1382" y="1097" width="1" height="25" fill="#0089ff"/>
<rect x="1383" y="1097" width="1" height="25" fill="#0021ff"/>
<rect x="1385" y="1097" width="1" height="25" fill="#0008ff"/>
<rect x="1387" y="1097" width="1" height="25" fill="#0076ff"/>
<rect x="1388" y="1097" width="1" height="25" fill="#0007ff"/>
<rect x="1389" y="1097" width="1" height="25" fill="#0032ff"/>
<rect x="1390" y="1097" width="1" height="25" fill="#0057ff"/>
<rect x="1391" y="1088" width="1" height="34" fill="#0042ff"/>
<rect x="1392" y="1097" width="1" height="25" fill="#0062ff"/>
<rect x="1393" y="1097" width="1" height="25" fill="#00a3ff"/>
<rect x="1397" y="1081" width="1" height="41" fill="#005dff"/>
<rect x="1398" y="1097" width="1" height="25" fill="#0082ff"/>
<rect x="1400" y="1097" width="1" height="25" fill="#00a9ff"/>
<rect x="1401" y="1097" width="1" height="25" fill="#007cff"/>
<rect x="1403" y="1097" width="1" height="25" fill="#00a5ff"/>
<rect x="1404" y="1097" width="1" height="25" fill="#0005ff"/>
<rect x="1405" y="1097" width="1" height="25" fill="#0068ff"/>
<rect x="1406" y="1097" width="1" height="25" fill="#0014ff"/>
<rect x="1407" y="1081" width="1" height="41" fill="#0074ff"/>
<rect x="1408" y="1080" width="1" height="42" fill="#0013ff"/>
<rect x="1411" y="1097" width="1" height="25" fill="#00a1ff"/>
<rect x="1412" y="1086" width="1" height="36" fill="#0065ff"/>
<rect x="1413" y="1086" width="1" height="36" fill="#0037ff"/>
<rect x="1414" y="1097" width="1" height="25" fill="#0027ff"/>
<rect x="1424" y="1097" width="1" height="25" fill="#0092ff"/>
<rect x="1425" y="1097" width="1" height="25" fill="#00a4ff"/>
<rect x="1427" y="1097" width="1" height="25" fill="#008eff"/>
<rect x="1431" y="1097" width="1" height="25" fill="#0078ff"/>
<rect x="1434" y="1097" width="1" height="25" fill="#0025ff"/>
<rect x="1438" y="1097" width="1" height="25" fill="#0083ff"/>
<rect x="1446" y="1097" width="1" height="25" fill="#0047ff"/>
<rect x="1447" y="1080" width="1" height="42" fill="#0021ff"/>
<rect x="1452" y="1097" width="1" height="25" fill="#0034ff"/>
<rect x="1456" y="1081" width="1" height="41" fill="#00a5ff"/>
<rect x="1461" y="1097" width="1" height="25" fill="#0035ff"/>
<rect x="1462" y="1087" width="1" height="35" fill="#000bff"/>
<rect x="1463" y="1097" width="1" height="25" fill="#0086ff"/>
<rect x="1464" y="1097" width="1" height="25" fill="#0069ff"/>
<rect x="1465" y="1097" width="1" height="25" fill="#0011ff"/>
<rect x="1466" y="1089" width="1" height="33" fill="#0060ff"/>
<rect x="1467" y="1097" width="1" height="25" fill="#004bff"/>
<rect x="1468" y="1097" width="1" height="25" fill="#00abff"/>
<rect x="1469" y="1087" width="1" height="35" fill="#007bff"/>
<rect x="1473" y="1087" width="1" height="35" fill="#0062ff"/>
<rect x="1474" y="1097" width="1" height="25" fill="#0089ff"/>
<rect x="1475" y="1097" width="1" height="25" fill="#0064ff"/>
<rect x="1478" y="1097" width="1" height="25" fill="#008aff"/>
<rect x="1480" y="1097" width="1" height="25" fill="#0050ff"/>
<rect x="1481" y="1076" width="1" height="46" fill="#00aaff"/>
<rect x="1482" y="1097" width="1" height="25" fill="#0033ff"/>
<rect x="1483" y="1097" width="1" height="25" fill="#001bff"/>
<rect x="1486" y="1097" width="1" height="25" fill="#0075ff"/>
<rect x="1488" y="1097" width="1" height="25" fill="#0080ff"/>
<rect x="1489" y="1097" width="1" height="25" fill="#0057ff"/>
<rect x="1490" y="1097" width="1" height="25" fill="#0048ff"/>
<rect x="1491" y="1086" width="1" height="36" fill="#00aaff"/>
<rect x="1493" y="1097" width="1" height="25" fill="#00afff"/>
<rect x="1494" y="1086" width="1" height="36" fill="#002bff"/>
<rect x="1495" y="1081" width="1" height="41" fill="#004aff"/>
<rect x="1498" y="1097" width="1" height="25" fill="#0044ff"/>
<rect x="1499" y="1097" width="1" height="25" fill="#003bff"/>
<rect x="1500" y="1085" width="1" height="37" fill="#0039ff"/>
<rect x="1501" y="1097" width="1" height="25" fill="#009dff"/>
<rect x="1502" y="1092" width="1" height="30" fill="#00a0ff"/>
<rect x="1503" y="1082" width="1" height="40" fill="#0079ff"/>
<rect x="1508" y="1097" width="1" height="25" fill="#0076ff"/>
<rect x="1512" y="1097" width="1" height="25" fill="#0080ff"/>
<rect x="1513" y="1097" width="1" height="25" fill="#0089ff"/>
<rect x="1515" y="1079" width="1" height="43" fill="#004aff"/>
<rect x="1517" y="1093" width="1" height="29" fill="#006aff"/>
<rect x="1518" y="1092" width="1" height="30" fill="#006bff"/>
<linearGradient id="s1" x1="0" y1="0" x2="0" y2="1"><stop offset="0" stop-color="#0019ff" stop-opacity="0.3"/><stop offset="0.35" stop-color="#00e6ff"/><stop offset="0.7" stop-color="#aeff50"/><stop offset="0.9" stop-color="#ffd800"/><stop offset="1" stop-color="#ff6000"/></linearGradient>
<rect x="958.5" y="978" width="3" height="144" fill="url(#s1)"/>
<linearGradient id="s2" x1="0" y1="0" x2="0" y2="1"><stop offset="0" stop-color="#0019ff" stop-opacity="0.3"/><stop offset="0.35" stop-color="#009dff"/><stop offset="0.7" stop-color="#3cffc2"/><stop offset="0.9" stop-color="#9bff63"/><stop offset="1" stop-color="#f9ff05"/></linearGradient>
<rect x="982.0" y="982" width="4" height="140" fill="url(#s2)"/>
<linearGradient id="s3" x1="0" y1="0" x2="0" y2="1"><stop offset="0" stop-color="#0019ff" stop-opacity="0.3"/><stop offset="0.35" stop-color="#004cff"/><stop offset="0.7" stop-color="#0032ff"/><stop offset="0.9" stop-color="#0059ff"/><stop offset="1" stop-color="#007fff"/></linearGradient>
<rect x="929.5" y="975" width="1" height="147" fill="url(#s3)"/>
<linearGradient id="s4" x1="0" y1="0" x2="0" y2="1"><stop offset="0" stop-color="#0019ff" stop-opacity="0.3"/><stop offset="0.35" stop-color="#004cff"/><stop offset="0.7" stop-color="#009eff"/><stop offset="0.9" stop-color="#00dbff"/><stop offset="1" stop-color="#19ffe5"/></linearGradient>
<rect x="1008.0" y="1060" width="2" height="62" fill="url(#s4)"/>
<linearGradient id="s5" x1="0" y1="0" x2="0" y2="1"><stop offset="0" stop-color="#0019ff" stop-opacity="0.3"/><stop offset="0.35" stop-color="#004cff"/><stop offset="0.7" stop-color="#00acff"/><stop offset="0.9" stop-color="#00ecff"/><stop offset="1" stop-color="#2dffd1"/></linearGradient>
<rect x="1023.5" y="1080" width="3" height="42" fill="url(#s5)"/>
<linearGradient id="s6" x1="0" y1="0" x2="0" y2="1"><stop offset="0" stop-color="#0019ff" stop-opacity="0.3"/><stop offset="0.35" stop-color="#007cff"/><stop offset="0.7" stop-color="#0afff4"/><stop offset="0.9" stop-color="#5effa0"/><stop offset="1" stop-color="#b2ff4c"/></linearGradient>
<rect x="1089.0" y="1010" width="2" height="112" fill="url(#s6)"/>
<linearGradient id="s7" x1="0" y1="0" x2="0" y2="1"><stop offset="0" stop-color="#0019ff" stop-opacity="0.3"/><stop offset="0.35" stop-color="#0065ff"/><stop offset="0.7" stop-color="#00e5ff"/><stop offset="0.9" stop-color="#32ffcc"/><stop offset="1" stop-color="#7fff7f"/></linearGradient>
<rect x="1098.5" y="1005" width="3" height="117" fill="url(#s7)"/>
<linearGradient id="s8" x1="0" y1="0" x2="0" y2="1"><stop offset="0" stop-color="#0019ff" stop-opacity="0.3"/><stop offset="0.35" stop-color="#008aff"/><stop offset="0.7" stop-color="#1fffdf"/><stop offset="0.9" stop-color="#78ff86"/><stop offset="1" stop-color="#d1ff2d"/></linearGradient>
<rect x="1103.0" y="1010" width="4" height="112" fill="url(#s8)"/>
<linearGradient id="s9" x1="0" y1="0" x2="0" y2="1"><stop offset="0" stop-color="#0019ff" stop-opacity="0.3"/><stop offset="0.35" stop-color="#004fff"/><stop offset="0.7" stop-color="#00c1ff"/><stop offset="0.9" stop-color="#07fff7"/><stop offset="1" stop-color="#4cffb2"/></linearGradient>
<rect x="1133.5" y="1015" width="3" height="107" fill="url(#s9)"/>
<linearGradient id="s10" x1="0" y1="0" x2="0" y2="1"><stop offset="0" stop-color="#0019ff" stop-opacity="0.3"/><stop offset="0.35" stop-color="#0065ff"/><stop offset="0.7" stop-color="#00e5ff"/><stop offset="0.9" stop-color="#32ffcc"/><stop offset="1" stop-color="#7fff7f"/></linearGradient>
<rect x="1139.5" y="1020" width="3" height="102" fill="url(#s10)"/>
<linearGradient id="s11" x1="0" y1="0" x2="0" y2="1"><stop offset="0" stop-color="#0019ff" stop-opacity="0.3"/><stop offset="0.35" stop-color="#007cff"/><stop offset="0.7" stop-color="#0afff4"/><stop offset="0.9" stop-color="#5effa0"/><stop offset="1" stop-color="#b2ff4c"/></linearGradient>
<rect x="1150.5" y="1010" width="3" height="112" fill="url(#s11)"/>
<linearGradient id="s12" x1="0" y1="0" x2="0" y2="1"><stop offset="0" stop-color="#0019ff" stop-opacity="0.3"/><stop offset="0.35" stop-color="#008aff"/><stop offset="0.7" stop-color="#1fffdf"/><stop offset="0.9" stop-color="#78ff86"/><stop offset="1" stop-color="#d1ff2d"/></linearGradient>
<rect x="1156.5" y="1015" width="3" height="107" fill="url(#s12)"/>
<linearGradient id="s13" x1="0" y1="0" x2="0" y2="1"><stop offset="0" stop-color="#0019ff" stop-opacity="0.3"/><stop offset="0.35" stop-color="#004fff"/><stop offset="0.7" stop-color="#00c1ff"/><stop offset="0.9" stop-color="#07fff7"/><stop offset="1" stop-color="#4cffb2"/></linearGradient>
<rect x="1170.0" y="1030" width="2" height="92" fill="url(#s13)"/>
<linearGradient id="s14" x1="0" y1="0" x2="0" y2="1"><stop offset="0" stop-color="#0019ff" stop-opacity="0.3"/><stop offset="0.35" stop-color="#009dff"/><stop offset="0.7" stop-color="#3cffc2"/><stop offset="0.9" stop-color="#9bff63"/><stop offset="1" stop-color="#f9ff05"/></linearGradient>
<rect x="1188.5" y="1010" width="5" height="112" fill="url(#s14)"/>
<linearGradient id="s15" x1="0" y1="0" x2="0" y2="1"><stop offset="0" stop-color="#0019ff" stop-opacity="0.3"/><stop offset="0.35" stop-color="#0093ff"/><stop offset="0.7" stop-color="#2dffd1"/><stop offset="0.9" stop-color="#89ff75"/><stop offset="1" stop-color="#e5ff19"/></linearGradient>
<rect x="1202.5" y="1015" width="3" height="107" fill="url(#s15)"/>
<linearGradient id="s16" x1="0" y1="0" x2="0" y2="1"><stop offset="0" stop-color="#0019ff" stop-opacity="0.3"/><stop offset="0.35" stop-color="#004fff"/><stop offset="0.7" stop-color="#00c1ff"/><stop offset="0.9" stop-color="#07fff7"/><stop offset="1" stop-color="#4cffb2"/></linearGradient>
<rect x="1240.5" y="1030" width="3" height="92" fill="url(#s16)"/>
<linearGradient id="s17" x1="0" y1="0" x2="0" y2="1"><stop offset="0" stop-color="#0019ff" stop-opacity="0.3"/><stop offset="0.35" stop-color="#004cff"/><stop offset="0.7" stop-color="#00acff"/><stop offset="0.9" stop-color="#00ecff"/><stop offset="1" stop-color="#2dffd1"/></linearGradient>
<rect x="1342.0" y="1060" width="6" height="62" fill="url(#s17)"/>
<linearGradient id="s18" x1="0" y1="0" x2="0" y2="1"><stop offset="0" stop-color="#0019ff" stop-opacity="0.3"/><stop offset="0.35" stop-color="#004fff"/><stop offset="0.7" stop-color="#00c1ff"/><stop offset="0.9" stop-color="#07fff7"/><stop offset="1" stop-color="#4cffb2"/></linearGradient>
<rect x="1353.0" y="1060" width="6" height="62" fill="url(#s18)"/>
<linearGradient id="s19" x1="0" y1="0" x2="0" y2="1"><stop offset="0" stop-color="#0019ff" stop-opacity="0.3"/><stop offset="0.35" stop-color="#004fff"/><stop offset="0.7" stop-color="#00c1ff"/><stop offset="0.9" stop-color="#07fff7"/><stop offset="1" stop-color="#4cffb2"/></linearGradient>
<rect x="1484.5" y="1040" width="3" height="82" fill="url(#s19)"/>
<linearGradient id="s20" x1="0" y1="0" x2="0" y2="1"><stop offset="0" stop-color="#0019ff" stop-opacity="0.3"/><stop offset="0.35" stop-color="#004cff"/><stop offset="0.7" stop-color="#009eff"/><stop offset="0.9" stop-color="#00dbff"/><stop offset="1" stop-color="#19ffe5"/></linearGradient>
<rect x="1174.0" y="1050" width="2" height="72" fill="url(#s20)"/>
<linearGradient id="s21" x1="0" y1="0" x2="0" y2="1"><stop offset="0" stop-color="#0019ff" stop-opacity="0.3"/><stop offset="0.35" stop-color="#004cff"/><stop offset="0.7" stop-color="#009eff"/><stop offset="0.9" stop-color="#00dbff"/><stop offset="1" stop-color="#19ffe5"/></linearGradient>
<rect x="1111.0" y="1040" width="2" height="82" fill="url(#s21)"/>
<linearGradient id="s22" x1="0" y1="0" x2="0" y2="1"><stop offset="0" stop-color="#0019ff" stop-opacity="0.3"/><stop offset="0.35" stop-color="#004cff"/><stop offset="0.7" stop-color="#009eff"/><stop offset="0.9" stop-color="#00dbff"/><stop offset="1" stop-color="#19ffe5"/></linearGradient>
<rect x="1144.0" y="1040" width="2" height="82" fill="url(#s22)"/>
<linearGradient id="s23" x1="0" y1="0" x2="0" y2="1"><stop offset="0" stop-color="#4cffb2" stop-opacity="0"/><stop offset="0.4" stop-color="#4cffb2" stop-opacity="0.75"/><stop offset="1" stop-color="#4cffb2" stop-opacity="0.9"/></linearGradient>
<rect x="1099" y="1075" width="1" height="47" fill="url(#s23)"/>
<rect x="1100" y="1075" width="1" height="47" fill="url(#s23)"/>
<rect x="1102" y="1075" width="1" height="47" fill="url(#s23)"/>
<rect x="1103" y="1075" width="1" height="47" fill="url(#s23)"/>
<rect x="1105" y="1075" width="1" height="47" fill="url(#s23)"/>
<rect x="1107" y="1075" width="1" height="47" fill="url(#s23)"/>
<rect x="1110" y="1075" width="1" height="47" fill="url(#s23)"/>
<linearGradient id="s24" x1="0" y1="0" x2="0" y2="1"><stop offset="0" stop-color="#2dffd1" stop-opacity="0"/><stop offset="0.4" stop-color="#2dffd1" stop-opacity="0.75"/><stop offset="1" stop-color="#2dffd1" stop-opacity="0.9"/></linearGradient>
<rect x="1132" y="1082" width="1" height="40" fill="url(#s24)"/>
<rect x="1133" y="1082" width="1" height="40" fill="url(#s24)"/>
<rect x="1134" y="1082" width="1" height="40" fill="url(#s24)"/>
<rect x="1135" y="1082" width="1" height="40" fill="url(#s24)"/>
<rect x="1136" y="1082" width="1" height="40" fill="url(#s24)"/>
<rect x="1138" y="1082" width="1" height="40" fill="url(#s24)"/>
<rect x="1139" y="1082" width="1" height="40" fill="url(#s24)"/>
<rect x="1141" y="1082" width="1" height="40" fill="url(#s24)"/>
<rect x="1142" y="1082" width="1" height="40" fill="url(#s24)"/>
<rect x="1143" y="1082" width="1" height="40" fill="url(#s24)"/>
<rect x="1144" y="1082" width="1" height="40" fill="url(#s24)"/>
<rect x="1145" y="1082" width="1" height="40" fill="url(#s24)"/>
<linearGradient id="s25" x1="0" y1="0" x2="0" y2="1"><stop offset="0" stop-color="#7fff7f" stop-opacity="0"/><stop offset="0.4" stop-color="#7fff7f" stop-opacity="0.75"/><stop offset="1" stop-color="#7fff7f" stop-opacity="0.9"/></linearGradient>
<rect x="1148" y="1075" width="1" height="47" fill="url(#s25)"/>
<rect x="1150" y="1075" width="1" height="47" fill="url(#s25)"/>
<rect x="1152" y="1075" width="1" height="47" fill="url(#s25)"/>
<rect x="1153" y="1075" width="1" height="47" fill="url(#s25)"/>
<rect x="1154" y="1075" width="1" height="47" fill="url(#s25)"/>
<rect x="1155" y="1075" width="1" height="47" fill="url(#s25)"/>
<rect x="1157" y="1075" width="1" height="47" fill="url(#s25)"/>
<rect x="1158" y="1075" width="1" height="47" fill="url(#s25)"/>
<rect x="1159" y="1075" width="1" height="47" fill="url(#s25)"/>
<rect x="1160" y="1075" width="1" height="47" fill="url(#s25)"/>
<rect x="1161" y="1075" width="1" height="47" fill="url(#s25)"/>
<rect x="1162" y="1075" width="1" height="47" fill="url(#s25)"/>
<linearGradient id="s26" x1="0" y1="0" x2="0" y2="1"><stop offset="0" stop-color="#6bff93" stop-opacity="0"/><stop offset="0.4" stop-color="#6bff93" stop-opacity="0.75"/><stop offset="1" stop-color="#6bff93" stop-opacity="0.9"/></linearGradient>
<rect x="1185" y="1080" width="1" height="42" fill="url(#s26)"/>
<rect x="1186" y="1080" width="1" height="42" fill="url(#s26)"/>
<rect x="1187" y="1080" width="1" height="42" fill="url(#s26)"/>
<rect x="1190" y="1080" width="1" height="42" fill="url(#s26)"/>
<rect x="1191" y="1080" width="1" height="42" fill="url(#s26)"/>
<rect x="1192" y="1080" width="1" height="42" fill="url(#s26)"/>
<rect x="1193" y="1080" width="1" height="42" fill="url(#s26)"/>
<rect x="1196" y="1080" width="1" height="42" fill="url(#s26)"/>
<rect x="1197" y="1080" width="1" height="42" fill="url(#s26)"/>
<rect x="1198" y="1080" width="1" height="42" fill="url(#s26)"/>
<rect x="1199" y="1080" width="1" height="42" fill="url(#s26)"/>
<rect x="1202" y="1080" width="1" height="42" fill="url(#s26)"/>
<rect x="1204" y="1080" width="1" height="42" fill="url(#s26)"/>
<rect x="1205" y="1080" width="1" height="42" fill="url(#s26)"/>
<rect x="1207" y="1080" width="1" height="42" fill="url(#s26)"/>
<rect x="1208" y="1080" width="1" height="42" fill="url(#s26)"/>
<linearGradient id="s27" x1="0" y1="0" x2="0" y2="1"><stop offset="0" stop-color="#05fff9" stop-opacity="0"/><stop offset="0.4" stop-color="#05fff9" stop-opacity="0.75"/><stop offset="1" stop-color="#05fff9" stop-opacity="0.9"/></linearGradient>
<rect x="1338" y="1088" width="1" height="34" fill="url(#s27)"/>
<rect x="1339" y="1088" width="1" height="34" fill="url(#s27)"/>
<rect x="1341" y="1088" width="1" height="34" fill="url(#s27)"/>
<rect x="1342" y="1088" width="1" height="34" fill="url(#s27)"/>
<rect x="1344" y="1088" width="1" height="34" fill="url(#s27)"/>
<rect x="1345" y="1088" width="1" height="34" fill="url(#s27)"/>
<rect x="1346" y="1088" width="1" height="34" fill="url(#s27)"/>
<rect x="1347" y="1088" width="1" height="34" fill="url(#s27)"/>
<rect x="1349" y="1088" width="1" height="34" fill="url(#s27)"/>
<rect x="1350" y="1088" width="1" height="34" fill="url(#s27)"/>
<rect x="1351" y="1088" width="1" height="34" fill="url(#s27)"/>
<rect x="1354" y="1088" width="1" height="34" fill="url(#s27)"/>
<rect x="1355" y="1088" width="1" height="34" fill="url(#s27)"/>
<rect x="1356" y="1088" width="1" height="34" fill="url(#s27)"/>
<rect x="1358" y="1088" width="1" height="34" fill="url(#s27)"/>
<rect x="1361" y="1088" width="1" height="34" fill="url(#s27)"/>
<rect x="1362" y="1088" width="1" height="34" fill="url(#s27)"/>
<rect x="1363" y="1088" width="1" height="34" fill="url(#s27)"/>
<rect x="1365" y="1088" width="1" height="34" fill="url(#s27)"/>
<rect x="1366" y="1088" width="1" height="34" fill="url(#s27)"/>
<rect x="1367" y="1088" width="1" height="34" fill="url(#s27)"/>
<linearGradient id="s28" x1="0" y1="0" x2="0" y2="1"><stop offset="0" stop-color="#00efff" stop-opacity="0"/><stop offset="0.4" stop-color="#00efff" stop-opacity="0.75"/><stop offset="1" stop-color="#00efff" stop-opacity="0.9"/></linearGradient>
<rect x="1024" y="1088" width="1" height="34" fill="url(#s28)"/>
<rect x="1025" y="1088" width="1" height="34" fill="url(#s28)"/>
<rect x="1026" y="1088" width="1" height="34" fill="url(#s28)"/>
<rect x="1027" y="1088" width="1" height="34" fill="url(#s28)"/>
<rect x="1028" y="1088" width="1" height="34" fill="url(#s28)"/>
<rect x="1030" y="1088" width="1" height="34" fill="url(#s28)"/>
<rect x="1032" y="1088" width="1" height="34" fill="url(#s28)"/>
<linearGradient id="s29" x1="0" y1="0" x2="0" y2="1"><stop offset="0" stop-color="#00dbff" stop-opacity="0"/><stop offset="0.4" stop-color="#00dbff" stop-opacity="0.75"/><stop offset="1" stop-color="#00dbff" stop-opacity="0.9"/></linearGradient>
<rect x="1006" y="1088" width="1" height="34" fill="url(#s29)"/>
<rect x="1007" y="1088" width="1" height="34" fill="url(#s29)"/>
<rect x="1008" y="1088" width="1" height="34" fill="url(#s29)"/>
<rect x="1009" y="1088" width="1" height="34" fill="url(#s29)"/>
<rect x="1010" y="1088" width="1" height="34" fill="url(#s29)"/>
<rect x="1011" y="1088" width="1" height="34" fill="url(#s29)"/>
<rect x="1012" y="1088" width="1" height="34" fill="url(#s29)"/>
<linearGradient id="s30" x1="0" y1="0" x2="0" y2="1"><stop offset="0" stop-color="#19ffe5" stop-opacity="0"/><stop offset="0.4" stop-color="#19ffe5" stop-opacity="0.75"/><stop offset="1" stop-color="#19ffe5" stop-opacity="0.9"/></linearGradient>
<rect x="1087" y="1085" width="1" height="37" fill="url(#s30)"/>
<rect x="1088" y="1085" width="1" height="37" fill="url(#s30)"/>
<rect x="1089" y="1085" width="1" height="37" fill="url(#s30)"/>
<rect x="1090" y="1085" width="1" height="37" fill="url(#s30)"/>
<rect x="1091" y="1085" width="1" height="37" fill="url(#s30)"/>
<rect x="1092" y="1085" width="1" height="37" fill="url(#s30)"/>
<rect x="1093" y="1085" width="1" height="37" fill="url(#s30)"/>
<linearGradient id="s31" x1="0" y1="0" x2="0" y2="1"><stop offset="0" stop-color="#00e5ff" stop-opacity="0"/><stop offset="0.4" stop-color="#00e5ff" stop-opacity="0.75"/><stop offset="1" stop-color="#00e5ff" stop-opacity="0.9"/></linearGradient>
<rect x="1238" y="1092" width="1" height="30" fill="url(#s31)"/>
<rect x="1239" y="1092" width="1" height="30" fill="url(#s31)"/>
<rect x="1240" y="1092" width="1" height="30" fill="url(#s31)"/>
<rect x="1241" y="1092" width="1" height="30" fill="url(#s31)"/>
<rect x="1242" y="1092" width="1" height="30" fill="url(#s31)"/>
<rect x="1243" y="1092" width="1" height="30" fill="url(#s31)"/>
<rect x="1244" y="1092" width="1" height="30" fill="url(#s31)"/>
<linearGradient id="s32" x1="0" y1="0" x2="0" y2="1"><stop offset="0" stop-color="#00e5ff" stop-opacity="0"/><stop offset="0.4" stop-color="#00e5ff" stop-opacity="0.75"/><stop offset="1" stop-color="#00e5ff" stop-opacity="0.9"/></linearGradient>
<rect x="1480" y="1090" width="1" height="32" fill="url(#s32)"/>
<rect x="1481" y="1090" width="1" height="32" fill="url(#s32)"/>
<rect x="1482" y="1090" width="1" height="32" fill="url(#s32)"/>
<rect x="1485" y="1090" width="1" height="32" fill="url(#s32)"/>
<rect x="1486" y="1090" width="1" height="32" fill="url(#s32)"/>
<rect x="1487" y="1090" width="1" height="32" fill="url(#s32)"/>
<rect x="1488" y="1090" width="1" height="32" fill="url(#s32)"/>
<rect x="1489" y="1090" width="1" height="32" fill="url(#s32)"/>
<rect x="1490" y="1090" width="1" height="32" fill="url(#s32)"/>
<rect x="1491" y="1090" width="1" height="32" fill="url(#s32)"/>
<line x1="260" y1="969.5" x2="1811" y2="969.5" stroke="#000" stroke-width="1" shape-rendering="crispEdges"/>
<line x1="260" y1="1122.5" x2="1811" y2="1122.5" stroke="#000" stroke-width="1" shape-rendering="crispEdges"/>
<line x1="260.5" y1="969" x2="260.5" y2="1123" stroke="#000" stroke-width="1" shape-rendering="crispEdges"/>
<line x1="1810.5" y1="969" x2="1810.5" y2="1123" stroke="#000" stroke-width="1" shape-rendering="crispEdges"/>
<text x="203.77" y="1004.85" font-size="27.80" fill="#000" stroke="#fff" stroke-width="0.35" textLength="31.12" lengthAdjust="spacingAndGlyphs" >10</text>
<text x="235.45" y="987.90" font-size="17.50" fill="#000" stroke="#fff" stroke-width="0.35" textLength="15.08" lengthAdjust="spacingAndGlyphs" >-1</text>
<text x="203.77" y="1055.85" font-size="27.80" fill="#000" stroke="#fff" stroke-width="0.35" textLength="31.12" lengthAdjust="spacingAndGlyphs" >10</text>
<text x="236.36" y="1038.90" font-size="17.50" fill="#000" stroke="#fff" stroke-width="0.35" textLength="9.07" lengthAdjust="spacingAndGlyphs" >0</text>
<text x="203.77" y="1106.85" font-size="27.80" fill="#000" stroke="#fff" stroke-width="0.35" textLength="31.12" lengthAdjust="spacingAndGlyphs" >10</text>
<text x="235.76" y="1089.90" font-size="17.50" fill="#000" stroke="#fff" stroke-width="0.35" textLength="9.03" lengthAdjust="spacingAndGlyphs" >1</text>
<line x1="265" y1="1179.5" x2="1810" y2="1179.5" stroke="#000" stroke-width="1" stroke-dasharray="1 4" shape-rendering="crispEdges"/>
<line x1="260" y1="1179.5" x2="276" y2="1179.5" stroke="#000" stroke-width="1" shape-rendering="crispEdges"/>
<line x1="1795" y1="1179.5" x2="1811" y2="1179.5" stroke="#000" stroke-width="1" shape-rendering="crispEdges"/>
<line x1="265" y1="1244.5" x2="1810" y2="1244.5" stroke="#000" stroke-width="1" stroke-dasharray="1 4" shape-rendering="crispEdges"/>
<line x1="260" y1="1244.5" x2="276" y2="1244.5" stroke="#000" stroke-width="1" shape-rendering="crispEdges"/>
<line x1="1795" y1="1244.5" x2="1811" y2="1244.5" stroke="#000" stroke-width="1" shape-rendering="crispEdges"/>
<line x1="265" y1="1309.5" x2="1810" y2="1309.5" stroke="#000" stroke-width="1" stroke-dasharray="1 4" shape-rendering="crispEdges"/>
<line x1="260" y1="1309.5" x2="276" y2="1309.5" stroke="#000" stroke-width="1" shape-rendering="crispEdges"/>
<line x1="1795" y1="1309.5" x2="1811" y2="1309.5" stroke="#000" stroke-width="1" shape-rendering="crispEdges"/>
<line x1="440.5" y1="1136" x2="440.5" y2="1355" stroke="#000" stroke-width="1" stroke-dasharray="1 4" shape-rendering="crispEdges"/>
<line x1="440.5" y1="1133" x2="440.5" y2="1149" stroke="#000" stroke-width="1" shape-rendering="crispEdges"/>
<line x1="440.5" y1="1339" x2="440.5" y2="1355" stroke="#000" stroke-width="1" shape-rendering="crispEdges"/>
<line x1="724.5" y1="1136" x2="724.5" y2="1355" stroke="#000" stroke-width="1" stroke-dasharray="1 4" shape-rendering="crispEdges"/>
<line x1="724.5" y1="1133" x2="724.5" y2="1149" stroke="#000" stroke-width="1" shape-rendering="crispEdges"/>
<line x1="724.5" y1="1339" x2="724.5" y2="1355" stroke="#000" stroke-width="1" shape-rendering="crispEdges"/>
<line x1="904.5" y1="1136" x2="904.5" y2="1355" stroke="#000" stroke-width="1" stroke-dasharray="1 4" shape-rendering="crispEdges"/>
<line x1="904.5" y1="1133" x2="904.5" y2="1149" stroke="#000" stroke-width="1" shape-rendering="crispEdges"/>
<line x1="904.5" y1="1339" x2="904.5" y2="1355" stroke="#000" stroke-width="1" shape-rendering="crispEdges"/>
<line x1="1085.5" y1="1136" x2="1085.5" y2="1355" stroke="#000" stroke-width="1" stroke-dasharray="1 4" shape-rendering="crispEdges"/>
<line x1="1085.5" y1="1133" x2="1085.5" y2="1149" stroke="#000" stroke-width="1" shape-rendering="crispEdges"/>
<line x1="1085.5" y1="1339" x2="1085.5" y2="1355" stroke="#000" stroke-width="1" shape-rendering="crispEdges"/>
<line x1="1266.5" y1="1136" x2="1266.5" y2="1355" stroke="#000" stroke-width="1" stroke-dasharray="1 4" shape-rendering="crispEdges"/>
<line x1="1266.5" y1="1133" x2="1266.5" y2="1149" stroke="#000" stroke-width="1" shape-rendering="crispEdges"/>
<line x1="1266.5" y1="1339" x2="1266.5" y2="1355" stroke="#000" stroke-width="1" shape-rendering="crispEdges"/>
<line x1="1447.5" y1="1136" x2="1447.5" y2="1355" stroke="#000" stroke-width="1" stroke-dasharray="1 4" shape-rendering="crispEdges"/>
<line x1="1447.5" y1="1133" x2="1447.5" y2="1149" stroke="#000" stroke-width="1" shape-rendering="crispEdges"/>
<line x1="1447.5" y1="1339" x2="1447.5" y2="1355" stroke="#000" stroke-width="1" shape-rendering="crispEdges"/>
<line x1="1628.5" y1="1136" x2="1628.5" y2="1355" stroke="#000" stroke-width="1" stroke-dasharray="1 4" shape-rendering="crispEdges"/>
<line x1="1628.5" y1="1133" x2="1628.5" y2="1149" stroke="#000" stroke-width="1" shape-rendering="crispEdges"/>
<line x1="1628.5" y1="1339" x2="1628.5" y2="1355" stroke="#000" stroke-width="1" shape-rendering="crispEdges"/>
<g clip-path="url(#mapclip)">
<clipPath id="mapclip"><rect x="260" y="1133" width="1551" height="223"/></clipPath>
<path d="M260.5,1139.0 L266.0,1145.0 L267.5,1148.0 L268.0,1152.0 L266.0,1155.0 L270.0,1159.0 L275.0,1163.0 L281.0,1166.0 L287.0,1169.0 L295.0,1172.0 L300.0,1174.0 L307.0,1176.5 L310.0,1174.0 L314.0,1173.5 L318.0,1176.0 L323.0,1181.0 L329.0,1183.5 L335.0,1186.0 L342.0,1187.5 L345.0,1189.0 L351.0,1195.0 L352.0,1200.0 L357.0,1202.5 L361.0,1207.0 L367.0,1210.0 L373.0,1213.5 L375.0,1210.0 L379.0,1205.0 L380.0,1204.0 L383.0,1207.0 L387.0,1213.0 L388.0,1217.0 L389.0,1224.0 L388.0,1230.0 L384.0,1234.0 L380.0,1238.0 L376.0,1242.0 L374.0,1248.0 L373.0,1253.0 L374.0,1257.0 L371.0,1263.0 L372.0,1269.0 L376.0,1275.0 L380.0,1281.0 L386.0,1289.0 L390.0,1297.0 L394.0,1305.0 L400.0,1311.0 L410.0,1316.0 L416.0,1321.0 L419.0,1327.0 L419.0,1337.0 L417.0,1345.0 L417.0,1355.0" stroke="#000" stroke-width="2.0" fill="none" stroke-linejoin="round" stroke-linecap="round" />
<path d="M301.0,1134.0 L300.0,1140.0 L300.0,1146.0 L303.0,1150.0 L306.0,1155.0 L309.0,1161.0 L315.0,1164.0 L323.0,1163.0 L329.0,1161.0 L331.0,1157.0 L332.0,1152.0 L336.0,1149.5 L342.0,1148.5 L348.0,1149.0 L347.0,1153.0 L345.0,1158.0 L343.0,1164.0 L341.0,1171.0 L339.0,1174.5 L345.0,1174.5 L351.0,1174.5 L359.0,1175.0 L363.0,1178.0 L362.0,1186.0 L361.0,1193.0 L363.0,1200.0 L368.0,1204.0 L372.0,1205.0 L377.0,1203.0 L382.0,1203.0 L387.0,1207.0 L390.0,1210.0 L393.0,1204.0 L396.0,1200.0 L397.0,1197.0 L403.0,1195.0 L409.0,1193.0 L413.0,1190.0 L415.0,1192.0 L414.0,1198.0 L414.0,1205.0 L415.5,1198.0 L417.0,1192.0 L419.0,1192.0 L425.0,1192.0 L428.0,1198.0 L435.0,1198.0 L440.0,1199.5 L448.0,1198.0 L454.0,1202.0 L458.0,1201.0 L462.0,1207.0 L470.0,1213.0 L480.0,1218.0 L490.0,1220.0 L498.0,1225.0 L502.0,1231.0 L506.0,1239.0 L504.0,1245.0" stroke="#000" stroke-width="2.0" fill="none" stroke-linejoin="round" stroke-linecap="round" />
<path d="M516.0,1248.0 L520.0,1249.0 L530.0,1253.0 L538.0,1255.0 L548.0,1256.0 L556.0,1261.0 L568.0,1265.0 L570.0,1273.0 L570.0,1281.0 L564.0,1289.0 L558.0,1297.0 L554.0,1303.0 L554.0,1315.0 L552.0,1325.0 L550.0,1331.0 L544.0,1339.0 L536.0,1345.0 L530.0,1347.0 L524.0,1350.0 L516.0,1355.0" stroke="#000" stroke-width="2.0" fill="none" stroke-linejoin="round" stroke-linecap="round" />
<path d="M657.0,1134.0 L650.0,1145.0 L648.0,1151.0 L651.0,1165.0 L648.0,1179.0 L649.0,1189.0 L655.0,1196.0 L662.0,1204.0 L666.0,1211.0 L676.0,1219.0 L688.0,1226.0 L698.0,1223.0 L712.0,1224.0 L724.0,1218.0 L738.0,1217.0 L744.0,1223.0 L752.0,1226.0 L760.0,1227.0 L763.0,1235.0 L760.0,1247.0 L764.0,1255.0 L772.0,1263.0 L778.0,1277.0 L780.0,1291.0 L776.0,1301.0 L772.0,1313.0 L772.0,1323.0 L778.0,1333.0 L782.0,1341.0 L784.0,1355.0" stroke="#000" stroke-width="2.0" fill="none" stroke-linejoin="round" stroke-linecap="round" />
<path d="M872.0,1134.0 L878.0,1145.0 L882.0,1157.0 L890.0,1165.0 L892.0,1173.0 L900.0,1177.0 L906.0,1183.0 L910.0,1195.0 L920.0,1197.0 L930.0,1193.0 L942.0,1191.0 L940.0,1203.0 L934.0,1217.0 L926.0,1227.0 L916.0,1237.0 L904.0,1249.0 L894.0,1257.0 L890.0,1269.0 L892.0,1281.0 L896.0,1289.0 L896.0,1305.0 L890.0,1317.0 L878.0,1325.0 L872.0,1333.0 L874.0,1345.0 L872.0,1355.0" stroke="#000" stroke-width="2.0" fill="none" stroke-linejoin="round" stroke-linecap="round" />
<path d="M884.0,1134.0 L890.0,1145.0 L891.0,1153.0 L898.0,1161.0 L902.0,1169.0 L906.0,1177.0 L907.0,1182.0 L920.0,1182.0 L936.0,1179.0 L948.0,1173.0 L960.0,1167.0 L970.0,1159.0 L978.0,1145.0 L970.0,1139.0 L964.0,1135.0" stroke="#000" stroke-width="2.0" fill="none" stroke-linejoin="round" stroke-linecap="round" />
<path d="M942.0,1134.0 L944.0,1137.0 L950.0,1137.0 L956.0,1135.0" stroke="#000" stroke-width="2.0" fill="none" stroke-linejoin="round" stroke-linecap="round" />
<path d="M910.0,1355.0 L908.0,1345.0 L912.0,1335.0 L911.0,1325.0 L916.0,1315.0 L924.0,1311.0 L928.0,1305.0 L933.0,1297.0 L938.0,1301.0 L939.0,1311.0 L936.0,1319.0 L932.0,1335.0 L928.0,1345.0 L925.0,1355.0" stroke="#000" stroke-width="2.0" fill="none" stroke-linejoin="round" stroke-linecap="round" />
<path d="M847.0,1259.0 L850.0,1268.0 L854.0,1282.0" stroke="#000" stroke-width="2.0" fill="none" stroke-linejoin="round" stroke-linecap="round" />
<path d="M868.0,1285.0 L870.0,1295.0 L873.0,1307.0" stroke="#000" stroke-width="2.0" fill="none" stroke-linejoin="round" stroke-linecap="round" />
<path d="M1010.0,1134.0 L1016.0,1139.0 L1020.0,1143.0 L1026.0,1145.0 L1032.0,1146.0 L1034.0,1155.0 L1038.0,1175.0 L1042.0,1185.0 L1048.0,1195.0 L1050.0,1203.0 L1056.0,1208.0 L1060.0,1205.0 L1064.0,1195.0 L1066.0,1179.0 L1070.0,1174.0 L1082.0,1165.0 L1096.0,1151.0 L1104.0,1149.0 L1114.7,1143.4 L1117.5,1150.0 L1123.2,1155.6 L1127.0,1161.2 L1127.9,1166.0 L1128.8,1174.4 L1134.5,1173.5 L1139.2,1170.7 L1142.0,1174.4 L1144.8,1183.8 L1146.7,1190.4 L1147.7,1197.0 L1149.5,1212.0 L1155.2,1227.2 L1162.7,1232.8 L1168.4,1236.6 L1166.5,1227.2 L1165.6,1221.5 L1161.8,1215.9 L1157.0,1213.0 L1153.0,1206.0 L1151.4,1196.0 L1151.4,1188.6 L1154.3,1186.7 L1159.0,1189.5 L1163.7,1193.3 L1168.4,1198.0 L1174.0,1201.7 L1179.7,1202.7 L1180.6,1199.0 L1185.3,1197.0 L1191.0,1193.3 L1192.0,1185.7 L1191.0,1177.3 L1187.2,1172.5 L1181.6,1167.8 L1176.9,1162.2 L1175.9,1158.4 L1179.7,1153.7 L1185.3,1150.0 L1190.0,1148.0 L1194.7,1150.9 L1197.6,1151.8 L1203.2,1149.0 L1208.9,1145.2 L1215.5,1143.4 L1223.0,1140.5 L1228.6,1135.8 L1230.5,1134.0" stroke="#000" stroke-width="2.0" fill="none" stroke-linejoin="round" stroke-linecap="round" />
<path d="M1237.1,1196.1 L1231.0,1201.5 L1225.8,1206.4" stroke="#000" stroke-width="2.0" fill="none" stroke-linejoin="round" stroke-linecap="round" />
<path d="M1121.3,1186.7 L1122.2,1192.3" stroke="#000" stroke-width="2.0" fill="none" stroke-linejoin="round" stroke-linecap="round" />
<path d="M1270.0,1236.0 L1272.0,1242.0 L1275.0,1250.0" stroke="#000" stroke-width="2.0" fill="none" stroke-linejoin="round" stroke-linecap="round" />
<path d="M1273.0,1257.5 L1278.0,1257.0 L1284.0,1258.5" stroke="#000" stroke-width="2.0" fill="none" stroke-linejoin="round" stroke-linecap="round" />
<path d="M1360.0,1269.0 L1368.0,1268.0 L1376.0,1264.0 L1380.0,1262.0 L1378.0,1266.0 L1370.0,1270.0" stroke="#000" stroke-width="2.0" fill="none" stroke-linejoin="round" stroke-linecap="round" />
<path d="M1388.0,1267.0 L1395.0,1271.0" stroke="#000" stroke-width="2.0" fill="none" stroke-linejoin="round" stroke-linecap="round" />
<path d="M1398.0,1274.0 L1402.0,1277.0" stroke="#000" stroke-width="2.0" fill="none" stroke-linejoin="round" stroke-linecap="round" />
<path d="M1406.0,1280.0 L1412.0,1283.0" stroke="#000" stroke-width="2.0" fill="none" stroke-linejoin="round" stroke-linecap="round" />
<path d="M1414.0,1286.0 L1420.0,1291.0" stroke="#000" stroke-width="2.0" fill="none" stroke-linejoin="round" stroke-linecap="round" />
<path d="M1210.0,1355.0 L1211.0,1341.0 L1218.0,1335.0 L1230.0,1331.0 L1242.0,1325.0 L1250.0,1317.0 L1260.0,1309.0 L1268.0,1305.0 L1276.0,1307.0 L1282.0,1299.0 L1288.0,1295.0 L1296.0,1295.0 L1308.0,1297.0 L1306.0,1309.0 L1314.0,1313.0 L1324.0,1321.0 L1330.0,1309.0 L1332.0,1295.0 L1336.0,1291.0 L1340.0,1305.0 L1348.0,1317.0 L1350.0,1325.0 L1360.0,1335.0 L1370.0,1345.0 L1376.0,1355.0" stroke="#000" stroke-width="2.0" fill="none" stroke-linejoin="round" stroke-linecap="round" />
<path d="M1581.0,1147.0 L1583.0,1147.0" stroke="#000" stroke-width="2.0" fill="none" stroke-linejoin="round" stroke-linecap="round" />
<path d="M1589.0,1149.0 L1594.0,1151.0 L1598.0,1153.0 L1602.0,1158.0 L1605.0,1158.0 L1602.0,1161.0 L1599.0,1160.0 L1600.0,1156.0" stroke="#000" stroke-width="2.0" fill="none" stroke-linejoin="round" stroke-linecap="round" />
<path d="M1439.0,1309.0 L1444.0,1317.0" stroke="#000" stroke-width="2.0" fill="none" stroke-linejoin="round" stroke-linecap="round" />
<path d="M1527.0,1302.0 L1534.0,1305.0" stroke="#000" stroke-width="2.0" fill="none" stroke-linejoin="round" stroke-linecap="round" />
<path d="M1788.0,1134.0 L1795.0,1140.0 L1800.0,1144.0 L1802.0,1142.0 L1796.0,1136.0 L1792.0,1134.0" stroke="#000" stroke-width="2.0" fill="none" stroke-linejoin="round" stroke-linecap="round" />
<path d="M1806.0,1134.0 L1809.0,1138.0" stroke="#000" stroke-width="2.0" fill="none" stroke-linejoin="round" stroke-linecap="round" />
<path d="M1283.0,1276.0 L1285.0,1273.0" stroke="#000" stroke-width="2.0" fill="none" stroke-linejoin="round" stroke-linecap="round" />
<path d="M1298.0,1270.0 L1300.0,1265.0" stroke="#000" stroke-width="2.0" fill="none" stroke-linejoin="round" stroke-linecap="round" />
<path d="M1258.0,1257.0 L1262.0,1256.0" stroke="#000" stroke-width="2.0" fill="none" stroke-linejoin="round" stroke-linecap="round" />
<path d="M1266.0,1240.0 L1268.0,1246.0" stroke="#000" stroke-width="2.0" fill="none" stroke-linejoin="round" stroke-linecap="round" />
<path d="M1270.0,1256.0 L1278.0,1258.0" stroke="#000" stroke-width="2.0" fill="none" stroke-linejoin="round" stroke-linecap="round" />
<path d="M356.0,1147.5 L360.0,1144.0 L365.0,1142.0 L370.0,1141.0 L377.0,1143.0 L385.0,1147.0 L393.0,1151.0 L400.0,1155.0 L401.0,1157.0 L395.0,1157.0 L387.0,1157.0 L387.0,1153.0 L381.0,1149.0 L373.0,1146.0 L367.0,1146.0 L365.0,1149.0 L363.0,1147.0 L357.0,1149.0 Z" stroke="#000" stroke-width="2.0" fill="none" stroke-linejoin="round" stroke-linecap="round" />
<path d="M405.0,1157.0 L409.0,1156.0 L415.0,1157.0 L423.0,1160.0 L427.0,1163.0 L421.0,1164.0 L415.0,1165.0 L414.0,1168.0 L409.0,1165.0 L402.0,1164.0 L405.0,1162.0 Z" stroke="#000" stroke-width="2.0" fill="none" stroke-linejoin="round" stroke-linecap="round" />
<path d="M500.0,1244.0 L504.0,1243.0 L506.0,1247.0 L502.0,1249.0 Z" stroke="#000" stroke-width="2.0" fill="none" stroke-linejoin="round" stroke-linecap="round" />
<path d="M509.0,1245.0 L513.0,1245.0 L514.0,1249.0 L510.0,1249.0 Z" stroke="#000" stroke-width="2.0" fill="none" stroke-linejoin="round" stroke-linecap="round" />
<path d="M780.0,1183.0 L785.0,1184.0 L788.0,1188.0 L784.0,1189.0 Z" stroke="#000" stroke-width="2.0" fill="none" stroke-linejoin="round" stroke-linecap="round" />
<path d="M859.0,1246.0 L863.0,1242.5 L868.0,1243.5 L869.0,1249.0 L866.0,1254.0 L860.0,1255.0 L858.0,1250.0 Z" stroke="#000" stroke-width="2.0" fill="none" stroke-linejoin="round" stroke-linecap="round" />
<path d="M1188.2,1160.0 L1191.0,1157.0 L1196.0,1156.5 L1199.5,1159.0 L1198.0,1163.5 L1193.0,1165.0 L1189.0,1163.5 Z" stroke="#000" stroke-width="2.0" fill="none" stroke-linejoin="round" stroke-linecap="round" />
<path d="M1240.0,1135.0 L1245.5,1135.0 L1246.5,1140.0 L1245.0,1146.0 L1242.0,1147.0 L1239.5,1141.0 Z" stroke="#000" stroke-width="2.0" fill="none" stroke-linejoin="round" stroke-linecap="round" />
<path d="M1066.0,1201.0 L1071.0,1204.0 L1074.0,1212.0 L1071.0,1219.0 L1066.0,1217.0 L1064.0,1209.0 Z" stroke="#000" stroke-width="2.0" fill="none" stroke-linejoin="round" stroke-linecap="round" />
<path d="M1241.8,1163.1 L1248.4,1163.1 L1249.4,1170.7 L1246.5,1176.3 L1249.4,1183.8 L1255.0,1185.7 L1260.7,1191.4 L1262.0,1196.0 L1258.0,1197.0 L1253.0,1192.0 L1245.6,1193.3 L1241.8,1188.6 L1239.0,1182.0 L1237.1,1174.4 L1239.0,1167.0 Z" stroke="#000" stroke-width="2.0" fill="none" stroke-linejoin="round" stroke-linecap="round" />
<path d="M1246.0,1197.0 L1252.0,1196.0 L1258.0,1199.0 L1263.0,1203.0 L1264.0,1208.0 L1260.0,1209.0 L1254.0,1205.0 L1249.0,1203.0 Z" stroke="#000" stroke-width="2.0" fill="none" stroke-linejoin="round" stroke-linecap="round" />
<path d="M1255.0,1214.0 L1260.0,1212.0 L1266.0,1214.0 L1265.0,1220.0 L1259.0,1220.0 Z" stroke="#000" stroke-width="2.0" fill="none" stroke-linejoin="round" stroke-linecap="round" />
<path d="M1130.7,1220.6 L1141.0,1220.6 L1144.8,1225.3 L1151.4,1231.0 L1159.0,1234.7 L1166.5,1238.5 L1170.3,1246.0 L1176.0,1251.6 L1179.7,1255.4 L1177.8,1258.2 L1176.9,1266.7 L1171.2,1268.6 L1162.7,1263.0 L1156.1,1255.4 L1149.5,1244.1 L1143.9,1234.7 L1137.3,1227.2 L1131.7,1222.5 Z" stroke="#000" stroke-width="2.0" fill="none" stroke-linejoin="round" stroke-linecap="round" />
<path d="M1175.9,1269.5 L1181.6,1272.4 L1194.7,1275.2 L1204.2,1276.1 L1213.6,1278.0 L1223.0,1279.9 L1232.4,1279.9 L1241.8,1279.9 L1251.2,1280.8 L1251.0,1283.5 L1241.8,1283.7 L1232.0,1283.0 L1223.0,1282.7 L1213.0,1282.0 L1204.2,1279.9 L1194.0,1279.0 L1185.3,1277.0 L1175.9,1274.2 Z" stroke="#000" stroke-width="2.0" fill="none" stroke-linejoin="round" stroke-linecap="round" />
<path d="M1254.0,1286.0 L1258.0,1283.0 L1264.0,1280.0 L1269.0,1278.5 L1267.0,1282.0 L1260.0,1285.5 Z" stroke="#000" stroke-width="2.0" fill="none" stroke-linejoin="round" stroke-linecap="round" />
<path d="M1190.0,1237.5 L1191.9,1245.0 L1194.7,1250.7 L1196.6,1257.3 L1204.2,1257.3 L1213.6,1260.1 L1218.3,1260.1 L1222.0,1254.5 L1225.8,1248.8 L1228.6,1241.3 L1232.4,1239.4 L1230.5,1234.7 L1228.6,1230.0 L1230.5,1226.2 L1231.5,1223.4 L1223.0,1223.4 L1213.6,1225.3 L1208.9,1228.1 L1203.2,1231.0 L1199.5,1234.7 L1192.9,1235.6 Z" stroke="#000" stroke-width="2.0" fill="none" stroke-linejoin="round" stroke-linecap="round" />
<path d="M1260.7,1236.6 L1251.2,1238.5 L1241.8,1239.4 L1236.2,1242.2 L1236.2,1250.7 L1233.4,1257.3 L1235.2,1266.7 L1238.0,1267.0 L1240.9,1258.2 L1243.7,1261.1 L1246.5,1266.7 L1251.2,1265.8 L1247.5,1257.3 L1244.7,1252.6 L1249.4,1248.8 L1253.1,1246.9 L1246.5,1246.0 L1241.8,1246.9 L1240.9,1243.2 L1247.5,1241.3 L1256.9,1240.4 Z" stroke="#000" stroke-width="2.0" fill="none" stroke-linejoin="round" stroke-linecap="round" />
<path d="M1176.0,1253.0 L1180.0,1252.6 L1181.5,1256.0 L1178.0,1256.3 Z" stroke="#000" stroke-width="2.0" fill="none" stroke-linejoin="round" stroke-linecap="round" />
<path d="M1288.0,1247.0 L1298.0,1249.0 L1306.0,1255.0 L1316.0,1257.0 L1330.0,1261.0 L1342.0,1263.0 L1350.0,1265.0 L1358.0,1273.0 L1362.0,1281.0 L1370.0,1289.0 L1366.0,1290.0 L1358.0,1285.0 L1350.0,1279.0 L1342.0,1277.0 L1334.0,1279.0 L1326.0,1281.0 L1318.0,1273.0 L1314.0,1265.0 L1302.0,1263.0 L1292.0,1257.0 L1286.0,1253.0 Z" stroke="#000" stroke-width="2.0" fill="none" stroke-linejoin="round" stroke-linecap="round" />
<path d="M1486.0,1319.0 L1490.0,1316.0 L1496.0,1318.0 L1492.0,1322.0 L1487.0,1323.0 Z" stroke="#000" stroke-width="2.0" fill="none" stroke-linejoin="round" stroke-linecap="round" />
<path d="M1428.0,1334.0 L1434.0,1336.0 L1442.0,1341.0 L1440.0,1343.0 L1432.0,1340.0 Z" stroke="#000" stroke-width="2.0" fill="none" stroke-linejoin="round" stroke-linecap="round" />
<ellipse cx="388.5" cy="1165" rx="4.5" ry="2" fill="none" stroke="#000" stroke-width="2"/>
<ellipse cx="435" cy="1164.5" rx="4" ry="1.8" fill="none" stroke="#000" stroke-width="2"/>
<circle cx="328" cy="1246" r="1.6" fill="#000"/>
<circle cx="456" cy="1173" r="1.6" fill="#000"/>
<circle cx="459" cy="1180" r="1.6" fill="#000"/>
<circle cx="386" cy="1136" r="1.6" fill="#000"/>
<circle cx="388" cy="1138" r="1.6" fill="#000"/>
<circle cx="395" cy="1134" r="1.6" fill="#000"/>
<circle cx="398" cy="1136" r="1.6" fill="#000"/>
<circle cx="399" cy="1141" r="1.6" fill="#000"/>
<circle cx="402" cy="1144" r="1.6" fill="#000"/>
<circle cx="405" cy="1146" r="1.6" fill="#000"/>
<circle cx="408" cy="1149" r="1.6" fill="#000"/>
<circle cx="404" cy="1151" r="1.6" fill="#000"/>
<circle cx="960" cy="1337" r="1.6" fill="#000"/>
<circle cx="969" cy="1333" r="1.6" fill="#000"/>
<circle cx="1628" cy="1322" r="1.6" fill="#000"/>
<circle cx="1135.4" cy="1232.8" r="1.6" fill="#000"/>
<circle cx="1141" cy="1239.4" r="1.6" fill="#000"/>
<circle cx="1147.7" cy="1249.8" r="1.6" fill="#000"/>
<circle cx="1186.3" cy="1256.3" r="1.6" fill="#000"/>
<circle cx="1264.4" cy="1259.2" r="1.6" fill="#000"/>
<circle cx="1287" cy="1276" r="1.6" fill="#000"/>
<circle cx="1262" cy="1254" r="1.6" fill="#000"/>
<path d="M606.0,1244.4 L608.0,1243.9 L610.0,1243.4 L612.0,1243.0 L614.0,1242.5 L616.0,1242.0 L618.0,1241.5 L620.0,1241.0 L622.0,1240.5 L624.0,1240.1 L626.0,1239.6 L628.0,1239.1 L630.0,1238.6 L632.0,1238.1 L634.0,1237.7 L636.0,1237.2 L638.0,1236.7 L640.0,1236.2 L642.0,1235.8 L644.0,1235.3 L646.0,1234.8 L648.0,1234.3 L650.0,1233.8 L652.0,1233.4 L654.0,1232.9 L656.0,1232.4 L658.0,1232.0 L660.0,1231.5 L662.0,1231.0 L664.0,1230.5 L666.0,1230.1 L668.0,1229.6 L670.0,1229.1 L672.0,1228.7 L674.0,1228.2 L676.0,1227.8 L678.0,1227.3 L680.0,1226.8 L682.0,1226.4 L684.0,1225.9 L686.0,1225.5 L688.0,1225.0 L690.0,1224.5 L692.0,1224.1 L694.0,1223.6 L696.0,1223.2 L698.0,1222.7 L700.0,1222.3 L702.0,1221.9 L704.0,1221.4 L706.0,1221.0 L708.0,1220.5 L710.0,1220.1 L712.0,1219.7 L714.0,1219.2 L716.0,1218.8 L718.0,1218.4 L720.0,1217.9 L722.0,1217.5 L724.0,1217.1 L726.0,1216.7 L728.0,1216.2 L730.0,1215.8 L732.0,1215.4 L734.0,1215.0 L736.0,1214.6 L738.0,1214.2 L740.0,1213.8 L742.0,1213.3 L744.0,1212.9 L746.0,1212.5 L748.0,1212.1 L750.0,1211.7 L752.0,1211.3 L754.0,1211.0 L756.0,1210.6 L758.0,1210.2 L760.0,1209.8 L762.0,1209.4 L764.0,1209.0 L766.0,1208.6 L768.0,1208.3 L770.0,1207.9 L772.0,1207.5 L774.0,1207.2 L776.0,1206.8 L778.0,1206.4 L780.0,1206.1 L782.0,1205.7 L784.0,1205.4 L786.0,1205.0 L788.0,1204.7 L790.0,1204.3 L792.0,1204.0 L794.0,1203.6 L796.0,1203.3 L798.0,1203.0 L800.0,1202.6 L802.0,1202.3 L804.0,1202.0 L806.0,1201.7 L808.0,1201.3 L810.0,1201.0 L812.0,1200.7 L814.0,1200.4 L816.0,1200.1 L818.0,1199.8 L820.0,1199.5 L822.0,1199.2 L824.0,1198.9 L826.0,1198.6 L828.0,1198.3 L830.0,1198.0 L832.0,1197.8 L834.0,1197.5 L836.0,1197.2 L838.0,1196.9 L840.0,1196.7 L842.0,1196.4 L844.0,1196.2 L846.0,1195.9 L848.0,1195.7 L850.0,1195.4 L852.0,1195.2 L854.0,1194.9 L856.0,1194.7 L858.0,1194.4 L860.0,1194.2 L862.0,1194.0 L864.0,1193.8 L866.0,1193.5 L868.0,1193.3 L870.0,1193.1 L872.0,1192.9 L874.0,1192.7 L876.0,1192.5 L878.0,1192.3 L880.0,1192.1 L882.0,1191.9 L884.0,1191.7 L886.0,1191.6 L888.0,1191.4 L890.0,1191.2 L892.0,1191.0 L894.0,1190.9 L896.0,1190.7 L898.0,1190.5 L900.0,1190.4 L902.0,1190.2 L904.0,1190.1 L906.0,1190.0 L908.0,1189.8 L910.0,1189.7 L912.0,1189.6 L914.0,1189.4 L916.0,1189.3 L918.0,1189.2 L920.0,1189.1 L922.0,1189.0 L924.0,1188.9 L926.0,1188.8 L928.0,1188.7 L930.0,1188.6 L932.0,1188.5 L934.0,1188.4 L936.0,1188.3 L938.0,1188.2 L940.0,1188.2 L942.0,1188.1 L944.0,1188.0 L946.0,1188.0 L948.0,1187.9 L950.0,1187.9 L952.0,1187.8 L954.0,1187.8 L956.0,1187.7 L958.0,1187.7 L960.0,1187.7 L962.0,1187.6 L964.0,1187.6 L966.0,1187.6 L968.0,1187.6 L970.0,1187.6 L972.0,1187.6 L974.0,1187.6 L976.0,1187.6 L978.0,1187.6 L980.0,1187.6 L982.0,1187.6 L984.0,1187.6 L986.0,1187.7 L988.0,1187.7 L990.0,1187.7 L992.0,1187.8 L994.0,1187.8 L996.0,1187.9 L998.0,1187.9 L1000.0,1188.0 L1002.0,1188.0 L1004.0,1188.1 L1006.0,1188.2 L1008.0,1188.2 L1010.0,1188.3 L1012.0,1188.4 L1014.0,1188.5 L1016.0,1188.6 L1018.0,1188.7 L1020.0,1188.8 L1022.0,1188.9 L1024.0,1189.0 L1026.0,1189.1 L1028.0,1189.2 L1030.0,1189.3 L1032.0,1189.4 L1034.0,1189.6 L1036.0,1189.7 L1038.0,1189.8 L1040.0,1190.0 L1042.0,1190.1 L1044.0,1190.3 L1046.0,1190.4 L1048.0,1190.6 L1050.0,1190.8 L1052.0,1190.9 L1054.0,1191.1 L1056.0,1191.3 L1058.0,1191.4 L1060.0,1191.6 L1062.0,1191.8 L1064.0,1192.0 L1066.0,1192.2 L1068.0,1192.4 L1070.0,1192.6 L1072.0,1192.8 L1074.0,1193.0 L1076.0,1193.2 L1078.0,1193.4 L1080.0,1193.7 L1082.0,1193.9 L1084.0,1194.1 L1086.0,1194.4 L1088.0,1194.6 L1090.0,1194.8 L1092.0,1195.1 L1094.0,1195.3 L1096.0,1195.6 L1098.0,1195.8 L1100.0,1196.1 L1102.0,1196.4 L1104.0,1196.6 L1106.0,1196.9 L1108.0,1197.2 L1110.0,1197.5 L1112.0,1197.7 L1114.0,1198.0 L1116.0,1198.3 L1118.0,1198.6 L1120.0,1198.9 L1122.0,1199.2 L1124.0,1199.5 L1126.0,1199.8 L1128.0,1200.1 L1130.0,1200.5 L1132.0,1200.8 L1134.0,1201.1 L1136.0,1201.4 L1138.0,1201.8 L1140.0,1202.1 L1142.0,1202.4 L1144.0,1202.8 L1146.0,1203.1 L1148.0,1203.5 L1150.0,1203.8 L1152.0,1204.2 L1154.0,1204.5 L1156.0,1204.9 L1158.0,1205.2 L1160.0,1205.6 L1162.0,1206.0 L1164.0,1206.3 L1166.0,1206.7 L1168.0,1207.1 L1170.0,1207.5 L1172.0,1207.8 L1174.0,1208.2 L1176.0,1208.6 L1178.0,1209.0 L1180.0,1209.4 L1182.0,1209.8 L1184.0,1210.2 L1186.0,1210.6 L1188.0,1211.0 L1190.0,1211.4 L1192.0,1211.8 L1194.0,1212.2 L1196.0,1212.7 L1198.0,1213.1 L1200.0,1213.5 L1202.0,1213.9 L1204.0,1214.3 L1206.0,1214.8 L1208.0,1215.2 L1210.0,1215.6 L1212.0,1216.1 L1214.0,1216.5 L1216.0,1217.0 L1218.0,1217.4 L1220.0,1217.8 L1222.0,1218.3 L1224.0,1218.7 L1226.0,1219.2 L1228.0,1219.6 L1230.0,1220.1 L1232.0,1220.5 L1234.0,1221.0 L1236.0,1221.5 L1238.0,1221.9 L1240.0,1222.4 L1242.0,1222.9 L1244.0,1223.3 L1246.0,1223.8 L1248.0,1224.3 L1250.0,1224.7 L1252.0,1225.2 L1254.0,1225.7 L1256.0,1226.2 L1258.0,1226.6 L1260.0,1227.1 L1262.0,1227.6 L1264.0,1228.1 L1266.0,1228.6 L1268.0,1229.0 L1270.0,1229.5 L1272.0,1230.0 L1274.0,1230.5 L1276.0,1231.0 L1278.0,1231.5 L1280.0,1232.0 L1282.0,1232.5 L1284.0,1233.0 L1286.0,1233.5 L1288.0,1234.0 L1290.0,1234.5 L1292.0,1235.0 L1294.0,1235.5 L1296.0,1236.0 L1298.0,1236.5 L1300.0,1237.0 L1302.0,1237.5 L1304.0,1238.0 L1306.0,1238.5 L1308.0,1239.0 L1310.0,1239.5 L1312.0,1240.0 L1314.0,1240.5 L1316.0,1241.0 L1318.0,1241.5 L1320.0,1242.0 L1322.0,1242.5 L1324.0,1243.0 L1326.0,1243.5 L1328.0,1244.0 L1330.0,1244.5 L1332.0,1245.0 L1334.0,1245.5 L1336.0,1246.0 L1338.0,1246.5 L1340.0,1247.0 L1342.0,1247.5 L1344.0,1248.0 L1346.0,1248.6 L1348.0,1249.1 L1350.0,1249.6 L1352.0,1250.1 L1354.0,1250.6 L1356.0,1251.1 L1358.0,1251.6 L1360.0,1252.1 L1362.0,1252.6 L1364.0,1253.1 L1366.0,1253.6 L1368.0,1254.1 L1370.0,1254.6 L1372.0,1255.1 L1374.0,1255.6 L1376.0,1256.1 L1378.0,1256.5 L1380.0,1257.0 L1382.0,1257.5 L1384.0,1258.0 L1386.0,1258.5 L1388.0,1259.0 L1390.0,1259.5 L1392.0,1260.0 L1394.0,1260.5 L1396.0,1260.9 L1398.0,1261.4 L1400.0,1261.9 L1402.0,1262.4 L1404.0,1262.9 L1406.0,1263.3 L1408.0,1263.8 L1410.0,1264.3 L1412.0,1264.8 L1414.0,1265.2 L1416.0,1265.7 L1418.0,1266.2 L1420.0,1266.6 L1422.0,1267.1 L1424.0,1267.6 L1426.0,1268.0 L1428.0,1268.5 L1430.0,1268.9 L1432.0,1269.4 L1434.0,1269.9 L1436.0,1270.3 L1438.0,1270.8 L1440.0,1271.2 L1442.0,1271.6 L1444.0,1272.1 L1446.0,1272.5 L1448.0,1273.0 L1450.0,1273.4 L1452.0,1273.8 L1454.0,1274.3 L1456.0,1274.7 L1458.0,1275.1 L1460.0,1275.5 L1462.0,1276.0 L1464.0,1276.4 L1466.0,1276.8 L1468.0,1277.2 L1470.0,1277.6 L1472.0,1278.0 L1474.0,1278.4 L1476.0,1278.8 L1478.0,1279.2 L1480.0,1279.6 L1482.0,1280.0 L1484.0,1280.4 L1486.0,1280.8 L1488.0,1281.2 L1490.0,1281.6 L1492.0,1282.0 L1494.0,1282.3 L1496.0,1282.7 L1498.0,1283.1 L1500.0,1283.4 L1502.0,1283.8 L1504.0,1284.2 L1506.0,1284.5 L1508.0,1284.9 L1510.0,1285.2 L1512.0,1285.6 L1514.0,1285.9 L1516.0,1286.3 L1518.0,1286.6 L1520.0,1286.9 L1522.0,1287.3 L1524.0,1287.6 L1526.0,1287.9 L1528.0,1288.3 L1530.0,1288.6 L1532.0,1288.9 L1534.0,1289.2 L1536.0,1289.5 L1538.0,1289.8 L1540.0,1290.1 L1542.0,1290.4 L1544.0,1290.7 L1546.0,1291.0 L1548.0,1291.3 L1550.0,1291.6 L1552.0,1291.8 L1554.0,1292.1 L1556.0,1292.4 L1558.0,1292.7 L1560.0,1292.9 L1562.0,1293.2 L1564.0,1293.4 L1566.0,1293.7 L1568.0,1293.9 L1570.0,1294.2 L1572.0,1294.4 L1574.0,1294.7 L1576.0,1294.9 L1578.0,1295.1 L1580.0,1295.3 L1582.0,1295.6 L1584.0,1295.8 L1586.0,1296.0 L1588.0,1296.2 L1590.0,1296.4 L1592.0,1296.6 L1594.0,1296.8 L1596.0,1297.0 L1598.0,1297.2 L1600.0,1297.4 L1602.0,1297.6 L1604.0,1297.7 L1606.0,1297.9 L1608.0,1298.1 L1610.0,1298.2 L1612.0,1298.4 L1614.0,1298.5 L1616.0,1298.7 L1618.0,1298.8 L1620.0,1299.0 L1622.0,1299.1 L1624.0,1299.3 L1626.0,1299.4 L1628.0,1299.5 L1630.0,1299.6 L1632.0,1299.8 L1634.0,1299.9 L1636.0,1300.0 L1638.0,1300.1 L1640.0,1300.2 L1642.0,1300.3 L1644.0,1300.4 L1646.0,1300.5 L1648.0,1300.5 L1650.0,1300.6 L1652.0,1300.7 L1654.0,1300.8 L1656.0,1300.8 L1658.0,1300.9 L1660.0,1300.9 L1662.0,1301.0 L1664.0,1301.0 L1666.0,1301.1 L1668.0,1301.1 L1670.0,1301.2 L1672.0,1301.2 L1674.0,1301.2 L1676.0,1301.2 L1678.0,1301.3 L1680.0,1301.3 L1682.0,1301.3 L1684.0,1301.3 L1686.0,1301.3 L1688.0,1301.3 L1690.0,1301.3 L1692.0,1301.3 L1694.0,1301.2 L1696.0,1301.2 L1698.0,1301.2 L1700.0,1301.2 L1702.0,1301.1 L1704.0,1301.1 L1706.0,1301.1 L1708.0,1301.0 L1710.0,1301.0 L1712.0,1300.9 L1714.0,1300.8 L1716.0,1300.8 L1718.0,1300.7 L1720.0,1300.6 L1722.0,1300.6 L1724.0,1300.5 L1726.0,1300.4 L1728.0,1300.3 L1730.0,1300.2 L1732.0,1300.1 L1734.0,1300.0 L1736.0,1299.9 L1738.0,1299.8 L1740.0,1299.7 L1742.0,1299.6 L1744.0,1299.4 L1746.0,1299.3 L1748.0,1299.2 L1750.0,1299.0 L1752.0,1298.9 L1754.0,1298.8 L1756.0,1298.6 L1758.0,1298.5 L1760.0,1298.3 L1762.0,1298.2 L1764.0,1298.0 L1766.0,1297.8 L1768.0,1297.7 L1770.0,1297.5 L1772.0,1297.3 L1774.0,1297.1 L1776.0,1296.9 L1778.0,1296.7 L1780.0,1296.5 L1782.0,1296.3 L1784.0,1296.1 L1786.0,1295.9 L1788.0,1295.7 L1790.0,1295.5 L1792.0,1295.3 L1794.0,1295.1 L1796.0,1294.8 L1798.0,1294.6 L1800.0,1294.4 L1802.0,1294.2 L1804.0,1293.9 L1806.0,1293.7 L1808.0,1293.4 L1810.0,1293.2" stroke="#c8101e" stroke-width="1.2" fill="none" stroke-linejoin="round" stroke-linecap="round" />
<path d="M260.0,1293.2 L262.0,1292.9 L264.0,1292.7 L266.0,1292.4 L268.0,1292.1 L270.0,1291.9 L272.0,1291.6 L274.0,1291.3 L276.0,1291.0 L278.0,1290.8 L280.0,1290.5 L282.0,1290.2 L284.0,1289.9 L286.0,1289.6 L288.0,1289.3 L290.0,1289.0 L292.0,1288.7 L294.0,1288.4 L296.0,1288.1 L298.0,1287.8 L300.0,1287.4 L302.0,1287.1 L304.0,1286.8 L306.0,1286.5 L308.0,1286.1 L310.0,1285.8 L312.0,1285.5 L314.0,1285.1 L316.0,1284.8 L318.0,1284.4 L320.0,1284.1 L322.0,1283.7 L324.0,1283.4 L326.0,1283.0 L328.0,1282.7 L330.0,1282.3 L332.0,1281.9 L334.0,1281.6 L336.0,1281.2 L338.0,1280.8 L340.0,1280.5 L342.0,1280.1 L344.0,1279.7 L346.0,1279.3 L348.0,1278.9 L350.0,1278.5 L352.0,1278.2 L354.0,1277.8 L356.0,1277.4 L358.0,1277.0 L360.0,1276.6 L362.0,1276.2 L364.0,1275.8 L366.0,1275.4 L368.0,1274.9 L370.0,1274.5 L372.0,1274.1 L374.0,1273.7 L376.0,1273.3 L378.0,1272.9 L380.0,1272.5 L382.0,1272.0 L384.0,1271.6 L386.0,1271.2 L388.0,1270.7 L390.0,1270.3 L392.0,1269.9 L394.0,1269.4 L396.0,1269.0 L398.0,1268.6 L400.0,1268.1 L402.0,1267.7 L404.0,1267.2 L406.0,1266.8 L408.0,1266.4 L410.0,1265.9 L412.0,1265.5 L414.0,1265.0 L416.0,1264.6 L418.0,1264.1 L420.0,1263.6 L422.0,1263.2 L424.0,1262.7 L426.0,1262.3 L428.0,1261.8 L430.0,1261.4 L432.0,1260.9 L434.0,1260.4 L436.0,1260.0 L438.0,1259.5 L440.0,1259.0 L442.0,1258.6 L444.0,1258.1 L446.0,1257.6 L448.0,1257.1 L450.0,1256.7 L452.0,1256.2 L454.0,1255.7 L456.0,1255.3 L458.0,1254.8 L460.0,1254.3 L462.0,1253.8 L464.0,1253.4 L466.0,1252.9 L468.0,1252.4 L470.0,1251.9 L472.0,1251.4 L474.0,1251.0 L476.0,1250.5 L478.0,1250.0 L480.0,1249.5 L482.0,1249.0 L484.0,1248.6 L486.0,1248.1 L488.0,1247.6 L490.0,1247.1 L492.0,1246.6 L494.0,1246.1 L496.0,1245.7 L498.0,1245.2 L500.0,1244.7" stroke="#c8101e" stroke-width="1.2" fill="none" stroke-linejoin="round" stroke-linecap="round" />
<path d="M259.0,1276.0 L316.0,1287.0 L358.0,1294.0 L390.0,1297.5 L398.0,1298.0 L440.0,1286.0 L464.0,1282.0 L500.0,1264.0 L524.0,1251.0 L552.0,1236.0 L590.0,1215.0 L620.0,1207.0 L654.0,1199.0 L680.0,1197.0 L720.0,1195.6 L760.0,1196.4 L800.0,1199.0 L840.0,1203.5 L880.0,1208.0 L920.0,1212.4 L960.0,1213.0 L1000.0,1212.6 L1040.0,1211.4 L1070.0,1211.0 L1098.0,1209.0 L1130.0,1208.6 L1170.0,1210.0 L1210.0,1210.0 L1270.0,1208.0 L1320.0,1208.6 L1360.0,1210.0 L1390.0,1215.0 L1430.0,1221.0 L1460.0,1225.0 L1540.0,1239.0 L1620.0,1250.0 L1700.0,1261.0 L1811.0,1276.0" stroke="#06f412" stroke-width="5.8" fill="none" stroke-linejoin="round" stroke-linecap="round" />
<path d="M831.0,1197.91 L831.5,1197.84 L832.0,1197.77 L832.5,1197.70 L833.0,1197.63 L833.5,1197.56 L834.0,1197.49 L834.5,1197.42 L835.0,1197.35 L835.5,1197.29 L836.0,1197.22 L836.5,1197.15 L837.0,1197.08 L837.5,1197.01 L838.0,1196.95 L838.5,1196.88 L839.0,1196.81 L839.5,1196.75 L840.0,1196.68 L840.5,1196.62 L841.0,1196.55 L841.5,1196.48 L842.0,1196.42 L842.5,1196.35 L843.0,1196.29 L843.5,1196.22 L844.0,1196.16 L844.5,1196.10 L845.0,1196.03 L845.5,1195.97 L846.0,1195.90 L846.5,1195.84 L847.0,1195.78 L847.5,1195.71 L848.0,1195.65 L848.5,1195.59 L849.0,1195.53 L849.5,1195.46 L850.0,1195.40 L850.5,1195.34 L851.0,1195.28 L851.5,1195.22 L852.0,1195.16 L852.5,1195.10 L853.0,1195.04 L853.5,1194.98 L854.0,1194.92 L854.5,1194.86 L855.0,1194.80 L855.5,1194.74 L856.0,1194.68 L856.5,1194.62 L857.0,1194.56 L857.5,1194.50 L858.0,1194.44 L858.5,1194.39 L859.0,1194.33 L859.5,1194.27 L860.0,1194.21 L860.5,1194.16 L861.0,1194.10 L861.5,1194.04 L862.0,1193.99 L862.5,1193.93 L863.0,1193.87 L863.5,1193.82 L864.0,1193.76 L864.5,1193.71 L865.0,1193.65 L865.5,1193.60 L866.0,1193.54 L866.5,1193.49 L867.0,1193.44 L867.5,1193.38 L868.0,1193.33 L868.5,1193.27 L869.0,1193.22 L869.5,1193.17 L870.0,1193.12 L870.5,1193.06 L871.0,1193.01 L871.5,1192.96 L872.0,1192.91 L872.5,1192.86 L873.0,1192.80 L873.5,1192.75 L874.0,1192.70 L874.5,1192.65 L875.0,1192.60 L875.5,1192.55 L876.0,1192.50 L876.5,1192.45 L877.0,1192.40 L877.5,1192.35 L878.0,1192.31 L878.5,1192.26 L879.0,1192.21 L879.5,1192.16 L880.0,1192.11 L880.5,1192.06 L881.0,1192.02 L881.5,1191.97 L882.0,1191.92 L882.5,1191.88 L883.0,1191.83 L883.5,1191.78 L884.0,1191.74 L884.5,1191.69 L885.0,1191.65 L885.5,1191.60 L886.0,1191.56 L886.5,1191.51 L887.0,1191.47 L887.5,1191.42 L888.0,1191.38 L888.5,1191.33 L889.0,1191.29 L889.5,1191.25 L890.0,1191.20 L890.5,1191.16 L891.0,1191.12 L891.5,1191.08 L892.0,1191.03 L892.5,1190.99 L893.0,1190.95 L893.5,1190.91 L894.0,1190.87 L894.5,1190.83 L895.0,1190.79 L895.5,1190.75 L896.0,1190.71 L896.5,1190.67 L897.0,1190.63 L897.5,1190.59 L898.0,1190.55 L898.5,1190.51 L899.0,1190.47 L899.5,1190.43 L900.0,1190.39 L900.5,1190.36 L901.0,1190.32 L901.5,1190.28 L902.0,1190.24 L902.5,1190.21 L903.0,1190.17 L903.5,1190.13 L904.0,1190.10 L904.5,1190.06 L905.0,1190.03 L905.5,1189.99 L906.0,1189.96 L906.5,1189.92 L907.0,1189.89 L907.5,1189.85 L908.0,1189.82 L908.5,1189.78 L909.0,1189.75 L909.5,1189.72 L910.0,1189.68 L910.5,1189.65 L911.0,1189.62 L911.5,1189.59 L912.0,1189.55 L912.5,1189.52 L913.0,1189.49 L913.5,1189.46 L914.0,1189.43 L914.5,1189.40 L915.0,1189.37 L915.5,1189.34 L916.0,1189.31 L916.5,1189.28 L917.0,1189.25 L917.5,1189.22 L918.0,1189.19 L918.5,1189.16 L919.0,1189.13 L919.5,1189.10 L920.0,1189.07 L920.5,1189.05 L921.0,1189.02 L921.5,1188.99 L922.0,1188.96 L922.5,1188.94 L923.0,1188.91 L923.5,1188.88 L924.0,1188.86 L924.5,1188.83 L925.0,1188.81 L925.5,1188.78 L926.0,1188.76 L926.5,1188.73 L927.0,1188.71 L927.5,1188.68 L928.0,1188.66 L928.5,1188.64 L929.0,1188.61 L929.5,1188.59 L930.0,1188.57 L930.5,1188.54 L931.0,1188.52 L931.5,1188.50 L932.0,1188.48 L932.5,1188.46 L933.0,1188.44 L933.5,1188.41 L934.0,1188.39 L934.5,1188.37 L935.0,1188.35 L935.5,1188.33 L936.0,1188.31 L936.5,1188.29 L937.0,1188.27 L937.5,1188.26 L938.0,1188.24 L938.5,1188.22 L939.0,1188.20 L939.5,1188.18 L940.0,1188.16 L940.5,1188.15 L941.0,1188.13 L941.5,1188.11 L942.0,1188.10 L942.5,1188.08 L943.0,1188.06 L943.5,1188.05 L944.0,1188.03 L944.5,1188.02 L945.0,1188.00 L945.5,1187.99 L946.0,1187.97 L946.5,1187.96 L947.0,1187.94 L947.5,1187.93 L948.0,1187.92 L948.5,1187.90 L949.0,1187.89 L949.5,1187.88 L950.0,1187.87 L950.5,1187.85 L951.0,1187.84 L951.5,1187.83 L952.0,1187.82 L952.5,1187.81 L953.0,1187.80 L953.5,1187.79 L954.0,1187.78 L954.5,1187.77 L955.0,1187.76 L955.5,1187.75 L956.0,1187.74 L956.5,1187.73 L957.0,1187.72 L957.5,1187.71 L958.0,1187.70 L958.5,1187.70 L959.0,1187.69 L959.5,1187.68 L960.0,1187.67 L960.5,1187.67 L961.0,1187.66 L961.5,1187.65 L962.0,1187.65 L962.5,1187.64 L963.0,1187.64 L963.5,1187.63 L964.0,1187.63 L964.5,1187.62 L965.0,1187.62 L965.5,1187.61 L966.0,1187.61 L966.5,1187.61 L967.0,1187.60 L967.5,1187.60 L968.0,1187.60 L968.5,1187.59 L969.0,1187.59 L969.5,1187.59 L970.0,1187.59 L970.5,1187.59 L971.0,1187.59 L971.5,1187.59 L972.0,1187.58 L972.5,1187.58 L973.0,1187.58 L973.5,1187.58 L974.0,1187.58 L974.5,1187.59 L975.0,1187.59 L975.5,1187.59 L976.0,1187.59 L976.5,1187.59 L977.0,1187.59 L977.5,1187.59 L978.0,1187.60 L978.5,1187.60 L979.0,1187.60 L979.5,1187.61 L980.0,1187.61 L980.5,1187.61 L981.0,1187.62 L981.5,1187.62 L982.0,1187.63 L982.5,1187.63 L983.0,1187.64 L983.5,1187.64 L984.0,1187.65 L984.5,1187.65 L985.0,1187.66 L985.5,1187.67 L986.0,1187.67 L986.5,1187.68 L987.0,1187.69 L987.5,1187.70 L988.0,1187.70 L988.5,1187.71 L989.0,1187.72 L989.5,1187.73 L990.0,1187.74 L990.5,1187.75 L991.0,1187.76 L991.5,1187.77 L992.0,1187.78 L992.5,1187.79 L993.0,1187.80 L993.5,1187.81 L994.0,1187.82 L994.5,1187.83 L995.0,1187.84 L995.5,1187.86 L996.0,1187.87 L996.5,1187.88 L997.0,1187.89 L997.5,1187.91 L998.0,1187.92 L998.5,1187.93 L999.0,1187.95 L999.5,1187.96 L1000.0,1187.97 L1000.5,1187.99 L1001.0,1188.00 L1001.5,1188.02 L1002.0,1188.03 L1002.5,1188.05 L1003.0,1188.07 L1003.5,1188.08 L1004.0,1188.10 L1004.5,1188.12 L1005.0,1188.13 L1005.5,1188.15 L1006.0,1188.17 L1006.5,1188.19 L1007.0,1188.20 L1007.5,1188.22 L1008.0,1188.24 L1008.5,1188.26 L1009.0,1188.28 L1009.5,1188.30 L1010.0,1188.32 L1010.5,1188.34 L1011.0,1188.36 L1011.5,1188.38 L1012.0,1188.40 L1012.5,1188.42 L1013.0,1188.44 L1013.5,1188.46 L1014.0,1188.48 L1014.5,1188.51 L1015.0,1188.53 L1015.5,1188.55 L1016.0,1188.57 L1016.5,1188.60 L1017.0,1188.62 L1017.5,1188.64 L1018.0,1188.67 L1018.5,1188.69 L1019.0,1188.72 L1019.5,1188.74 L1020.0,1188.77 L1020.5,1188.79 L1021.0,1188.82 L1021.5,1188.84 L1022.0,1188.87 L1022.5,1188.90 L1023.0,1188.92 L1023.5,1188.95 L1024.0,1188.98 L1024.5,1189.00 L1025.0,1189.03 L1025.5,1189.06 L1026.0,1189.09 L1026.5,1189.12 L1027.0,1189.15 L1027.5,1189.17 L1028.0,1189.20 L1028.5,1189.23 L1029.0,1189.26 L1029.5,1189.29 L1030.0,1189.32 L1030.5,1189.35 L1031.0,1189.38 L1031.5,1189.42 L1032.0,1189.45 L1032.5,1189.48 L1033.0,1189.51 L1033.5,1189.54 L1034.0,1189.58 L1034.5,1189.61 L1035.0,1189.64 L1035.5,1189.67 L1036.0,1189.71 L1036.5,1189.74 L1037.0,1189.78 L1037.5,1189.81 L1038.0,1189.84 L1038.5,1189.88 L1039.0,1189.91 L1039.5,1189.95 L1040.0,1189.99 L1040.5,1190.02 L1041.0,1190.06 L1041.5,1190.09 L1042.0,1190.13 L1042.5,1190.17 L1043.0,1190.20 L1043.5,1190.24 L1044.0,1190.28 L1044.5,1190.32 L1045.0,1190.36 L1045.5,1190.39 L1046.0,1190.43 L1046.5,1190.47 L1047.0,1190.51 L1047.5,1190.55 L1048.0,1190.59 L1048.5,1190.63 L1049.0,1190.67 L1049.5,1190.71 L1050.0,1190.75 L1050.5,1190.79 L1051.0,1190.83 L1051.5,1190.88 L1052.0,1190.92 L1052.5,1190.96 L1053.0,1191.00 L1053.5,1191.04 L1054.0,1191.09 L1054.5,1191.13 L1055.0,1191.17 L1055.5,1191.22 L1056.0,1191.26 L1056.5,1191.30 L1057.0,1191.35 L1057.5,1191.39 L1058.0,1191.44 L1058.5,1191.48 L1059.0,1191.53 L1059.5,1191.57 L1060.0,1191.62 L1060.5,1191.67 L1061.0,1191.71 L1061.5,1191.76 L1062.0,1191.81 L1062.5,1191.85 L1063.0,1191.90 L1063.5,1191.95 L1064.0,1192.00 L1064.5,1192.05 L1065.0,1192.09 L1065.5,1192.14 L1066.0,1192.19 L1066.5,1192.24 L1067.0,1192.29 L1067.5,1192.34 L1068.0,1192.39 L1068.5,1192.44 L1069.0,1192.49 L1069.5,1192.54 L1070.0,1192.59 L1070.5,1192.64 L1071.0,1192.70 L1071.5,1192.75 L1072.0,1192.80 L1072.5,1192.85 L1073.0,1192.90 L1073.5,1192.96 L1074.0,1193.01 L1074.5,1193.06 L1075.0,1193.12 L1075.5,1193.17 L1076.0,1193.22 L1076.5,1193.28 L1077.0,1193.33 L1077.5,1193.39 L1078.0,1193.44 L1078.5,1193.50 L1079.0,1193.55 L1079.5,1193.61 L1080.0,1193.66 L1080.5,1193.72 L1081.0,1193.78 L1081.5,1193.83 L1082.0,1193.89 L1082.5,1193.95 L1083.0,1194.01 L1083.5,1194.06 L1084.0,1194.12 L1084.5,1194.18 L1085.0,1194.24 L1085.5,1194.30 L1086.0,1194.35 L1086.5,1194.41 L1087.0,1194.47 L1087.5,1194.53 L1088.0,1194.59 L1088.5,1194.65 L1089.0,1194.71 L1089.5,1194.77 L1090.0,1194.83 L1090.5,1194.90 L1091.0,1194.96 L1091.5,1195.02 L1092.0,1195.08 L1092.5,1195.14 L1093.0,1195.20 L1093.5,1195.27 L1094.0,1195.33 L1094.5,1195.39 L1095.0,1195.46 L1095.5,1195.52 L1096.0,1195.58 L1096.5,1195.65 L1097.0,1195.71 L1097.5,1195.78 L1098.0,1195.84 L1098.5,1195.91 L1099.0,1195.97 L1099.5,1196.04 L1100.0,1196.10 L1100.5,1196.17 L1101.0,1196.23 L1101.5,1196.30 L1102.0,1196.37 L1102.5,1196.43 L1103.0,1196.50 L1103.5,1196.57 L1104.0,1196.64 L1104.5,1196.70 L1105.0,1196.77 L1105.5,1196.84 L1106.0,1196.91 L1106.5,1196.98 L1107.0,1197.04 L1107.5,1197.11 L1108.0,1197.18 L1108.5,1197.25 L1109.0,1197.32 L1109.5,1197.39 L1110.0,1197.46 L1110.5,1197.53 L1111.0,1197.60 L1111.5,1197.68 L1112.0,1197.75 L1112.5,1197.82 L1113.0,1197.89 L1113.5,1197.96 L1114.0,1198.03 L1114.5,1198.11 L1115.0,1198.18 L1115.5,1198.25 L1116.0,1198.32 L1116.5,1198.40 L1117.0,1198.47 L1117.5,1198.54 L1118.0,1198.62 L1118.5,1198.69 L1119.0,1198.77 L1119.5,1198.84 L1120.0,1198.92 L1120.5,1198.99 L1121.0,1199.07 L1121.5,1199.14 L1122.0,1199.22 L1122.5,1199.29 L1123.0,1199.37 L1123.5,1199.45 L1124.0,1199.52 L1124.5,1199.60 L1125.0,1199.68 L1125.5,1199.75 L1126.0,1199.83 L1126.5,1199.91 L1127.0,1199.99 L1127.5,1200.07 L1128.0,1200.14 L1128.5,1200.22 L1129.0,1200.30 L1129.5,1200.38 L1130.0,1200.46 L1130.5,1200.54 L1131.0,1200.62 L1131.5,1200.70 L1132.0,1200.78 L1132.5,1200.86 L1133.0,1200.94 L1133.5,1201.02 L1134.0,1201.10 L1134.5,1201.18 L1135.0,1201.26 L1135.5,1201.34 L1136.0,1201.43 L1136.5,1201.51 L1137.0,1201.59 L1137.5,1201.67 L1138.0,1201.76 L1138.5,1201.84 L1139.0,1201.92 L1139.5,1202.00 L1140.0,1202.09 L1140.5,1202.17 L1141.0,1202.26 L1141.5,1202.34 L1142.0,1202.42 L1142.5,1202.51 L1143.0,1202.59 L1143.5,1202.68 L1144.0,1202.76 L1144.5,1202.85 L1145.0,1202.93 L1145.5,1203.02 L1146.0,1203.11 L1146.5,1203.19 L1147.0,1203.28 L1147.5,1203.36 L1148.0,1203.45 L1148.5,1203.54 L1149.0,1203.63 L1149.5,1203.71 L1150.0,1203.80 L1150.5,1203.89 L1151.0,1203.98 L1151.5,1204.06 L1152.0,1204.15 L1152.5,1204.24 L1153.0,1204.33 L1153.5,1204.42 L1154.0,1204.51 L1154.5,1204.60 L1155.0,1204.69 L1155.5,1204.78 L1156.0,1204.87 L1156.5,1204.96 L1157.0,1205.05 L1157.5,1205.14 L1158.0,1205.23 L1158.5,1205.32 L1159.0,1205.41 L1159.5,1205.50 L1160.0,1205.59 L1160.5,1205.69 L1161.0,1205.78 L1161.5,1205.87 L1162.0,1205.96 L1162.5,1206.05 L1163.0,1206.15 L1163.5,1206.24 L1164.0,1206.33 L1164.5,1206.43 L1165.0,1206.52 L1165.5,1206.61 L1166.0,1206.71 L1166.5,1206.80 L1167.0,1206.89 L1167.5,1206.99 L1168.0,1207.08 L1168.5,1207.18 L1169.0,1207.27 L1169.5,1207.37 L1170.0,1207.46 L1170.5,1207.56 L1171.0,1207.65 L1171.5,1207.75 L1172.0,1207.85 L1172.5,1207.94 L1173.0,1208.04 L1173.5,1208.14 L1174.0,1208.23 L1174.5,1208.33 L1175.0,1208.43 L1175.5,1208.52 L1176.0,1208.62 L1176.5,1208.72 L1177.0,1208.82 L1177.5,1208.91 L1178.0,1209.01 L1178.5,1209.11 L1179.0,1209.21 L1179.5,1209.31 L1180.0,1209.41 L1180.5,1209.51 L1181.0,1209.60 L1181.5,1209.70 L1182.0,1209.80 L1182.5,1209.90 L1183.0,1210.00 L1183.5,1210.10 L1184.0,1210.20 L1184.5,1210.30 L1185.0,1210.40 L1185.5,1210.50 L1186.0,1210.61 L1186.5,1210.71 L1187.0,1210.81 L1187.5,1210.91 L1188.0,1211.01 L1188.5,1211.11 L1189.0,1211.21 L1189.5,1211.32 L1190.0,1211.42 L1190.5,1211.52 L1191.0,1211.62 L1191.5,1211.73 L1192.0,1211.83 L1192.5,1211.93 L1193.0,1212.04 L1193.5,1212.14 L1194.0,1212.24 L1194.5,1212.35 L1195.0,1212.45 L1195.5,1212.55 L1196.0,1212.66 L1196.5,1212.76 L1197.0,1212.87 L1197.5,1212.97 L1198.0,1213.08 L1198.5,1213.18 L1199.0,1213.29 L1199.5,1213.39 L1200.0,1213.50 L1200.5,1213.60 L1201.0,1213.71 L1201.5,1213.81 L1202.0,1213.92 L1202.5,1214.03 L1203.0,1214.13 L1203.5,1214.24 L1204.0,1214.35 L1204.5,1214.45 L1205.0,1214.56 L1205.5,1214.67 L1206.0,1214.77 L1206.5,1214.88 L1207.0,1214.99 L1207.5,1215.10 L1208.0,1215.21 L1208.5,1215.31 L1209.0,1215.42 L1209.5,1215.53 L1210.0,1215.64 L1210.5,1215.75 L1211.0,1215.86 L1211.5,1215.96 L1212.0,1216.07 L1212.5,1216.18 L1213.0,1216.29 L1213.5,1216.40 L1214.0,1216.51 L1214.5,1216.62 L1215.0,1216.73 L1215.5,1216.84 L1216.0,1216.95 L1216.5,1217.06 L1217.0,1217.17 L1217.5,1217.28 L1218.0,1217.39 L1218.5,1217.50 L1219.0,1217.61 L1219.5,1217.72 L1220.0,1217.84 L1220.5,1217.95 L1221.0,1218.06 L1221.5,1218.17 L1222.0,1218.28 L1222.5,1218.39 L1223.0,1218.51 L1223.5,1218.62 L1224.0,1218.73 L1224.5,1218.84 L1225.0,1218.96 L1225.5,1219.07 L1226.0,1219.18 L1226.5,1219.29 L1227.0,1219.41 L1227.5,1219.52 L1228.0,1219.63 L1228.5,1219.75 L1229.0,1219.86 L1229.5,1219.97 L1230.0,1220.09 L1230.5,1220.20 L1231.0,1220.32 L1231.5,1220.43 L1232.0,1220.54 L1232.5,1220.66 L1233.0,1220.77 L1233.5,1220.89 L1234.0,1221.00 L1234.5,1221.12 L1235.0,1221.23 L1235.5,1221.35 L1236.0,1221.46 L1236.5,1221.58 L1237.0,1221.69 L1237.5,1221.81 L1238.0,1221.92 L1238.5,1222.04 L1239.0,1222.16 L1239.5,1222.27 L1240.0,1222.39 L1240.5,1222.50 L1241.0,1222.62 L1241.5,1222.74 L1242.0,1222.85 L1242.5,1222.97 L1243.0,1223.09 L1243.5,1223.20 L1244.0,1223.32 L1244.5,1223.44 L1245.0,1223.55 L1245.5,1223.67 L1246.0,1223.79 L1246.5,1223.91 L1247.0,1224.02 L1247.5,1224.14 L1248.0,1224.26 L1248.5,1224.38 L1249.0,1224.50 L1249.5,1224.61 L1250.0,1224.73 L1250.5,1224.85 L1251.0,1224.97 L1251.5,1225.09 L1252.0,1225.21 L1252.5,1225.32 L1253.0,1225.44 L1253.5,1225.56 L1254.0,1225.68 L1254.5,1225.80 L1255.0,1225.92 L1255.5,1226.04 L1256.0,1226.16 L1256.5,1226.28 L1257.0,1226.40 L1257.5,1226.52 L1258.0,1226.64 L1258.5,1226.76 L1259.0,1226.88 L1259.5,1227.00 L1260.0,1227.12 L1260.5,1227.24 L1261.0,1227.36 L1261.5,1227.48 L1262.0,1227.60 L1262.5,1227.72 L1263.0,1227.84 L1263.5,1227.96 L1264.0,1228.08 L1264.5,1228.20 L1265.0,1228.32 L1265.5,1228.44 L1266.0,1228.56 L1266.5,1228.69 L1267.0,1228.81 L1267.5,1228.93 L1268.0,1229.05 L1268.5,1229.17 L1269.0,1229.29 L1269.5,1229.41 L1270.0,1229.54 L1270.5,1229.66 L1271.0,1229.78 L1271.5,1229.90 L1272.0,1230.02 L1272.5,1230.15 L1273.0,1230.27 L1273.5,1230.39 L1274.0,1230.51 L1274.5,1230.63 L1275.0,1230.76 L1275.5,1230.88 L1276.0,1231.00 L1276.5,1231.12 L1277.0,1231.25 L1277.5,1231.37 L1278.0,1231.49 L1278.5,1231.62 L1279.0,1231.74 L1279.5,1231.86 L1280.0,1231.99 L1280.5,1232.11 L1281.0,1232.23 L1281.5,1232.36 L1282.0,1232.48 L1282.5,1232.60 L1283.0,1232.73 L1283.5,1232.85 L1284.0,1232.97 L1284.5,1233.10 L1285.0,1233.22 L1285.5,1233.34 L1286.0,1233.47 L1286.5,1233.59 L1287.0,1233.72 L1287.5,1233.84 L1288.0,1233.96 L1288.5,1234.09 L1289.0,1234.21 L1289.5,1234.34 L1290.0,1234.46 L1290.5,1234.58 L1291.0,1234.71 L1291.5,1234.83 L1292.0,1234.96 L1292.5,1235.08 L1293.0,1235.21 L1293.5,1235.33 L1294.0,1235.46 L1294.5,1235.58 L1295.0,1235.71 L1295.5,1235.83 L1296.0,1235.96 L1296.5,1236.08 L1297.0,1236.20 L1297.5,1236.33 L1298.0,1236.45 L1298.5,1236.58 L1299.0,1236.70 L1299.5,1236.83 L1300.0,1236.96 L1300.5,1237.08 L1301.0,1237.21 L1301.5,1237.33 L1302.0,1237.46 L1302.5,1237.58 L1303.0,1237.71 L1303.5,1237.83 L1304.0,1237.96 L1304.5,1238.08 L1305.0,1238.21 L1305.5,1238.33 L1306.0,1238.46 L1306.5,1238.59 L1307.0,1238.71 L1307.5,1238.84 L1308.0,1238.96 L1308.5,1239.09 L1309.0,1239.21 L1309.5,1239.34 L1310.0,1239.47 L1310.5,1239.59 L1311.0,1239.72 L1311.5,1239.84 L1312.0,1239.97 L1312.5,1240.10 L1313.0,1240.22 L1313.5,1240.35 L1314.0,1240.47 L1314.5,1240.60 L1315.0,1240.73 L1315.5,1240.85 L1316.0,1240.98 L1316.5,1241.10 L1317.0,1241.23 L1317.5,1241.36 L1318.0,1241.48 L1318.5,1241.61 L1319.0,1241.73 L1319.5,1241.86 L1320.0,1241.99 L1320.5,1242.11 L1321.0,1242.24 L1321.5,1242.37 L1322.0,1242.49 L1322.5,1242.62 L1323.0,1242.74 L1323.5,1242.87 L1324.0,1243.00 L1324.5,1243.12 L1325.0,1243.25 L1325.5,1243.38 L1326.0,1243.50 L1326.5,1243.63 L1327.0,1243.75 L1327.5,1243.88 L1328.0,1244.01 L1328.5,1244.13 L1329.0,1244.26 L1329.5,1244.39 L1330.0,1244.51 L1330.5,1244.64 L1331.0,1244.76 L1331.5,1244.89 L1332.0,1245.02 L1332.5,1245.14 L1333.0,1245.27 L1333.5,1245.40 L1334.0,1245.52 L1334.5,1245.65 L1335.0,1245.78 L1335.5,1245.90 L1336.0,1246.03 L1336.5,1246.15 L1337.0,1246.28 L1337.5,1246.41 L1338.0,1246.53 L1338.5,1246.66 L1339.0,1246.79 L1339.5,1246.91 L1340.0,1247.04 L1340.5,1247.16 L1341.0,1247.29 L1341.5,1247.42 L1342.0,1247.54 L1342.5,1247.67 L1343.0,1247.80 L1343.5,1247.92 L1344.0,1248.05 L1344.5,1248.17 L1345.0,1248.30 L1345.5,1248.43 L1346.0,1248.55 L1346.5,1248.68 L1347.0,1248.80 L1347.5,1248.93 L1348.0,1249.06 L1348.5,1249.18 L1349.0,1249.31 L1349.5,1249.43 L1350.0,1249.56 L1350.5,1249.69 L1351.0,1249.81 L1351.5,1249.94 L1352.0,1250.06 L1352.5,1250.19 L1353.0,1250.31 L1353.5,1250.44 L1354.0,1250.57 L1354.5,1250.69 L1355.0,1250.82 L1355.5,1250.94 L1356.0,1251.07 L1356.5,1251.19 L1357.0,1251.32 L1357.5,1251.44 L1358.0,1251.57 L1358.5,1251.69 L1359.0,1251.82 L1359.5,1251.94 L1360.0,1252.07 L1360.5,1252.20 L1361.0,1252.32 L1361.5,1252.45 L1362.0,1252.57" stroke="#f01414" stroke-width="12" fill="none" stroke-dasharray="10.5 3.5" stroke-linecap="butt"/>
<path d="M390.0,1287.8 L392.0,1293.2 L397.8,1293.5 L393.2,1297.1 L394.8,1302.6 L390.0,1299.4 L385.2,1302.6 L386.8,1297.1 L382.2,1293.5 L388.0,1293.2 Z" stroke="#c81ec8" stroke-width="1.1" fill="none" stroke-linejoin="round" stroke-linecap="round" />
<path d="M531.0,1246.8 L533.0,1252.2 L538.8,1252.5 L534.2,1256.1 L535.8,1261.6 L531.0,1258.4 L526.2,1261.6 L527.8,1256.1 L523.2,1252.5 L529.0,1252.2 Z" stroke="#c81ec8" stroke-width="1.1" fill="none" stroke-linejoin="round" stroke-linecap="round" />
<path d="M1345.2,1176.4 L1347.2,1181.8 L1353.0,1182.1 L1348.4,1185.7 L1350.0,1191.2 L1345.2,1188.0 L1340.4,1191.2 L1342.0,1185.7 L1337.4,1182.1 L1343.2,1181.8 Z" stroke="#c81ec8" stroke-width="1.1" fill="none" stroke-linejoin="round" stroke-linecap="round" />
<path d="M1442.0,1193.8 L1444.0,1199.2 L1449.8,1199.5 L1445.2,1203.1 L1446.8,1208.6 L1442.0,1205.4 L1437.2,1208.6 L1438.8,1203.1 L1434.2,1199.5 L1440.0,1199.2 Z" stroke="#c81ec8" stroke-width="1.1" fill="none" stroke-linejoin="round" stroke-linecap="round" />
<path d="M1593.0,1225.8 L1595.0,1231.2 L1600.8,1231.5 L1596.2,1235.1 L1597.8,1240.6 L1593.0,1237.4 L1588.2,1240.6 L1589.8,1235.1 L1585.2,1231.5 L1591.0,1231.2 Z" stroke="#c81ec8" stroke-width="1.1" fill="none" stroke-linejoin="round" stroke-linecap="round" />
</g>
<line x1="260" y1="1133.5" x2="1811" y2="1133.5" stroke="#000" stroke-width="1" shape-rendering="crispEdges"/>
<line x1="260" y1="1355.5" x2="1811" y2="1355.5" stroke="#000" stroke-width="1" shape-rendering="crispEdges"/>
<line x1="260.5" y1="1133" x2="260.5" y2="1356" stroke="#000" stroke-width="1" shape-rendering="crispEdges"/>
<line x1="1810.5" y1="1133" x2="1810.5" y2="1356" stroke="#000" stroke-width="1" shape-rendering="crispEdges"/>
<text x="186.70" y="1192.90" font-size="28.00" fill="#000" stroke="#fff" stroke-width="0.35" textLength="31.33" lengthAdjust="spacingAndGlyphs" >15</text>
<circle cx="225.40" cy="1173.85" r="4.5" fill="none" stroke="#000" stroke-width="1.9"/>
<text x="231.46" y="1192.90" font-size="28.00" fill="#000" stroke="#fff" stroke-width="0.35" textLength="20.62" lengthAdjust="spacingAndGlyphs" >N</text>
<text x="215.25" y="1257.90" font-size="28.00" fill="#000" stroke="#fff" stroke-width="0.35" textLength="15.01" lengthAdjust="spacingAndGlyphs" >0</text>
<circle cx="237.60" cy="1239.30" r="4.5" fill="none" stroke="#000" stroke-width="1.9"/>
<text x="187.65" y="1322.90" font-size="28.00" fill="#000" stroke="#fff" stroke-width="0.35" textLength="31.33" lengthAdjust="spacingAndGlyphs" >15</text>
<circle cx="226.80" cy="1303.60" r="4.5" fill="none" stroke="#000" stroke-width="1.9"/>
<text x="232.01" y="1322.90" font-size="28.00" fill="#000" stroke="#fff" stroke-width="0.35" textLength="18.89" lengthAdjust="spacingAndGlyphs" >S</text>
<text x="215.05" y="1409.60" font-size="28.20" fill="#000" stroke="#fff" stroke-width="0.35" textLength="81.81" lengthAdjust="spacingAndGlyphs" >GLON</text>
<text x="403.06" y="1409.60" font-size="28.20" fill="#000" stroke="#fff" stroke-width="0.35" textLength="72.69" lengthAdjust="spacingAndGlyphs" >294.7</text>
<text x="687.06" y="1409.60" font-size="28.20" fill="#000" stroke="#fff" stroke-width="0.35" textLength="72.69" lengthAdjust="spacingAndGlyphs" >000.6</text>
<text x="867.06" y="1409.60" font-size="28.20" fill="#000" stroke="#fff" stroke-width="0.35" textLength="72.69" lengthAdjust="spacingAndGlyphs" >042.5</text>
<text x="1048.06" y="1409.60" font-size="28.20" fill="#000" stroke="#fff" stroke-width="0.35" textLength="72.69" lengthAdjust="spacingAndGlyphs" >084.5</text>
<text x="1229.06" y="1409.60" font-size="28.20" fill="#000" stroke="#fff" stroke-width="0.35" textLength="72.69" lengthAdjust="spacingAndGlyphs" >126.5</text>
<text x="1410.06" y="1409.60" font-size="28.20" fill="#000" stroke="#fff" stroke-width="0.35" textLength="72.69" lengthAdjust="spacingAndGlyphs" >168.6</text>
<text x="1591.06" y="1409.60" font-size="28.20" fill="#000" stroke="#fff" stroke-width="0.35" textLength="72.69" lengthAdjust="spacingAndGlyphs" >210.7</text>
<text x="1772.86" y="1409.60" font-size="28.20" fill="#000" stroke="#fff" stroke-width="0.35" textLength="72.69" lengthAdjust="spacingAndGlyphs" >252.8</text>
<text x="218.07" y="1450.35" font-size="28.20" fill="#000" stroke="#fff" stroke-width="0.35" textLength="74.08" lengthAdjust="spacingAndGlyphs" >GLAT</text>
<text x="406.30" y="1450.35" font-size="28.20" fill="#000" stroke="#fff" stroke-width="0.35" textLength="66.20" lengthAdjust="spacingAndGlyphs" >-03.4</text>
<text x="686.65" y="1450.35" font-size="28.20" fill="#000" stroke="#fff" stroke-width="0.35" textLength="73.49" lengthAdjust="spacingAndGlyphs" >+06.5</text>
<text x="866.65" y="1450.35" font-size="28.20" fill="#000" stroke="#fff" stroke-width="0.35" textLength="73.49" lengthAdjust="spacingAndGlyphs" >+12.6</text>
<text x="1047.65" y="1450.35" font-size="28.20" fill="#000" stroke="#fff" stroke-width="0.35" textLength="73.49" lengthAdjust="spacingAndGlyphs" >+11.4</text>
<text x="1228.65" y="1450.35" font-size="28.20" fill="#000" stroke="#fff" stroke-width="0.35" textLength="73.49" lengthAdjust="spacingAndGlyphs" >+03.5</text>
<text x="1413.30" y="1450.35" font-size="28.20" fill="#000" stroke="#fff" stroke-width="0.35" textLength="66.20" lengthAdjust="spacingAndGlyphs" >-06.6</text>
<text x="1594.30" y="1450.35" font-size="28.20" fill="#000" stroke="#fff" stroke-width="0.35" textLength="66.20" lengthAdjust="spacingAndGlyphs" >-12.6</text>
<text x="1776.10" y="1450.35" font-size="28.20" fill="#000" stroke="#fff" stroke-width="0.35" textLength="66.20" lengthAdjust="spacingAndGlyphs" >-11.4</text>
<text x="222.59" y="1491.10" font-size="28.20" fill="#000" stroke="#fff" stroke-width="0.35" textLength="73.46" lengthAdjust="spacingAndGlyphs" >GALT</text>
<text x="419.20" y="1491.10" font-size="28.20" fill="#000" stroke="#fff" stroke-width="0.35" textLength="48.46" lengthAdjust="spacingAndGlyphs" >779</text>
<text x="703.20" y="1491.10" font-size="28.20" fill="#000" stroke="#fff" stroke-width="0.35" textLength="48.46" lengthAdjust="spacingAndGlyphs" >825</text>
<text x="883.20" y="1491.10" font-size="28.20" fill="#000" stroke="#fff" stroke-width="0.35" textLength="48.46" lengthAdjust="spacingAndGlyphs" >740</text>
<text x="1064.20" y="1491.10" font-size="28.20" fill="#000" stroke="#fff" stroke-width="0.35" textLength="48.46" lengthAdjust="spacingAndGlyphs" >584</text>
<text x="1245.20" y="1491.10" font-size="28.20" fill="#000" stroke="#fff" stroke-width="0.35" textLength="48.46" lengthAdjust="spacingAndGlyphs" >445</text>
<text x="1426.20" y="1491.10" font-size="28.20" fill="#000" stroke="#fff" stroke-width="0.35" textLength="48.46" lengthAdjust="spacingAndGlyphs" >404</text>
<text x="1607.20" y="1491.10" font-size="28.20" fill="#000" stroke="#fff" stroke-width="0.35" textLength="48.46" lengthAdjust="spacingAndGlyphs" >482</text>
<text x="1789.00" y="1491.10" font-size="28.20" fill="#000" stroke="#fff" stroke-width="0.35" textLength="48.46" lengthAdjust="spacingAndGlyphs" >633</text>
<text x="214.15" y="1531.85" font-size="28.20" fill="#000" stroke="#fff" stroke-width="0.35" textLength="82.68" lengthAdjust="spacingAndGlyphs" >MLON</text>
<text x="403.06" y="1531.85" font-size="28.20" fill="#000" stroke="#fff" stroke-width="0.35" textLength="72.69" lengthAdjust="spacingAndGlyphs" >006.1</text>
<text x="687.06" y="1531.85" font-size="28.20" fill="#000" stroke="#fff" stroke-width="0.35" textLength="72.69" lengthAdjust="spacingAndGlyphs" >072.6</text>
<text x="867.06" y="1531.85" font-size="28.20" fill="#000" stroke="#fff" stroke-width="0.35" textLength="72.69" lengthAdjust="spacingAndGlyphs" >113.7</text>
<text x="1048.06" y="1531.85" font-size="28.20" fill="#000" stroke="#fff" stroke-width="0.35" textLength="72.69" lengthAdjust="spacingAndGlyphs" >155.9</text>
<text x="1229.06" y="1531.85" font-size="28.20" fill="#000" stroke="#fff" stroke-width="0.35" textLength="72.69" lengthAdjust="spacingAndGlyphs" >197.2</text>
<text x="1410.06" y="1531.85" font-size="28.20" fill="#000" stroke="#fff" stroke-width="0.35" textLength="72.69" lengthAdjust="spacingAndGlyphs" >241.0</text>
<text x="1591.06" y="1531.85" font-size="28.20" fill="#000" stroke="#fff" stroke-width="0.35" textLength="72.69" lengthAdjust="spacingAndGlyphs" >283.5</text>
<text x="1772.86" y="1531.85" font-size="28.20" fill="#000" stroke="#fff" stroke-width="0.35" textLength="72.69" lengthAdjust="spacingAndGlyphs" >324.5</text>
<text x="218.71" y="1572.60" font-size="28.20" fill="#000" stroke="#fff" stroke-width="0.35" textLength="74.33" lengthAdjust="spacingAndGlyphs" >MLAT</text>
<text x="402.65" y="1572.60" font-size="28.20" fill="#000" stroke="#fff" stroke-width="0.35" textLength="73.49" lengthAdjust="spacingAndGlyphs" >+09.8</text>
<text x="690.30" y="1572.60" font-size="28.20" fill="#000" stroke="#fff" stroke-width="0.35" textLength="66.20" lengthAdjust="spacingAndGlyphs" >-06.8</text>
<text x="866.65" y="1572.60" font-size="28.20" fill="#000" stroke="#fff" stroke-width="0.35" textLength="73.49" lengthAdjust="spacingAndGlyphs" >+03.3</text>
<text x="1047.65" y="1572.60" font-size="28.20" fill="#000" stroke="#fff" stroke-width="0.35" textLength="73.49" lengthAdjust="spacingAndGlyphs" >+02.7</text>
<text x="1232.30" y="1572.60" font-size="28.20" fill="#000" stroke="#fff" stroke-width="0.35" textLength="66.20" lengthAdjust="spacingAndGlyphs" >-04.9</text>
<text x="1413.30" y="1572.60" font-size="28.20" fill="#000" stroke="#fff" stroke-width="0.35" textLength="66.20" lengthAdjust="spacingAndGlyphs" >-11.6</text>
<text x="1594.30" y="1572.60" font-size="28.20" fill="#000" stroke="#fff" stroke-width="0.35" textLength="66.20" lengthAdjust="spacingAndGlyphs" >-10.9</text>
<text x="1776.10" y="1572.60" font-size="28.20" fill="#000" stroke="#fff" stroke-width="0.35" textLength="66.20" lengthAdjust="spacingAndGlyphs" >-04.3</text>
<text x="236.84" y="1613.35" font-size="28.20" fill="#000" stroke="#fff" stroke-width="0.35" textLength="37.30" lengthAdjust="spacingAndGlyphs" >UT</text>
<text x="403.06" y="1613.35" font-size="28.20" fill="#000" stroke="#fff" stroke-width="0.35" textLength="72.69" lengthAdjust="spacingAndGlyphs" >19:06</text>
<text x="687.06" y="1613.35" font-size="28.20" fill="#000" stroke="#fff" stroke-width="0.35" textLength="72.69" lengthAdjust="spacingAndGlyphs" >17:43</text>
<text x="867.06" y="1613.35" font-size="28.20" fill="#000" stroke="#fff" stroke-width="0.35" textLength="72.69" lengthAdjust="spacingAndGlyphs" >17:55</text>
<text x="1048.06" y="1613.35" font-size="28.20" fill="#000" stroke="#fff" stroke-width="0.35" textLength="72.69" lengthAdjust="spacingAndGlyphs" >18:07</text>
<text x="1229.06" y="1613.35" font-size="28.20" fill="#000" stroke="#fff" stroke-width="0.35" textLength="72.69" lengthAdjust="spacingAndGlyphs" >18:19</text>
<text x="1410.06" y="1613.35" font-size="28.20" fill="#000" stroke="#fff" stroke-width="0.35" textLength="72.69" lengthAdjust="spacingAndGlyphs" >18:31</text>
<text x="1591.06" y="1613.35" font-size="28.20" fill="#000" stroke="#fff" stroke-width="0.35" textLength="72.69" lengthAdjust="spacingAndGlyphs" >18:42</text>
<text x="1772.86" y="1613.35" font-size="28.20" fill="#000" stroke="#fff" stroke-width="0.35" textLength="72.69" lengthAdjust="spacingAndGlyphs" >18:54</text>
<text x="225.70" y="1654.10" font-size="28.20" fill="#000" stroke="#fff" stroke-width="0.35" textLength="52.35" lengthAdjust="spacingAndGlyphs" >SLT</text>
<text x="403.06" y="1654.10" font-size="28.20" fill="#000" stroke="#fff" stroke-width="0.35" textLength="72.69" lengthAdjust="spacingAndGlyphs" >15:00</text>
<text x="687.06" y="1654.10" font-size="28.20" fill="#000" stroke="#fff" stroke-width="0.35" textLength="72.69" lengthAdjust="spacingAndGlyphs" >18:00</text>
<text x="867.06" y="1654.10" font-size="28.20" fill="#000" stroke="#fff" stroke-width="0.35" textLength="72.69" lengthAdjust="spacingAndGlyphs" >21:00</text>
<text x="1048.06" y="1654.10" font-size="28.20" fill="#000" stroke="#fff" stroke-width="0.35" textLength="72.69" lengthAdjust="spacingAndGlyphs" >00:00</text>
<text x="1229.06" y="1654.10" font-size="28.20" fill="#000" stroke="#fff" stroke-width="0.35" textLength="72.69" lengthAdjust="spacingAndGlyphs" >03:00</text>
<text x="1410.06" y="1654.10" font-size="28.20" fill="#000" stroke="#fff" stroke-width="0.35" textLength="72.69" lengthAdjust="spacingAndGlyphs" >06:00</text>
<text x="1591.06" y="1654.10" font-size="28.20" fill="#000" stroke="#fff" stroke-width="0.35" textLength="72.69" lengthAdjust="spacingAndGlyphs" >09:00</text>
<text x="1772.86" y="1654.10" font-size="28.20" fill="#000" stroke="#fff" stroke-width="0.35" textLength="72.69" lengthAdjust="spacingAndGlyphs" >12:00</text>
<g transform="rotate(-90)">
<text x="-1642.18" y="1900.00" font-size="22.40" fill="#000" stroke="#fff" stroke-width="0.35" textLength="371.55" lengthAdjust="spacingAndGlyphs" >Preliminary corrected calibration, 2/11/09</text>
</g>
<g transform="rotate(-90)">
<text x="-1642.14" y="1924.50" font-size="22.50" fill="#000" stroke="#fff" stroke-width="0.35" textLength="285.92" lengthAdjust="spacingAndGlyphs" >Produced 28-Oct-2010 14:52:30</text>
</g>
</svg></body></html>
